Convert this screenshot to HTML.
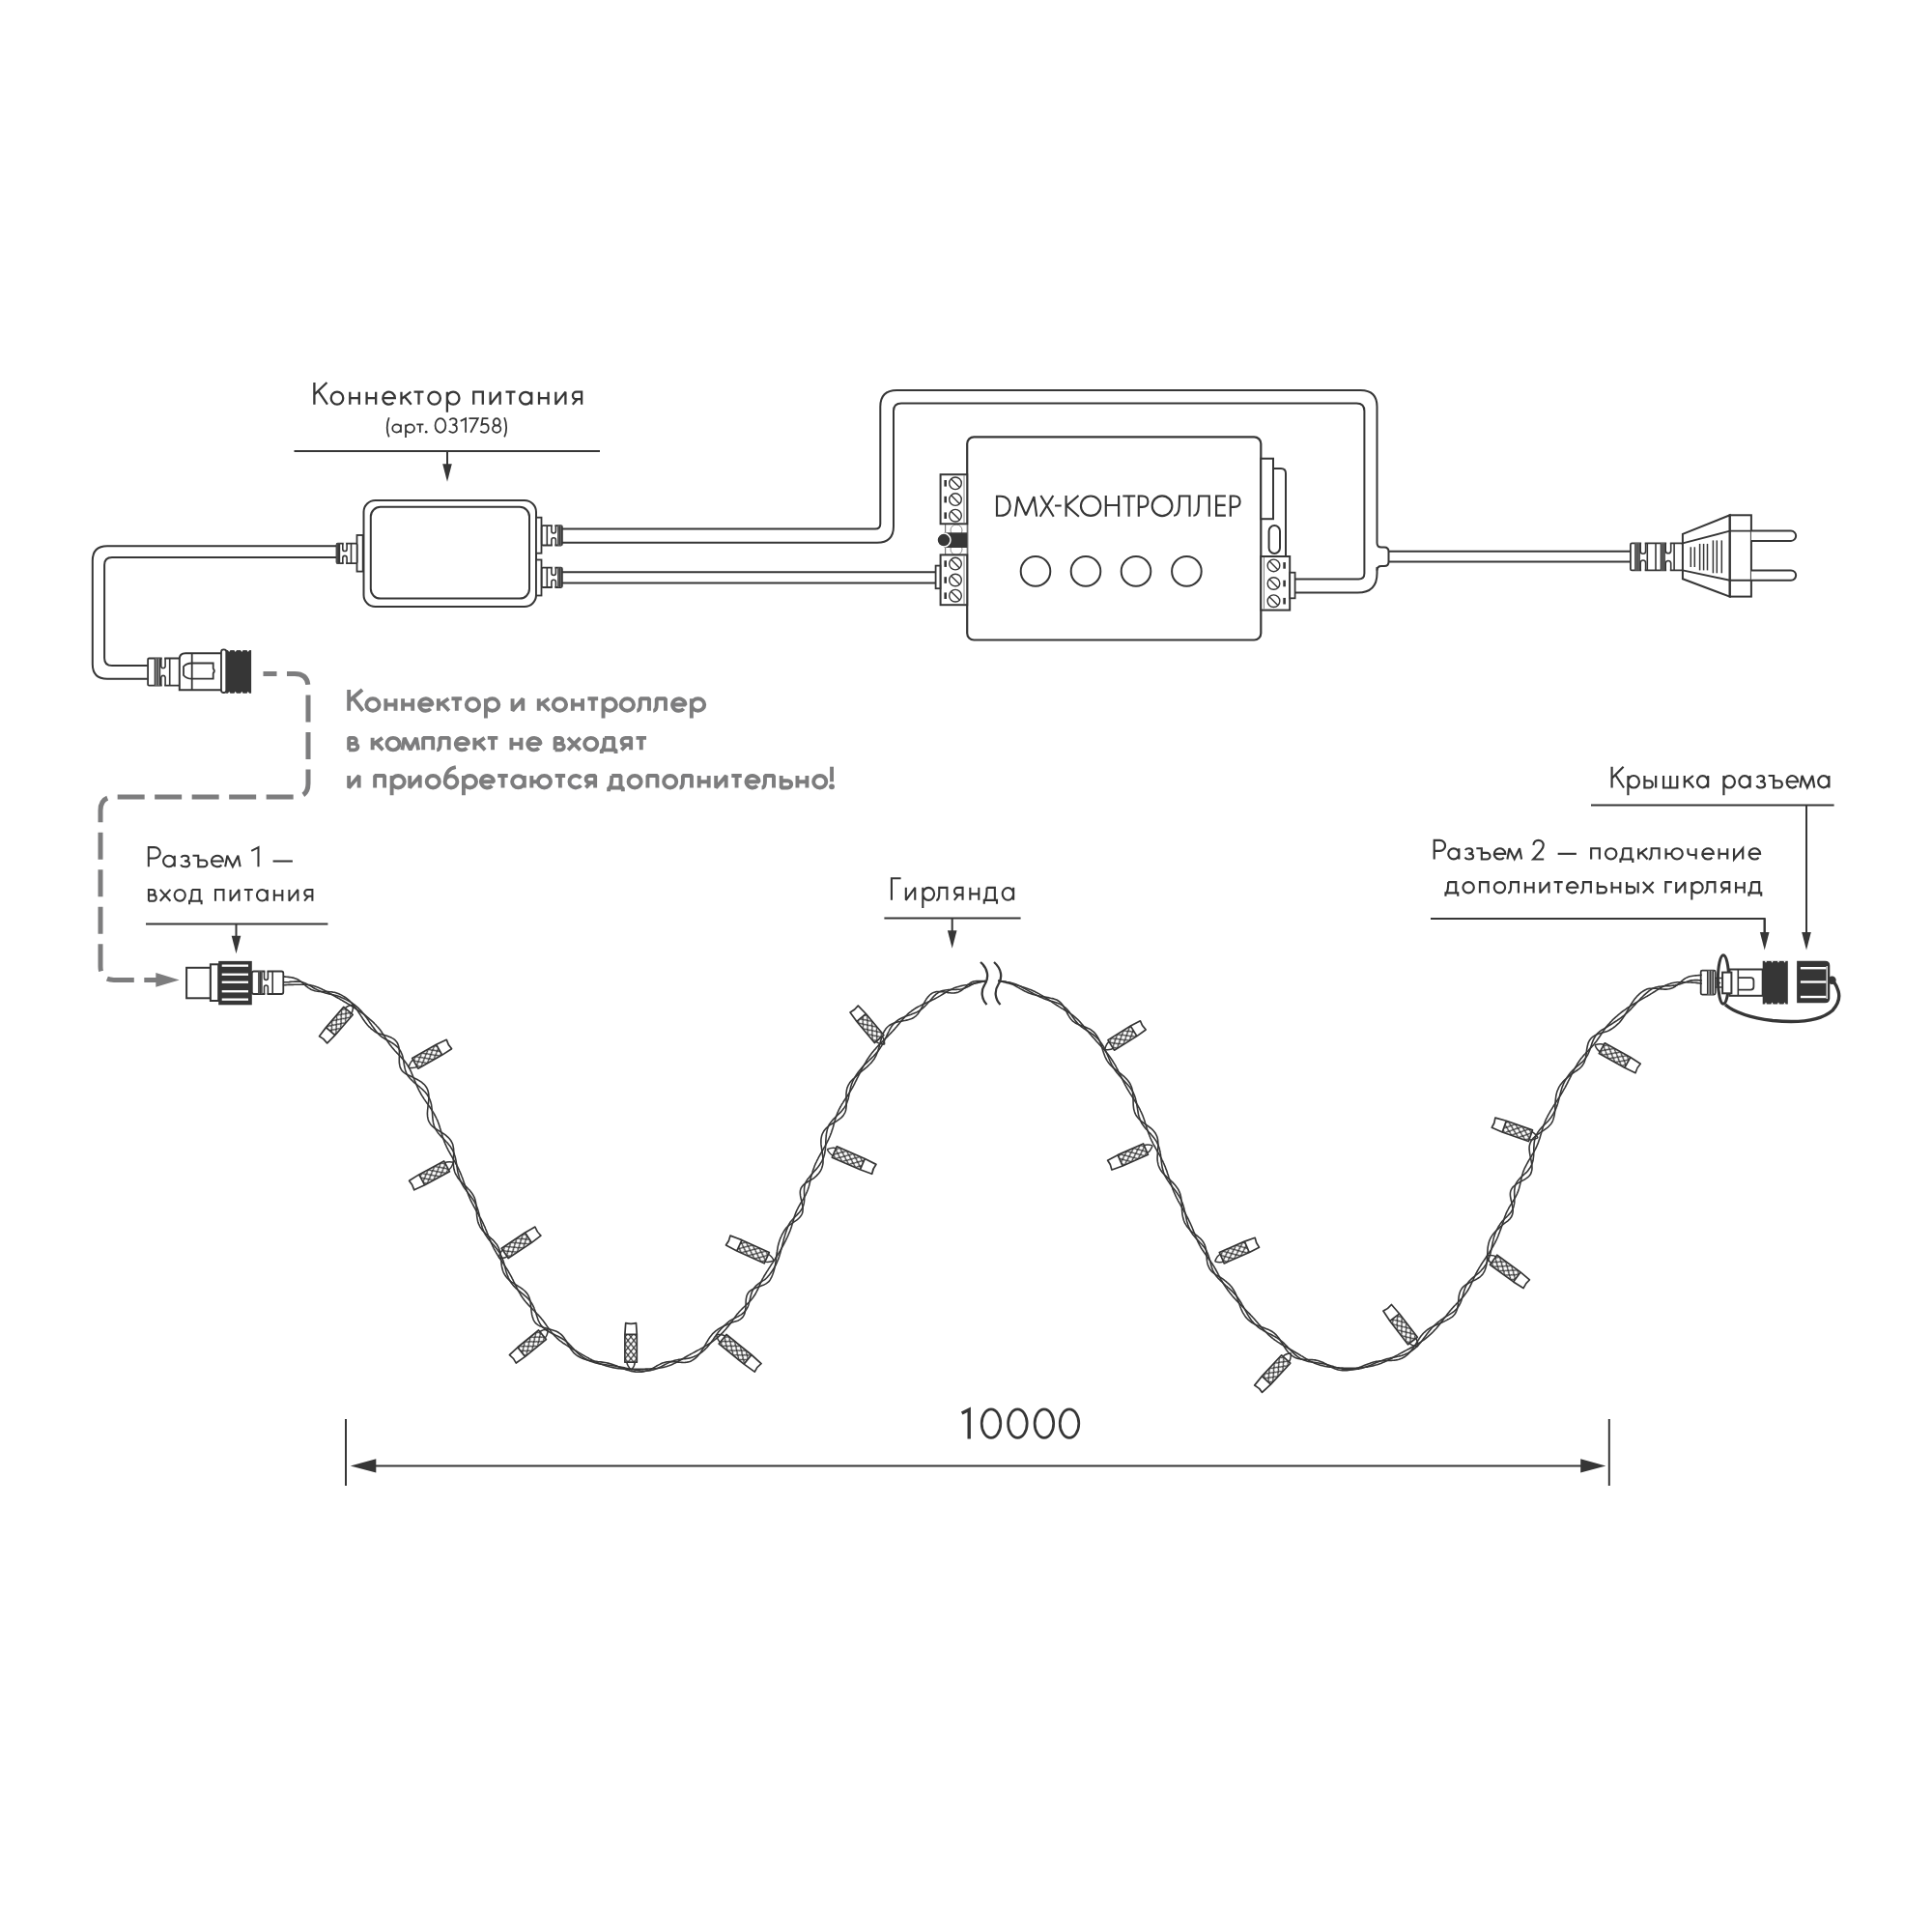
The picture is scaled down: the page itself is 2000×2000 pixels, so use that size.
<!DOCTYPE html>
<html><head><meta charset="utf-8"><style>
html,body{margin:0;padding:0;background:#fff;width:2000px;height:2000px;overflow:hidden}
svg{display:block}
text{font-family:"Liberation Sans",sans-serif}
</style></head><body>
<svg width="2000" height="2000" viewBox="0 0 2000 2000">
<rect width="2000" height="2000" fill="#fff"/>
<g fill="none" stroke="#363636" stroke-width="2.300" stroke-linecap="butt" stroke-linejoin="miter" stroke-miterlimit="3"><path vector-effect="non-scaling-stroke" transform="translate(325.40,418.65) scale(12.544,13.000)" d="M0,-1.74 V0 M1.04,-1.74 L0.02,-0.8 M0.34,-1.04 L1.08,0"/><path vector-effect="non-scaling-stroke" transform="translate(342.72,418.65) scale(12.544,13.000)" d="M1,-0.5 A0.5,0.5 0 1 1 0,-0.5 A0.5,0.5 0 1 1 1,-0.5 "/><path vector-effect="non-scaling-stroke" transform="translate(362.28,418.65) scale(12.544,13.000)" d="M0,-1 V0 M0.76,-1 V0 M0,-0.5 H0.76"/><path vector-effect="non-scaling-stroke" transform="translate(379.61,418.65) scale(12.544,13.000)" d="M0,-1 V0 M0.76,-1 V0 M0,-0.5 H0.76"/><path vector-effect="non-scaling-stroke" transform="translate(396.43,418.65) scale(12.544,13.000)" d="M0.02,-0.5 H0.99 A0.5,0.5 0 1 0 0.86,-0.16"/><path vector-effect="non-scaling-stroke" transform="translate(415.47,418.65) scale(12.544,13.000)" d="M0,-1 V0 M0.78,-1 L0.02,-0.44 M0.27,-0.62 L0.82,0"/><path vector-effect="non-scaling-stroke" transform="translate(428.50,418.65) scale(12.544,13.000)" d="M0,-1 H0.8 M0.4,-1 V0"/><path vector-effect="non-scaling-stroke" transform="translate(443.34,418.65) scale(12.544,13.000)" d="M1,-0.5 A0.5,0.5 0 1 1 0,-0.5 A0.5,0.5 0 1 1 1,-0.5 "/><path vector-effect="non-scaling-stroke" transform="translate(462.90,418.65) scale(12.544,13.000)" d="M0,-1 V0.62 M1,-0.5 A0.5,0.5 0 1 1 0,-0.5 A0.5,0.5 0 1 1 1,-0.5 "/><path vector-effect="non-scaling-stroke" transform="translate(490.27,418.65) scale(12.544,13.000)" d="M0,0 V-1 H0.76 V0"/><path vector-effect="non-scaling-stroke" transform="translate(507.60,418.65) scale(12.544,13.000)" d="M0,-1 V0 L0.8,-1 V0"/><path vector-effect="non-scaling-stroke" transform="translate(523.49,418.65) scale(12.544,13.000)" d="M0,-1 H0.8 M0.4,-1 V0"/><path vector-effect="non-scaling-stroke" transform="translate(538.07,418.65) scale(12.544,13.000)" d="M0.97,-0.5 A0.485,0.49 0 1 1 0,-0.5 A0.485,0.49 0 1 1 0.97,-0.5 M0.97,-1 V0"/><path vector-effect="non-scaling-stroke" transform="translate(558.04,418.65) scale(12.544,13.000)" d="M0,-1 V0 M0.76,-1 V0 M0,-0.5 H0.76"/><path vector-effect="non-scaling-stroke" transform="translate(575.37,418.65) scale(12.544,13.000)" d="M0,-1 V0 L0.8,-1 V0"/><path vector-effect="non-scaling-stroke" transform="translate(592.82,418.65) scale(12.544,13.000)" d="M0.74,0 V-1 H0.3 A0.29,0.29 0 0 0 0.3,-0.42 H0.74 M0.38,-0.42 L0.0,0"/></g>
<g fill="none" stroke="#363636" stroke-width="1.750" stroke-linecap="butt" stroke-linejoin="miter" stroke-miterlimit="3"><path vector-effect="non-scaling-stroke" transform="translate(400.77,447.75) scale(8.995,8.350)" d="M0.22,-1.86 C-0.08,-1.1 -0.08,-0.1 0.22,0.55"/><path vector-effect="non-scaling-stroke" transform="translate(406.26,447.75) scale(8.995,8.350)" d="M0.97,-0.5 A0.485,0.49 0 1 1 0,-0.5 A0.485,0.49 0 1 1 0.97,-0.5 M0.97,-1 V0"/><path vector-effect="non-scaling-stroke" transform="translate(420.00,447.75) scale(8.995,8.350)" d="M0,-1 V0.62 M1,-0.5 A0.5,0.5 0 1 1 0,-0.5 A0.5,0.5 0 1 1 1,-0.5 "/><path vector-effect="non-scaling-stroke" transform="translate(431.25,447.75) scale(8.995,8.350)" d="M0,-1 H0.8 M0.4,-1 V0"/><circle cx="441.20" cy="447.15" r="1.31" fill="#363636" stroke="none"/><path vector-effect="non-scaling-stroke" transform="translate(450.55,447.75) scale(8.995,8.350)" d="M1.2,-0.87 A0.6,0.87 0 1 1 0,-0.87 A0.6,0.87 0 1 1 1.2,-0.87 "/><path vector-effect="non-scaling-stroke" transform="translate(464.85,447.75) scale(8.995,8.350)" d="M0.06,-1.52 C0.16,-1.66 0.3,-1.74 0.46,-1.74 C0.7,-1.74 0.86,-1.57 0.86,-1.35 C0.86,-1.1 0.66,-0.97 0.38,-0.97 C0.7,-0.97 0.9,-0.8 0.9,-0.49 C0.9,-0.18 0.68,0 0.44,0 C0.24,0 0.08,-0.08 0,-0.2"/><path vector-effect="non-scaling-stroke" transform="translate(476.70,447.75) scale(8.995,8.350)" d="M0,-1.42 L0.6,-1.74 V0"/><path vector-effect="non-scaling-stroke" transform="translate(485.44,447.75) scale(8.995,8.350)" d="M0,-1.74 H1.04 L0.2,0"/><path vector-effect="non-scaling-stroke" transform="translate(497.30,447.75) scale(8.995,8.350)" d="M0.9,-1.74 H0.26 L0.14,-0.96 C0.26,-1.04 0.38,-1.07 0.5,-1.07 C0.76,-1.07 0.94,-0.84 0.94,-0.53 C0.94,-0.2 0.72,0 0.46,0 C0.28,0 0.1,-0.08 0,-0.2"/><path vector-effect="non-scaling-stroke" transform="translate(509.93,447.75) scale(8.995,8.350)" d="M0.85,-1.3 A0.38,0.44 0 1 1 0.09,-1.3 A0.38,0.44 0 1 1 0.85,-1.3 M0.94,-0.44 A0.47,0.44 0 1 1 0,-0.44 A0.47,0.44 0 1 1 0.94,-0.44 "/><path vector-effect="non-scaling-stroke" transform="translate(522.15,447.75) scale(8.995,8.350)" d="M0,-1.86 C0.3,-1.1 0.3,-0.1 0,0.55"/></g>
<line x1="304.5" y1="467" x2="621" y2="467" stroke="#363636" stroke-width="2"/>
<line x1="463" y1="467" x2="463" y2="482.2" stroke="#363636" stroke-width="2"/>
<polygon points="458.2,480.2 467.8,480.2 463,498.7" fill="#363636"/>
<g fill="none" stroke="#363636" stroke-width="2.050" stroke-linecap="butt" stroke-linejoin="miter" stroke-miterlimit="3"><path vector-effect="non-scaling-stroke" transform="translate(153.83,897.30) scale(12.088,11.600)" d="M0,0 V-1.74 H0.5 A0.49,0.49 0 0 1 0.5,-0.76 H0"/><path vector-effect="non-scaling-stroke" transform="translate(169.04,897.30) scale(12.088,11.600)" d="M0.97,-0.5 A0.485,0.49 0 1 1 0,-0.5 A0.485,0.49 0 1 1 0.97,-0.5 M0.97,-1 V0"/><path vector-effect="non-scaling-stroke" transform="translate(187.03,897.30) scale(12.088,11.600)" d="M0.03,-0.84 C0.11,-0.96 0.22,-1 0.36,-1 C0.56,-1 0.68,-0.9 0.68,-0.76 C0.68,-0.6 0.54,-0.52 0.32,-0.52 C0.6,-0.52 0.76,-0.42 0.76,-0.26 C0.76,-0.08 0.58,0 0.38,0 C0.21,0 0.07,-0.06 0,-0.18"/><path vector-effect="non-scaling-stroke" transform="translate(199.47,897.30) scale(12.088,11.600)" d="M0,-1 H0.48 V0 H0.95 A0.29,0.29 0 0 0 0.95,-0.58 H0.48"/><path vector-effect="non-scaling-stroke" transform="translate(218.99,897.30) scale(12.088,11.600)" d="M0.02,-0.5 H0.99 A0.5,0.5 0 1 0 0.86,-0.16"/><path vector-effect="non-scaling-stroke" transform="translate(233.16,897.30) scale(12.088,11.600)" d="M0,0 L0.18,-1 L0.64,-0.02 L1.1,-1 L1.28,0"/><path vector-effect="non-scaling-stroke" transform="translate(260.23,897.30) scale(12.088,11.600)" d="M0,-1.42 L0.6,-1.74 V0"/><path vector-effect="non-scaling-stroke" transform="translate(282.57,897.30) scale(12.088,11.600)" d="M0,-0.5 H1.68"/></g>
<g fill="none" stroke="#363636" stroke-width="2.050" stroke-linecap="butt" stroke-linejoin="miter" stroke-miterlimit="3"><path vector-effect="non-scaling-stroke" transform="translate(153.93,932.70) scale(11.186,11.800)" d="M0,0 V-1 H0.34 A0.24,0.24 0 0 1 0.34,-0.52 H0 M0.34,-0.52 H0.44 A0.26,0.26 0 0 1 0.44,0 H0"/><path vector-effect="non-scaling-stroke" transform="translate(165.76,932.70) scale(11.186,11.800)" d="M0,-1 L0.95,0 M0.95,-1 L0,0"/><path vector-effect="non-scaling-stroke" transform="translate(180.63,932.70) scale(11.186,11.800)" d="M1,-0.5 A0.5,0.5 0 1 1 0,-0.5 A0.5,0.5 0 1 1 1,-0.5 "/><path vector-effect="non-scaling-stroke" transform="translate(196.06,932.70) scale(11.186,11.800)" d="M0.24,-1 H0.94 V0 M0.24,-1 C0.24,-0.45 0.18,-0.12 0.08,0 M0,0.3 V0 H1.12 V0.3"/><path vector-effect="non-scaling-stroke" transform="translate(222.99,932.70) scale(11.186,11.800)" d="M0,0 V-1 H0.76 V0"/><path vector-effect="non-scaling-stroke" transform="translate(238.57,932.70) scale(11.186,11.800)" d="M0,-1 V0 L0.8,-1 V0"/><path vector-effect="non-scaling-stroke" transform="translate(252.83,932.70) scale(11.186,11.800)" d="M0,-1 H0.8 M0.4,-1 V0"/><path vector-effect="non-scaling-stroke" transform="translate(265.91,932.70) scale(11.186,11.800)" d="M0.97,-0.5 A0.485,0.49 0 1 1 0,-0.5 A0.485,0.49 0 1 1 0.97,-0.5 M0.97,-1 V0"/><path vector-effect="non-scaling-stroke" transform="translate(283.84,932.70) scale(11.186,11.800)" d="M0,-1 V0 M0.76,-1 V0 M0,-0.5 H0.76"/><path vector-effect="non-scaling-stroke" transform="translate(299.42,932.70) scale(11.186,11.800)" d="M0,-1 V0 L0.8,-1 V0"/><path vector-effect="non-scaling-stroke" transform="translate(315.10,932.70) scale(11.186,11.800)" d="M0.74,0 V-1 H0.3 A0.29,0.29 0 0 0 0.3,-0.42 H0.74 M0.38,-0.42 L0.0,0"/></g>
<line x1="151" y1="956.4" x2="339.4" y2="956.4" stroke="#363636" stroke-width="2"/>
<line x1="244.5" y1="956.4" x2="244.5" y2="970.7" stroke="#363636" stroke-width="2"/>
<polygon points="239.7,968.7 249.3,968.7 244.5,987.2" fill="#363636"/>
<g fill="none" stroke="#363636" stroke-width="2.100" stroke-linecap="butt" stroke-linejoin="miter" stroke-miterlimit="3"><path vector-effect="non-scaling-stroke" transform="translate(922.95,931.85) scale(11.797,13.000)" d="M0,0 V-1.74 H0.82"/><path vector-effect="non-scaling-stroke" transform="translate(937.82,931.85) scale(11.797,13.000)" d="M0,-1 V0 L0.8,-1 V0"/><path vector-effect="non-scaling-stroke" transform="translate(955.32,931.85) scale(11.797,13.000)" d="M0,-1 V0.62 M1,-0.5 A0.5,0.5 0 1 1 0,-0.5 A0.5,0.5 0 1 1 1,-0.5 "/><path vector-effect="non-scaling-stroke" transform="translate(969.20,931.85) scale(11.797,13.000)" d="M0.95,0 V-1 H0.26 V-0.52 C0.26,-0.15 0.16,0 0,0"/><path vector-effect="non-scaling-stroke" transform="translate(987.82,931.85) scale(11.797,13.000)" d="M0.74,0 V-1 H0.3 A0.29,0.29 0 0 0 0.3,-0.42 H0.74 M0.38,-0.42 L0.0,0"/><path vector-effect="non-scaling-stroke" transform="translate(1004.35,931.85) scale(11.797,13.000)" d="M0,-1 V0 M0.76,-1 V0 M0,-0.5 H0.76"/><path vector-effect="non-scaling-stroke" transform="translate(1018.77,931.85) scale(11.797,13.000)" d="M0.24,-1 H0.94 V0 M0.24,-1 C0.24,-0.45 0.18,-0.12 0.08,0 M0,0.3 V0 H1.12 V0.3"/><path vector-effect="non-scaling-stroke" transform="translate(1037.71,931.85) scale(11.797,13.000)" d="M0.97,-0.5 A0.485,0.49 0 1 1 0,-0.5 A0.485,0.49 0 1 1 0.97,-0.5 M0.97,-1 V0"/></g>
<line x1="915.4" y1="950.4" x2="1056.6" y2="950.4" stroke="#363636" stroke-width="2"/>
<line x1="985.7" y1="950.4" x2="985.7" y2="965.3" stroke="#363636" stroke-width="2"/>
<polygon points="980.9,963.3 990.5,963.3 985.7,981.8" fill="#363636"/>
<g fill="none" stroke="#363636" stroke-width="2.200" stroke-linecap="butt" stroke-linejoin="miter" stroke-miterlimit="3"><path vector-effect="non-scaling-stroke" transform="translate(1668.60,815.50) scale(11.510,12.500)" d="M0,-1.74 V0 M1.04,-1.74 L0.02,-0.8 M0.34,-1.04 L1.08,0"/><path vector-effect="non-scaling-stroke" transform="translate(1685.41,815.50) scale(11.510,12.500)" d="M0,-1 V0.62 M1,-0.5 A0.5,0.5 0 1 1 0,-0.5 A0.5,0.5 0 1 1 1,-0.5 "/><path vector-effect="non-scaling-stroke" transform="translate(1702.42,815.50) scale(11.510,12.500)" d="M0,-1 V0 H0.44 A0.29,0.29 0 0 0 0.44,-0.58 H0 M1.02,-1 V0"/><path vector-effect="non-scaling-stroke" transform="translate(1722.03,815.50) scale(11.510,12.500)" d="M0,-1 V0 H1.24 V-1 M0.62,-1 V0"/><path vector-effect="non-scaling-stroke" transform="translate(1743.81,815.50) scale(11.510,12.500)" d="M0,-1 V0 M0.78,-1 L0.02,-0.44 M0.27,-0.62 L0.82,0"/><path vector-effect="non-scaling-stroke" transform="translate(1757.01,815.50) scale(11.510,12.500)" d="M0.97,-0.5 A0.485,0.49 0 1 1 0,-0.5 A0.485,0.49 0 1 1 0.97,-0.5 M0.97,-1 V0"/><path vector-effect="non-scaling-stroke" transform="translate(1784.43,815.50) scale(11.510,12.500)" d="M0,-1 V0.62 M1,-0.5 A0.5,0.5 0 1 1 0,-0.5 A0.5,0.5 0 1 1 1,-0.5 "/><path vector-effect="non-scaling-stroke" transform="translate(1800.44,815.50) scale(11.510,12.500)" d="M0.97,-0.5 A0.485,0.49 0 1 1 0,-0.5 A0.485,0.49 0 1 1 0.97,-0.5 M0.97,-1 V0"/><path vector-effect="non-scaling-stroke" transform="translate(1818.35,815.50) scale(11.510,12.500)" d="M0.03,-0.84 C0.11,-0.96 0.22,-1 0.36,-1 C0.56,-1 0.68,-0.9 0.68,-0.76 C0.68,-0.6 0.54,-0.52 0.32,-0.52 C0.6,-0.52 0.76,-0.42 0.76,-0.26 C0.76,-0.08 0.58,0 0.38,0 C0.21,0 0.07,-0.06 0,-0.18"/><path vector-effect="non-scaling-stroke" transform="translate(1830.60,815.50) scale(11.510,12.500)" d="M0,-1 H0.48 V0 H0.95 A0.29,0.29 0 0 0 0.95,-0.58 H0.48"/><path vector-effect="non-scaling-stroke" transform="translate(1849.74,815.50) scale(11.510,12.500)" d="M0.02,-0.5 H0.99 A0.5,0.5 0 1 0 0.86,-0.16"/><path vector-effect="non-scaling-stroke" transform="translate(1863.50,815.50) scale(11.510,12.500)" d="M0,0 L0.18,-1 L0.64,-0.02 L1.1,-1 L1.28,0"/><path vector-effect="non-scaling-stroke" transform="translate(1882.23,815.50) scale(11.510,12.500)" d="M0.97,-0.5 A0.485,0.49 0 1 1 0,-0.5 A0.485,0.49 0 1 1 0.97,-0.5 M0.97,-1 V0"/></g>
<line x1="1647" y1="833.6" x2="1898.6" y2="833.6" stroke="#363636" stroke-width="2"/>
<line x1="1870" y1="833.6" x2="1870" y2="967.1" stroke="#363636" stroke-width="2"/>
<polygon points="1865.2,965.1 1874.8,965.1 1870,983.6" fill="#363636"/>
<g fill="none" stroke="#363636" stroke-width="2.150" stroke-linecap="butt" stroke-linejoin="miter" stroke-miterlimit="3"><path vector-effect="non-scaling-stroke" transform="translate(1484.73,889.50) scale(11.456,11.300)" d="M0,0 V-1.74 H0.5 A0.49,0.49 0 0 1 0.5,-0.76 H0"/><path vector-effect="non-scaling-stroke" transform="translate(1499.23,889.50) scale(11.456,11.300)" d="M0.97,-0.5 A0.485,0.49 0 1 1 0,-0.5 A0.485,0.49 0 1 1 0.97,-0.5 M0.97,-1 V0"/><path vector-effect="non-scaling-stroke" transform="translate(1516.45,889.50) scale(11.456,11.300)" d="M0.03,-0.84 C0.11,-0.96 0.22,-1 0.36,-1 C0.56,-1 0.68,-0.9 0.68,-0.76 C0.68,-0.6 0.54,-0.52 0.32,-0.52 C0.6,-0.52 0.76,-0.42 0.76,-0.26 C0.76,-0.08 0.58,0 0.38,0 C0.21,0 0.07,-0.06 0,-0.18"/><path vector-effect="non-scaling-stroke" transform="translate(1528.32,889.50) scale(11.456,11.300)" d="M0,-1 H0.48 V0 H0.95 A0.29,0.29 0 0 0 0.95,-0.58 H0.48"/><path vector-effect="non-scaling-stroke" transform="translate(1546.93,889.50) scale(11.456,11.300)" d="M0.02,-0.5 H0.99 A0.5,0.5 0 1 0 0.86,-0.16"/><path vector-effect="non-scaling-stroke" transform="translate(1560.42,889.50) scale(11.456,11.300)" d="M0,0 L0.18,-1 L0.64,-0.02 L1.1,-1 L1.28,0"/><path vector-effect="non-scaling-stroke" transform="translate(1586.95,889.50) scale(11.456,11.300)" d="M0.04,-1.3 C0.06,-1.58 0.26,-1.74 0.48,-1.74 C0.76,-1.74 0.94,-1.54 0.94,-1.28 C0.94,-1.0 0.74,-0.78 0.02,0 H0.98"/><path vector-effect="non-scaling-stroke" transform="translate(1612.64,889.50) scale(11.456,11.300)" d="M0,-0.5 H1.68"/><path vector-effect="non-scaling-stroke" transform="translate(1647.14,889.50) scale(11.456,11.300)" d="M0,0 V-1 H0.76 V0"/><path vector-effect="non-scaling-stroke" transform="translate(1661.95,889.50) scale(11.456,11.300)" d="M1,-0.5 A0.5,0.5 0 1 1 0,-0.5 A0.5,0.5 0 1 1 1,-0.5 "/><path vector-effect="non-scaling-stroke" transform="translate(1677.48,889.50) scale(11.456,11.300)" d="M0.24,-1 H0.94 V0 M0.24,-1 C0.24,-0.45 0.18,-0.12 0.08,0 M0,0.3 V0 H1.12 V0.3"/><path vector-effect="non-scaling-stroke" transform="translate(1696.18,889.50) scale(11.456,11.300)" d="M0,-1 V0 M0.78,-1 L0.02,-0.44 M0.27,-0.62 L0.82,0"/><path vector-effect="non-scaling-stroke" transform="translate(1706.70,889.50) scale(11.456,11.300)" d="M0.95,0 V-1 H0.26 V-0.52 C0.26,-0.15 0.16,0 0,0"/><path vector-effect="non-scaling-stroke" transform="translate(1724.59,889.50) scale(11.456,11.300)" d="M0,-1 V0 M0,-0.5 H0.48 M1.5,-0.5 A0.5,0.5 0 1 1 0.5,-0.5 A0.5,0.5 0 1 1 1.5,-0.5 "/><path vector-effect="non-scaling-stroke" transform="translate(1747.43,889.50) scale(11.456,11.300)" d="M0,-1 V-0.66 C0,-0.48 0.12,-0.4 0.32,-0.4 H0.72 M0.72,-1 V0"/><path vector-effect="non-scaling-stroke" transform="translate(1762.46,889.50) scale(11.456,11.300)" d="M0.02,-0.5 H0.99 A0.5,0.5 0 1 0 0.86,-0.16"/><path vector-effect="non-scaling-stroke" transform="translate(1779.56,889.50) scale(11.456,11.300)" d="M0,-1 V0 M0.76,-1 V0 M0,-0.5 H0.76"/><path vector-effect="non-scaling-stroke" transform="translate(1795.05,889.50) scale(11.456,11.300)" d="M0,-1 V0 L0.8,-1 V0"/><path vector-effect="non-scaling-stroke" transform="translate(1810.77,889.50) scale(11.456,11.300)" d="M0.02,-0.5 H0.99 A0.5,0.5 0 1 0 0.86,-0.16"/></g>
<g fill="none" stroke="#363636" stroke-width="2.150" stroke-linecap="butt" stroke-linejoin="miter" stroke-miterlimit="3"><path vector-effect="non-scaling-stroke" transform="translate(1496.48,924.40) scale(11.407,11.300)" d="M0.24,-1 H0.94 V0 M0.24,-1 C0.24,-0.45 0.18,-0.12 0.08,0 M0,0.3 V0 H1.12 V0.3"/><path vector-effect="non-scaling-stroke" transform="translate(1514.45,924.40) scale(11.407,11.300)" d="M1,-0.5 A0.5,0.5 0 1 1 0,-0.5 A0.5,0.5 0 1 1 1,-0.5 "/><path vector-effect="non-scaling-stroke" transform="translate(1531.96,924.40) scale(11.407,11.300)" d="M0,0 V-1 H0.76 V0"/><path vector-effect="non-scaling-stroke" transform="translate(1546.73,924.40) scale(11.407,11.300)" d="M1,-0.5 A0.5,0.5 0 1 1 0,-0.5 A0.5,0.5 0 1 1 1,-0.5 "/><path vector-effect="non-scaling-stroke" transform="translate(1561.07,924.40) scale(11.407,11.300)" d="M0.95,0 V-1 H0.26 V-0.52 C0.26,-0.15 0.16,0 0,0"/><path vector-effect="non-scaling-stroke" transform="translate(1578.92,924.40) scale(11.407,11.300)" d="M0,-1 V0 M0.76,-1 V0 M0,-0.5 H0.76"/><path vector-effect="non-scaling-stroke" transform="translate(1594.36,924.40) scale(11.407,11.300)" d="M0,-1 V0 L0.8,-1 V0"/><path vector-effect="non-scaling-stroke" transform="translate(1608.58,924.40) scale(11.407,11.300)" d="M0,-1 H0.8 M0.4,-1 V0"/><path vector-effect="non-scaling-stroke" transform="translate(1622.11,924.40) scale(11.407,11.300)" d="M0.02,-0.5 H0.99 A0.5,0.5 0 1 0 0.86,-0.16"/><path vector-effect="non-scaling-stroke" transform="translate(1636.00,924.40) scale(11.407,11.300)" d="M0.95,0 V-1 H0.26 V-0.52 C0.26,-0.15 0.16,0 0,0"/><path vector-effect="non-scaling-stroke" transform="translate(1653.84,924.40) scale(11.407,11.300)" d="M0,-1 V0 H0.51 A0.29,0.29 0 0 0 0.51,-0.58 H0"/><path vector-effect="non-scaling-stroke" transform="translate(1668.62,924.40) scale(11.407,11.300)" d="M0,-1 V0 M0.76,-1 V0 M0,-0.5 H0.76"/><path vector-effect="non-scaling-stroke" transform="translate(1684.07,924.40) scale(11.407,11.300)" d="M0,-1 V0 H0.44 A0.29,0.29 0 0 0 0.44,-0.58 H0 M1.02,-1 V0"/><path vector-effect="non-scaling-stroke" transform="translate(1700.79,924.40) scale(11.407,11.300)" d="M0,-1 L0.95,0 M0.95,-1 L0,0"/><path vector-effect="non-scaling-stroke" transform="translate(1724.28,924.40) scale(11.407,11.300)" d="M0,0 V-1 H0.58"/><path vector-effect="non-scaling-stroke" transform="translate(1735.19,924.40) scale(11.407,11.300)" d="M0,-1 V0 L0.8,-1 V0"/><path vector-effect="non-scaling-stroke" transform="translate(1751.32,924.40) scale(11.407,11.300)" d="M0,-1 V0.62 M1,-0.5 A0.5,0.5 0 1 1 0,-0.5 A0.5,0.5 0 1 1 1,-0.5 "/><path vector-effect="non-scaling-stroke" transform="translate(1764.54,924.40) scale(11.407,11.300)" d="M0.95,0 V-1 H0.26 V-0.52 C0.26,-0.15 0.16,0 0,0"/><path vector-effect="non-scaling-stroke" transform="translate(1781.81,924.40) scale(11.407,11.300)" d="M0.74,0 V-1 H0.3 A0.29,0.29 0 0 0 0.3,-0.42 H0.74 M0.38,-0.42 L0.0,0"/><path vector-effect="non-scaling-stroke" transform="translate(1797.03,924.40) scale(11.407,11.300)" d="M0,-1 V0 M0.76,-1 V0 M0,-0.5 H0.76"/><path vector-effect="non-scaling-stroke" transform="translate(1810.45,924.40) scale(11.407,11.300)" d="M0.24,-1 H0.94 V0 M0.24,-1 C0.24,-0.45 0.18,-0.12 0.08,0 M0,0.3 V0 H1.12 V0.3"/></g>
<path d="M1481,951 H1826.7 V965" fill="none" stroke="#363636" stroke-width="2"/>
<line x1="1826.7" y1="951" x2="1826.7" y2="967.1" stroke="#363636" stroke-width="2"/>
<polygon points="1821.9,965.1 1831.5,965.1 1826.7,983.6" fill="#363636"/>
<g fill="none" stroke="#7d7d7e" stroke-width="3.900" stroke-linecap="butt" stroke-linejoin="miter" stroke-miterlimit="1.3"><path vector-effect="non-scaling-stroke" transform="translate(361.15,735.75) scale(13.389,12.500)" d="M0,-1.74 V0 M1.04,-1.74 L0.02,-0.8 M0.34,-1.04 L1.08,0"/><path vector-effect="non-scaling-stroke" transform="translate(379.23,735.75) scale(13.389,12.500)" d="M1,-0.5 A0.5,0.5 0 1 1 0,-0.5 A0.5,0.5 0 1 1 1,-0.5 "/><path vector-effect="non-scaling-stroke" transform="translate(399.37,735.75) scale(13.389,12.500)" d="M0,-1 V0 M0.76,-1 V0 M0,-0.5 H0.76"/><path vector-effect="non-scaling-stroke" transform="translate(417.05,735.75) scale(13.389,12.500)" d="M0,-1 V0 M0.76,-1 V0 M0,-0.5 H0.76"/><path vector-effect="non-scaling-stroke" transform="translate(434.22,735.75) scale(13.389,12.500)" d="M0.02,-0.5 H0.99 A0.5,0.5 0 1 0 0.86,-0.16"/><path vector-effect="non-scaling-stroke" transform="translate(453.86,735.75) scale(13.389,12.500)" d="M0,-1 V0 M0.78,-1 L0.02,-0.44 M0.27,-0.62 L0.82,0"/><path vector-effect="non-scaling-stroke" transform="translate(467.45,735.75) scale(13.389,12.500)" d="M0,-1 H0.8 M0.4,-1 V0"/><path vector-effect="non-scaling-stroke" transform="translate(482.78,735.75) scale(13.389,12.500)" d="M1,-0.5 A0.5,0.5 0 1 1 0,-0.5 A0.5,0.5 0 1 1 1,-0.5 "/><path vector-effect="non-scaling-stroke" transform="translate(502.92,735.75) scale(13.389,12.500)" d="M0,-1 V0.62 M1,-0.5 A0.5,0.5 0 1 1 0,-0.5 A0.5,0.5 0 1 1 1,-0.5 "/><path vector-effect="non-scaling-stroke" transform="translate(530.56,735.75) scale(13.389,12.500)" d="M0,-1 V0 L0.8,-1 V0"/><path vector-effect="non-scaling-stroke" transform="translate(557.77,735.75) scale(13.389,12.500)" d="M0,-1 V0 M0.78,-1 L0.02,-0.44 M0.27,-0.62 L0.82,0"/><path vector-effect="non-scaling-stroke" transform="translate(572.73,735.75) scale(13.389,12.500)" d="M1,-0.5 A0.5,0.5 0 1 1 0,-0.5 A0.5,0.5 0 1 1 1,-0.5 "/><path vector-effect="non-scaling-stroke" transform="translate(592.87,735.75) scale(13.389,12.500)" d="M0,-1 V0 M0.76,-1 V0 M0,-0.5 H0.76"/><path vector-effect="non-scaling-stroke" transform="translate(608.42,735.75) scale(13.389,12.500)" d="M0,-1 H0.8 M0.4,-1 V0"/><path vector-effect="non-scaling-stroke" transform="translate(624.51,735.75) scale(13.389,12.500)" d="M0,-1 V0.62 M1,-0.5 A0.5,0.5 0 1 1 0,-0.5 A0.5,0.5 0 1 1 1,-0.5 "/><path vector-effect="non-scaling-stroke" transform="translate(642.65,735.75) scale(13.389,12.500)" d="M1,-0.5 A0.5,0.5 0 1 1 0,-0.5 A0.5,0.5 0 1 1 1,-0.5 "/><path vector-effect="non-scaling-stroke" transform="translate(659.28,735.75) scale(13.389,12.500)" d="M0.95,0 V-1 H0.26 V-0.52 C0.26,-0.15 0.16,0 0,0"/><path vector-effect="non-scaling-stroke" transform="translate(676.25,735.75) scale(13.389,12.500)" d="M0.95,0 V-1 H0.26 V-0.52 C0.26,-0.15 0.16,0 0,0"/><path vector-effect="non-scaling-stroke" transform="translate(696.22,735.75) scale(13.389,12.500)" d="M0.02,-0.5 H0.99 A0.5,0.5 0 1 0 0.86,-0.16"/><path vector-effect="non-scaling-stroke" transform="translate(715.86,735.75) scale(13.389,12.500)" d="M0,-1 V0.62 M1,-0.5 A0.5,0.5 0 1 1 0,-0.5 A0.5,0.5 0 1 1 1,-0.5 "/></g>
<g fill="none" stroke="#7d7d7e" stroke-width="3.900" stroke-linecap="butt" stroke-linejoin="miter" stroke-miterlimit="1.3"><path vector-effect="non-scaling-stroke" transform="translate(361.15,776.35) scale(13.168,12.500)" d="M0,0 V-1 H0.34 A0.24,0.24 0 0 1 0.34,-0.52 H0 M0.34,-0.52 H0.44 A0.26,0.26 0 0 1 0.44,0 H0"/><path vector-effect="non-scaling-stroke" transform="translate(385.63,776.35) scale(13.168,12.500)" d="M0,-1 V0 M0.78,-1 L0.02,-0.44 M0.27,-0.62 L0.82,0"/><path vector-effect="non-scaling-stroke" transform="translate(400.41,776.35) scale(13.168,12.500)" d="M1,-0.5 A0.5,0.5 0 1 1 0,-0.5 A0.5,0.5 0 1 1 1,-0.5 "/><path vector-effect="non-scaling-stroke" transform="translate(416.33,776.35) scale(13.168,12.500)" d="M0,0 L0.18,-1 L0.64,-0.02 L1.1,-1 L1.28,0"/><path vector-effect="non-scaling-stroke" transform="translate(438.19,776.35) scale(13.168,12.500)" d="M0,0 V-1 H0.76 V0"/><path vector-effect="non-scaling-stroke" transform="translate(452.19,776.35) scale(13.168,12.500)" d="M0.95,0 V-1 H0.26 V-0.52 C0.26,-0.15 0.16,0 0,0"/><path vector-effect="non-scaling-stroke" transform="translate(471.95,776.35) scale(13.168,12.500)" d="M0.02,-0.5 H0.99 A0.5,0.5 0 1 0 0.86,-0.16"/><path vector-effect="non-scaling-stroke" transform="translate(491.37,776.35) scale(13.168,12.500)" d="M0,-1 V0 M0.78,-1 L0.02,-0.44 M0.27,-0.62 L0.82,0"/><path vector-effect="non-scaling-stroke" transform="translate(504.78,776.35) scale(13.168,12.500)" d="M0,-1 H0.8 M0.4,-1 V0"/><path vector-effect="non-scaling-stroke" transform="translate(529.44,776.35) scale(13.168,12.500)" d="M0,-1 V0 M0.76,-1 V0 M0,-0.5 H0.76"/><path vector-effect="non-scaling-stroke" transform="translate(546.45,776.35) scale(13.168,12.500)" d="M0.02,-0.5 H0.99 A0.5,0.5 0 1 0 0.86,-0.16"/><path vector-effect="non-scaling-stroke" transform="translate(574.62,776.35) scale(13.168,12.500)" d="M0,0 V-1 H0.34 A0.24,0.24 0 0 1 0.34,-0.52 H0 M0.34,-0.52 H0.44 A0.26,0.26 0 0 1 0.44,0 H0"/><path vector-effect="non-scaling-stroke" transform="translate(588.10,776.35) scale(13.168,12.500)" d="M0,-1 L0.95,0 M0.95,-1 L0,0"/><path vector-effect="non-scaling-stroke" transform="translate(605.11,776.35) scale(13.168,12.500)" d="M1,-0.5 A0.5,0.5 0 1 1 0,-0.5 A0.5,0.5 0 1 1 1,-0.5 "/><path vector-effect="non-scaling-stroke" transform="translate(622.77,776.35) scale(13.168,12.500)" d="M0.24,-1 H0.94 V0 M0.24,-1 C0.24,-0.45 0.18,-0.12 0.08,0 M0,0.3 V0 H1.12 V0.3"/><path vector-effect="non-scaling-stroke" transform="translate(643.40,776.35) scale(13.168,12.500)" d="M0.74,0 V-1 H0.3 A0.29,0.29 0 0 0 0.3,-0.42 H0.74 M0.38,-0.42 L0.0,0"/><path vector-effect="non-scaling-stroke" transform="translate(658.52,776.35) scale(13.168,12.500)" d="M0,-1 H0.8 M0.4,-1 V0"/></g>
<g fill="none" stroke="#7d7d7e" stroke-width="3.900" stroke-linecap="butt" stroke-linejoin="miter" stroke-miterlimit="1.3"><path vector-effect="non-scaling-stroke" transform="translate(361.15,815.45) scale(13.112,12.500)" d="M0,-1 V0 L0.8,-1 V0"/><path vector-effect="non-scaling-stroke" transform="translate(388.14,815.45) scale(13.112,12.500)" d="M0,0 V-1 H0.76 V0"/><path vector-effect="non-scaling-stroke" transform="translate(405.60,815.45) scale(13.112,12.500)" d="M0,-1 V0.62 M1,-0.5 A0.5,0.5 0 1 1 0,-0.5 A0.5,0.5 0 1 1 1,-0.5 "/><path vector-effect="non-scaling-stroke" transform="translate(424.22,815.45) scale(13.112,12.500)" d="M0,-1 V0 L0.8,-1 V0"/><path vector-effect="non-scaling-stroke" transform="translate(441.71,815.45) scale(13.112,12.500)" d="M1,-0.5 A0.5,0.5 0 1 1 0,-0.5 A0.5,0.5 0 1 1 1,-0.5 "/><path vector-effect="non-scaling-stroke" transform="translate(460.57,815.45) scale(13.112,12.500)" d="M0.98,-0.49 A0.49,0.49 0 1 1 0,-0.49 A0.49,0.49 0 1 1 0.98,-0.49 M0.02,-0.5 C0.04,-1.25 0.3,-1.6 0.86,-1.7"/><path vector-effect="non-scaling-stroke" transform="translate(479.92,815.45) scale(13.112,12.500)" d="M0,-1 V0.62 M1,-0.5 A0.5,0.5 0 1 1 0,-0.5 A0.5,0.5 0 1 1 1,-0.5 "/><path vector-effect="non-scaling-stroke" transform="translate(498.03,815.45) scale(13.112,12.500)" d="M0.02,-0.5 H0.99 A0.5,0.5 0 1 0 0.86,-0.16"/><path vector-effect="non-scaling-stroke" transform="translate(515.27,815.45) scale(13.112,12.500)" d="M0,-1 H0.8 M0.4,-1 V0"/><path vector-effect="non-scaling-stroke" transform="translate(530.13,815.45) scale(13.112,12.500)" d="M0.97,-0.5 A0.485,0.49 0 1 1 0,-0.5 A0.485,0.49 0 1 1 0.97,-0.5 M0.97,-1 V0"/><path vector-effect="non-scaling-stroke" transform="translate(550.35,815.45) scale(13.112,12.500)" d="M0,-1 V0 M0,-0.5 H0.48 M1.5,-0.5 A0.5,0.5 0 1 1 0.5,-0.5 A0.5,0.5 0 1 1 1.5,-0.5 "/><path vector-effect="non-scaling-stroke" transform="translate(574.64,815.45) scale(13.112,12.500)" d="M0,-1 H0.8 M0.4,-1 V0"/><path vector-effect="non-scaling-stroke" transform="translate(589.76,815.45) scale(13.112,12.500)" d="M0.88,-0.8 A0.5,0.5 0 1 0 0.88,-0.2"/><path vector-effect="non-scaling-stroke" transform="translate(606.44,815.45) scale(13.112,12.500)" d="M0.74,0 V-1 H0.3 A0.29,0.29 0 0 0 0.3,-0.42 H0.74 M0.38,-0.42 L0.0,0"/><path vector-effect="non-scaling-stroke" transform="translate(630.14,815.45) scale(13.112,12.500)" d="M0.24,-1 H0.94 V0 M0.24,-1 C0.24,-0.45 0.18,-0.12 0.08,0 M0,0.3 V0 H1.12 V0.3"/><path vector-effect="non-scaling-stroke" transform="translate(650.57,815.45) scale(13.112,12.500)" d="M1,-0.5 A0.5,0.5 0 1 1 0,-0.5 A0.5,0.5 0 1 1 1,-0.5 "/><path vector-effect="non-scaling-stroke" transform="translate(670.44,815.45) scale(13.112,12.500)" d="M0,0 V-1 H0.76 V0"/><path vector-effect="non-scaling-stroke" transform="translate(687.15,815.45) scale(13.112,12.500)" d="M1,-0.5 A0.5,0.5 0 1 1 0,-0.5 A0.5,0.5 0 1 1 1,-0.5 "/><path vector-effect="non-scaling-stroke" transform="translate(703.51,815.45) scale(13.112,12.500)" d="M0.95,0 V-1 H0.26 V-0.52 C0.26,-0.15 0.16,0 0,0"/><path vector-effect="non-scaling-stroke" transform="translate(723.72,815.45) scale(13.112,12.500)" d="M0,-1 V0 M0.76,-1 V0 M0,-0.5 H0.76"/><path vector-effect="non-scaling-stroke" transform="translate(741.18,815.45) scale(13.112,12.500)" d="M0,-1 V0 L0.8,-1 V0"/><path vector-effect="non-scaling-stroke" transform="translate(757.30,815.45) scale(13.112,12.500)" d="M0,-1 H0.8 M0.4,-1 V0"/><path vector-effect="non-scaling-stroke" transform="translate(772.66,815.45) scale(13.112,12.500)" d="M0.02,-0.5 H0.99 A0.5,0.5 0 1 0 0.86,-0.16"/><path vector-effect="non-scaling-stroke" transform="translate(788.53,815.45) scale(13.112,12.500)" d="M0.95,0 V-1 H0.26 V-0.52 C0.26,-0.15 0.16,0 0,0"/><path vector-effect="non-scaling-stroke" transform="translate(808.73,815.45) scale(13.112,12.500)" d="M0,-1 V0 H0.51 A0.29,0.29 0 0 0 0.51,-0.58 H0"/><path vector-effect="non-scaling-stroke" transform="translate(825.47,815.45) scale(13.112,12.500)" d="M0,-1 V0 M0.76,-1 V0 M0,-0.5 H0.76"/><path vector-effect="non-scaling-stroke" transform="translate(842.19,815.45) scale(13.112,12.500)" d="M1,-0.5 A0.5,0.5 0 1 1 0,-0.5 A0.5,0.5 0 1 1 1,-0.5 "/><path vector-effect="non-scaling-stroke" transform="translate(861.05,815.45) scale(13.112,12.500)" d="M0,-1.74 V-0.5"/><circle cx="861.05" cy="814.30" r="2.92" fill="#7d7d7e" stroke="none"/></g>
<line x1="358" y1="1469" x2="358" y2="1538" stroke="#363636" stroke-width="2"/>
<line x1="1665.8" y1="1469" x2="1665.8" y2="1538" stroke="#363636" stroke-width="2"/>
<line x1="385" y1="1517.4" x2="1640" y2="1517.4" stroke="#363636" stroke-width="2"/>
<polygon points="362.8,1517.4 389.3,1510.2 389.3,1524.6" fill="#363636"/>
<polygon points="1662.3,1517.4 1636.2,1510.2 1636.2,1524.6" fill="#363636"/>
<path d="M995.7,1463 L1003.2,1459.2 V1489.5" fill="none" stroke="#363636" stroke-width="3.4" stroke-linejoin="miter"/>
<ellipse cx="1026" cy="1473.6" rx="9.8" ry="14.8" fill="none" stroke="#363636" stroke-width="2.7"/>
<ellipse cx="1053.4" cy="1473.6" rx="9.8" ry="14.8" fill="none" stroke="#363636" stroke-width="2.7"/>
<ellipse cx="1080.9" cy="1473.6" rx="9.8" ry="14.8" fill="none" stroke="#363636" stroke-width="2.7"/>
<ellipse cx="1107" cy="1473.6" rx="9.8" ry="14.8" fill="none" stroke="#363636" stroke-width="2.7"/>
<path d="M272.5,697.5 H305 Q319,697.5 319,711.5 V811 Q319,825 305,825 H118 Q104,825 104,839 V1000.4 Q104,1014.4 118,1014.4 H163" fill="none" stroke="#7d7d7e" stroke-width="5" stroke-dasharray="28,10.5" stroke-dashoffset="14"/>
<polygon points="161.3,1007 185.7,1014.4 161.3,1021.8" fill="#7d7d7e"/>
<path d="M348.5,565.2 H111 Q95.8,565.2 95.8,580.4 V687.5 Q95.8,702.7 111,702.7 H152.8" fill="none" stroke="#363636" stroke-width="2"/>
<path d="M348.5,576.9 H116 Q108.1,576.9 108.1,584.8 V681.2 Q108.1,689.1 116,689.1 H152.8" fill="none" stroke="#363636" stroke-width="2"/>
<path d="M581.5,592.3 H968.6 M581.5,603.4 H968.6" fill="none" stroke="#363636" stroke-width="2"/>
<path d="M581.5,547.6 H906 Q911.3,547.6 911.3,542.3 V421 Q911.3,404 928.3,404 H1408.5 Q1425.5,404 1425.5,421 V562 M1425.5,587 V593.4 Q1425.5,613.4 1405.5,613.4 H1340.6" fill="none" stroke="#363636" stroke-width="2"/>
<path d="M581.5,561.8 H908 Q925,561.8 925,544.8 V425.5 Q925,417.5 933,417.5 H1404.4 Q1412.4,417.5 1412.4,425.5 V593.6 Q1412.4,599.6 1406.4,599.6 H1340.6" fill="none" stroke="#363636" stroke-width="2"/>
<path d="M1425.5,562 Q1425.5,566.5 1430,566.5 H1433 Q1437.5,566.5 1437.5,571 V581.5 Q1437.5,586 1433,586 H1430 Q1425.5,586 1425.5,590.5" fill="none" stroke="#363636" stroke-width="2"/>
<rect x="376.5" y="518" width="178.5" height="110" rx="12" fill="#fff" stroke="#363636" stroke-width="2"/>
<rect x="383.8" y="524.8" width="164.2" height="94.8" rx="10" fill="none" stroke="#363636" stroke-width="2"/>
<rect x="369.5" y="554" width="6.2" height="37.6" rx="0" fill="#fff" stroke="#363636" stroke-width="1.8"/>
<rect x="348.5" y="562.7" width="21.1" height="20.5" rx="1.2" fill="#fff" stroke="#363636" stroke-width="1.8"/>
<rect x="348.5" y="562.7" width="3.6" height="20.5" fill="#9a9a9a"/>
<line x1="349.1" y1="562.7" x2="349.1" y2="583.2" stroke="#363636" stroke-width="1.3"/>
<line x1="350.3" y1="562.7" x2="350.3" y2="583.2" stroke="#363636" stroke-width="1.3"/>
<line x1="351.5" y1="562.7" x2="351.5" y2="583.2" stroke="#363636" stroke-width="1.3"/>
<line x1="363.5" y1="562.7" x2="363.5" y2="583.2" stroke="#363636" stroke-width="1.6"/>
<rect x="355.7" y="561.2" width="2.4" height="9.3" fill="#fff"/>
<rect x="355.7" y="575.4" width="2.4" height="9.3" fill="#fff"/>
<path d="M354.8,562.7 V568.4 A2.1,2.1 0 0 0 359.1,568.4 V562.7" fill="none" stroke="#363636" stroke-width="1.6"/>
<path d="M354.8,583.2 V577.5 A2.1,2.1 0 0 1 359.1,577.5 V583.2" fill="none" stroke="#363636" stroke-width="1.6"/>
<rect x="555" y="535.7" width="5.5" height="37" rx="0" fill="#fff" stroke="#363636" stroke-width="1.8"/>
<rect x="560.8" y="544.2" width="21.1" height="20.3" rx="1.2" fill="#fff" stroke="#363636" stroke-width="1.8"/>
<rect x="577.3" y="544.2" width="4.6" height="20.3" fill="#9a9a9a"/>
<line x1="577.9" y1="544.2" x2="577.9" y2="564.5" stroke="#363636" stroke-width="1.3"/>
<line x1="579.6" y1="544.2" x2="579.6" y2="564.5" stroke="#363636" stroke-width="1.3"/>
<line x1="581.3" y1="544.2" x2="581.3" y2="564.5" stroke="#363636" stroke-width="1.3"/>
<line x1="566.3" y1="544.2" x2="566.3" y2="564.5" stroke="#363636" stroke-width="1.6"/>
<rect x="571.8" y="542.7" width="2.6" height="9.2" fill="#fff"/>
<rect x="571.8" y="556.8" width="2.6" height="9.2" fill="#fff"/>
<path d="M570.9,544.2 V549.7 A2.2,2.2 0 0 0 575.4,549.7 V544.2" fill="none" stroke="#363636" stroke-width="1.6"/>
<path d="M570.9,564.5 V559 A2.2,2.2 0 0 1 575.4,559 V564.5" fill="none" stroke="#363636" stroke-width="1.6"/>
<rect x="555" y="579.5" width="5.5" height="37" rx="0" fill="#fff" stroke="#363636" stroke-width="1.8"/>
<rect x="560.8" y="587.7" width="21.1" height="20.3" rx="1.2" fill="#fff" stroke="#363636" stroke-width="1.8"/>
<rect x="577.3" y="587.7" width="4.6" height="20.3" fill="#9a9a9a"/>
<line x1="577.9" y1="587.7" x2="577.9" y2="608" stroke="#363636" stroke-width="1.3"/>
<line x1="579.6" y1="587.7" x2="579.6" y2="608" stroke="#363636" stroke-width="1.3"/>
<line x1="581.3" y1="587.7" x2="581.3" y2="608" stroke="#363636" stroke-width="1.3"/>
<line x1="566.3" y1="587.7" x2="566.3" y2="608" stroke="#363636" stroke-width="1.6"/>
<rect x="571.8" y="586.2" width="2.6" height="9.2" fill="#fff"/>
<rect x="571.8" y="600.3" width="2.6" height="9.2" fill="#fff"/>
<path d="M570.9,587.7 V593.2 A2.2,2.2 0 0 0 575.4,593.2 V587.7" fill="none" stroke="#363636" stroke-width="1.6"/>
<path d="M570.9,608 V602.5 A2.2,2.2 0 0 1 575.4,602.5 V608" fill="none" stroke="#363636" stroke-width="1.6"/>
<rect x="1001.2" y="452.3" width="304.1" height="210.2" rx="7" fill="#fff" stroke="#363636" stroke-width="2.2"/>
<path d="M1032,513.7 V533.7 H1036 C1042.5,533.7 1045.7,529 1045.7,523.7 C1045.7,518.4 1042.5,513.7 1036,513.7 Z M1050.9,534.7 L1053.7,514.2 L1062,533.2 L1070.4,514.2 L1073.2,534.7 M1077.4,513 L1090.7,534.7 M1090.3,513 L1076.7,534.7 M1092,523.5 H1098.7 M1103.6,513 V534.7 M1116.5,513 L1104.2,523.6 L1116.9,534.7 M1139.3,523.7 A10.2,10.2 0 1 1 1118.9,523.7 A10.2,10.2 0 1 1 1139.3,523.7 M1144.8,513 V534.7 M1158.1,513 V534.7 M1144.8,523 H1158.1 M1162.3,513.5 H1175.3 M1168.6,513.5 V534.7 M1178.8,534.7 V513.5 H1182.5 C1186.5,513.5 1188.4,516 1188.4,519.2 C1188.4,522.4 1186.5,524.9 1182.5,524.9 H1178.8 M1213.4,523.7 A10.35,10.35 0 1 1 1192.7,523.7 A10.35,10.35 0 1 1 1213.4,523.7 M1215.1,533.8 C1218.5,533.6 1220.5,530 1220.8,524 L1221,513.5 H1231.5 V534.7 M1235.4,533.8 C1238.8,533.6 1240.6,530 1240.8,524 L1241,513.5 H1251.8 V534.7 M1268.9,513.5 H1259.1 V533.6 H1268.9 M1259.1,522.8 H1268.5 M1273.8,534.7 V513.5 H1277.7 C1281.7,513.5 1283.6,516 1283.6,519.2 C1283.6,522.4 1281.7,524.9 1277.7,524.9 H1273.8" fill="none" stroke="#363636" stroke-width="2.15" stroke-linejoin="miter" stroke-miterlimit="2.2"/>
<circle cx="1072" cy="591.4" r="15.3" fill="none" stroke="#363636" stroke-width="2"/>
<circle cx="1124" cy="591.4" r="15.3" fill="none" stroke="#363636" stroke-width="2"/>
<circle cx="1176" cy="591.4" r="15.3" fill="none" stroke="#363636" stroke-width="2"/>
<circle cx="1228.4" cy="591.4" r="15.3" fill="none" stroke="#363636" stroke-width="2"/>
<rect x="978.6" y="542.3" width="22.6" height="32.1" rx="0" fill="#fff" stroke="#777" stroke-width="1.2"/>
<circle cx="990" cy="549" r="6" fill="none" stroke="#888" stroke-width="1"/>
<circle cx="990" cy="568.5" r="6" fill="none" stroke="#888" stroke-width="1"/>
<rect x="973.6" y="491.2" width="27.6" height="51.1" rx="0" fill="#fff" stroke="#363636" stroke-width="2"/>
<line x1="998" y1="492.2" x2="998" y2="541.3" stroke="#888" stroke-width="1"/>
<circle cx="989" cy="500.3" r="6.3" fill="#fff" stroke="#363636" stroke-width="1.4"/>
<line x1="984.7" y1="496" x2="993.3" y2="504.6" stroke="#363636" stroke-width="1.4"/>
<rect x="977.4" y="497" width="2.6" height="6.6" fill="#363636"/>
<circle cx="989" cy="517.1" r="6.3" fill="#fff" stroke="#363636" stroke-width="1.4"/>
<line x1="984.7" y1="512.8" x2="993.3" y2="521.4" stroke="#363636" stroke-width="1.4"/>
<rect x="977.4" y="513.8" width="2.6" height="6.6" fill="#363636"/>
<circle cx="989" cy="533.7" r="6.3" fill="#fff" stroke="#363636" stroke-width="1.4"/>
<line x1="984.7" y1="529.4" x2="993.3" y2="538" stroke="#363636" stroke-width="1.4"/>
<rect x="977.4" y="530.4" width="2.6" height="6.6" fill="#363636"/>
<rect x="973.6" y="574.4" width="27.6" height="51.8" rx="0" fill="#fff" stroke="#363636" stroke-width="2"/>
<line x1="998" y1="575.4" x2="998" y2="625.2" stroke="#888" stroke-width="1"/>
<circle cx="989" cy="583.6" r="6.3" fill="#fff" stroke="#363636" stroke-width="1.4"/>
<line x1="984.7" y1="579.3" x2="993.3" y2="587.9" stroke="#363636" stroke-width="1.4"/>
<rect x="977.4" y="580.3" width="2.6" height="6.6" fill="#363636"/>
<circle cx="989" cy="600.5" r="6.3" fill="#fff" stroke="#363636" stroke-width="1.4"/>
<line x1="984.7" y1="596.2" x2="993.3" y2="604.8" stroke="#363636" stroke-width="1.4"/>
<rect x="977.4" y="597.2" width="2.6" height="6.6" fill="#363636"/>
<circle cx="989" cy="616.7" r="6.3" fill="#fff" stroke="#363636" stroke-width="1.4"/>
<line x1="984.7" y1="612.4" x2="993.3" y2="621" stroke="#363636" stroke-width="1.4"/>
<rect x="977.4" y="613.4" width="2.6" height="6.6" fill="#363636"/>
<rect x="977" y="551.3" width="24.2" height="15.7" fill="#363636"/>
<circle cx="977" cy="559.1" r="7" fill="#363636" stroke="#fff" stroke-width="1.5"/>
<rect x="968.6" y="585.6" width="4.8" height="23.6" rx="0" fill="#fff" stroke="#363636" stroke-width="1.8"/>
<rect x="1305.3" y="474.7" width="12.7" height="62.5" rx="0" fill="#fff" stroke="#363636" stroke-width="2"/>
<path d="M1318,485 H1326 Q1331,485 1331,490 V576" fill="none" stroke="#363636" stroke-width="2"/>
<rect x="1313.6" y="544" width="11.4" height="29" rx="5.7" fill="#fff" stroke="#363636" stroke-width="2"/>
<rect x="1305.3" y="576" width="29.9" height="55.6" rx="0" fill="#fff" stroke="#363636" stroke-width="2"/>
<line x1="1308.5" y1="577" x2="1308.5" y2="630.6" stroke="#888" stroke-width="1"/>
<circle cx="1318.5" cy="585.4" r="6.3" fill="#fff" stroke="#363636" stroke-width="1.4"/>
<line x1="1314.2" y1="581.1" x2="1322.8" y2="589.7" stroke="#363636" stroke-width="1.4"/>
<rect x="1328.3" y="582.1" width="2.6" height="6.6" fill="#363636"/>
<circle cx="1318.5" cy="604" r="6.3" fill="#fff" stroke="#363636" stroke-width="1.4"/>
<line x1="1314.2" y1="599.7" x2="1322.8" y2="608.3" stroke="#363636" stroke-width="1.4"/>
<rect x="1328.3" y="600.7" width="2.6" height="6.6" fill="#363636"/>
<circle cx="1318.5" cy="622.2" r="6.3" fill="#fff" stroke="#363636" stroke-width="1.4"/>
<line x1="1314.2" y1="617.9" x2="1322.8" y2="626.5" stroke="#363636" stroke-width="1.4"/>
<rect x="1328.3" y="618.9" width="2.6" height="6.6" fill="#363636"/>
<rect x="1335.2" y="592.7" width="5.4" height="26.6" rx="0" fill="#fff" stroke="#363636" stroke-width="1.8"/>
<path d="M1437.5,570.7 H1688 M1437.5,581.4 H1688" fill="none" stroke="#363636" stroke-width="2"/>
<rect x="1687.9" y="562.4" width="54" height="28" rx="1.5" fill="#fff" stroke="#363636" stroke-width="1.8"/>
<rect x="1692.3" y="562.4" width="5.4" height="28" fill="#9a9a9a"/>
<line x1="1692.9" y1="562.4" x2="1692.9" y2="590.4" stroke="#363636" stroke-width="1.3"/>
<line x1="1695" y1="562.4" x2="1695" y2="590.4" stroke="#363636" stroke-width="1.3"/>
<line x1="1697.1" y1="562.4" x2="1697.1" y2="590.4" stroke="#363636" stroke-width="1.3"/>
<line x1="1705.3" y1="562.4" x2="1705.3" y2="590.4" stroke="#363636" stroke-width="1.6"/>
<rect x="1699.1" y="560.5" width="3.6" height="12" fill="#fff"/>
<rect x="1699.1" y="580.3" width="3.6" height="12" fill="#fff"/>
<path d="M1698.2,562.4 V570.5 A2.7,2.7 0 0 0 1703.6,570.5 V562.4" fill="none" stroke="#363636" stroke-width="1.6"/>
<path d="M1698.2,590.4 V582.7 A2.7,2.7 0 0 1 1703.6,582.7 V590.4" fill="none" stroke="#363636" stroke-width="1.6"/>
<rect x="1718.8" y="562.4" width="5" height="28" fill="#9a9a9a"/>
<line x1="1719.4" y1="562.4" x2="1719.4" y2="590.4" stroke="#363636" stroke-width="1.3"/>
<line x1="1721.3" y1="562.4" x2="1721.3" y2="590.4" stroke="#363636" stroke-width="1.3"/>
<line x1="1723.2" y1="562.4" x2="1723.2" y2="590.4" stroke="#363636" stroke-width="1.3"/>
<line x1="1733.1" y1="562.4" x2="1733.1" y2="590.4" stroke="#363636" stroke-width="1.6"/>
<rect x="1725.1" y="560.5" width="3.7" height="12" fill="#fff"/>
<rect x="1725.1" y="580.3" width="3.7" height="12" fill="#fff"/>
<path d="M1724.2,562.4 V570.5 A2.8,2.8 0 0 0 1729.7,570.5 V562.4" fill="none" stroke="#363636" stroke-width="1.6"/>
<path d="M1724.2,590.4 V582.8 A2.8,2.8 0 0 1 1729.7,582.8 V590.4" fill="none" stroke="#363636" stroke-width="1.6"/>
<line x1="1714" y1="562.4" x2="1714" y2="590.4" stroke="#363636" stroke-width="1.6"/>
<path d="M1741.9,552.9 L1790.7,533.3 V617.6 L1741.9,599.3 Z" fill="#fff" stroke="#363636" stroke-width="2"/>
<path d="M1741.9,562.4 L1790.7,549.6 H1812.9 M1741.9,590.4 L1790.7,600.7 H1812.9" fill="none" stroke="#363636" stroke-width="1.9"/>
<line x1="1750.3" y1="566.3" x2="1750.3" y2="587" stroke="#363636" stroke-width="1.5"/>
<line x1="1754.3" y1="566.3" x2="1754.3" y2="587" stroke="#363636" stroke-width="1.5"/>
<line x1="1759.6" y1="562.9" x2="1759.6" y2="590.4" stroke="#363636" stroke-width="1.5"/>
<line x1="1763.6" y1="562.9" x2="1763.6" y2="590.4" stroke="#363636" stroke-width="1.5"/>
<line x1="1767.5" y1="562.9" x2="1767.5" y2="590.4" stroke="#363636" stroke-width="1.5"/>
<line x1="1773.4" y1="559.4" x2="1773.4" y2="593.3" stroke="#363636" stroke-width="1.5"/>
<line x1="1777.3" y1="559.4" x2="1777.3" y2="593.3" stroke="#363636" stroke-width="1.5"/>
<line x1="1782.3" y1="559.4" x2="1782.3" y2="593.3" stroke="#363636" stroke-width="1.5"/>
<rect x="1790.7" y="533.3" width="22.2" height="84.3" rx="0" fill="none" stroke="#363636" stroke-width="2"/>
<path d="M1812.9,549.6 H1854 A5.15,5.15 0 0 1 1854,559.9 H1812.9" fill="#fff" stroke="#363636" stroke-width="2"/>
<path d="M1812.9,590.4 H1854 A5.15,5.15 0 0 1 1854,600.7 H1812.9" fill="#fff" stroke="#363636" stroke-width="2"/>
<rect x="153.1" y="681.5" width="33.3" height="28.1" rx="1.2" fill="#fff" stroke="#363636" stroke-width="1.8"/>
<rect x="159.8" y="681.5" width="6.3" height="28.1" fill="#9a9a9a"/>
<line x1="160.4" y1="681.5" x2="160.4" y2="709.6" stroke="#363636" stroke-width="1.3"/>
<line x1="162.9" y1="681.5" x2="162.9" y2="709.6" stroke="#363636" stroke-width="1.3"/>
<line x1="165.5" y1="681.5" x2="165.5" y2="709.6" stroke="#363636" stroke-width="1.3"/>
<line x1="175.7" y1="681.5" x2="175.7" y2="709.6" stroke="#363636" stroke-width="1.6"/>
<rect x="167.7" y="680" width="2.5" height="12.2" fill="#fff"/>
<rect x="167.7" y="698.9" width="2.5" height="12.2" fill="#fff"/>
<path d="M166.8,681.5 V690 A2.2,2.2 0 0 0 171.1,690 V681.5" fill="none" stroke="#363636" stroke-width="1.6"/>
<path d="M166.8,709.6 V701.1 A2.2,2.2 0 0 1 171.1,701.1 V709.6" fill="none" stroke="#363636" stroke-width="1.6"/>
<path d="M185.8,714.3 V682 Q185.8,676.2 192,676.2 H229.8 V714.3 Z" fill="#fff" stroke="#363636" stroke-width="2"/>
<line x1="198.7" y1="676.2" x2="198.7" y2="714.3" stroke="#363636" stroke-width="1.8"/>
<path d="M198.7,686.5 H220.7 V692 Q223,694.5 220.7,697 V702.7 H198.7 M198.7,686.5 Q193,686.5 190,690 V699 Q193,702.7 198.7,702.7" fill="none" stroke="#363636" stroke-width="1.8"/>
<rect x="229" y="672.3" width="5.3" height="44.7" rx="2.5" fill="#fff" stroke="#363636" stroke-width="1.8"/>
<rect x="233.9" y="673.1" width="26.2" height="44.6" fill="#363636"/>
<path d="M235.9,672.9 l1.3,2.2 l1.3,-2.2 Z M235.9,717.9 l1.3,-2.2 l1.3,2.2 Z" fill="#fff"/>
<path d="M242.4,672.9 l1.3,2.2 l1.3,-2.2 Z M242.4,717.9 l1.3,-2.2 l1.3,2.2 Z" fill="#fff"/>
<path d="M249,672.9 l1.3,2.2 l1.3,-2.2 Z M249,717.9 l1.3,-2.2 l1.3,2.2 Z" fill="#fff"/>
<path d="M255.5,672.9 l1.3,2.2 l1.3,-2.2 Z M255.5,717.9 l1.3,-2.2 l1.3,2.2 Z" fill="#fff"/>
<rect x="193.1" y="1001.8" width="24.8" height="31.5" rx="0" fill="#fff" stroke="#363636" stroke-width="2"/>
<rect x="217.9" y="998.3" width="8.3" height="37.7" rx="0" fill="#fff" stroke="#363636" stroke-width="2"/>
<rect x="226.2" y="994.9" width="34.6" height="45.4" fill="#363636"/>
<rect x="229.7" y="998.5" width="27.3" height="2.3" fill="#fff"/>
<rect x="229.7" y="1007.6" width="27.3" height="2.3" fill="#fff"/>
<rect x="229.7" y="1015.6" width="27.3" height="2.3" fill="#fff"/>
<rect x="229.7" y="1025.1" width="27.3" height="2.3" fill="#fff"/>
<rect x="229.7" y="1033.5" width="27.3" height="2.3" fill="#fff"/>
<rect x="260.8" y="1005.5" width="32.5" height="23.5" rx="2" fill="#fff" stroke="#363636" stroke-width="1.8"/>
<rect x="267.3" y="1005.5" width="4.2" height="23.5" fill="#9a9a9a"/>
<line x1="267.9" y1="1005.5" x2="267.9" y2="1029" stroke="#363636" stroke-width="1.3"/>
<line x1="269.4" y1="1005.5" x2="269.4" y2="1029" stroke="#363636" stroke-width="1.3"/>
<line x1="270.9" y1="1005.5" x2="270.9" y2="1029" stroke="#363636" stroke-width="1.3"/>
<line x1="282.2" y1="1005.5" x2="282.2" y2="1029" stroke="#363636" stroke-width="1.6"/>
<rect x="274.4" y="1004" width="2.1" height="10.4" fill="#fff"/>
<rect x="274.4" y="1020.1" width="2.1" height="10.4" fill="#fff"/>
<path d="M273.5,1005.5 V1012.5 A1.9,1.9 0 0 0 277.4,1012.5 V1005.5" fill="none" stroke="#363636" stroke-width="1.6"/>
<path d="M273.5,1029 V1022 A1.9,1.9 0 0 1 277.4,1022 V1029" fill="none" stroke="#363636" stroke-width="1.6"/>
<ellipse cx="1784" cy="1014" rx="5.6" ry="25.2" fill="none" stroke="#363636" stroke-width="3"/>
<rect x="1760.7" y="1004.7" width="15" height="24.9" rx="1.5" fill="#fff" stroke="#363636" stroke-width="1.8"/>
<rect x="1767" y="1004.7" width="6.9" height="24.9" fill="#9a9a9a"/>
<line x1="1767.6" y1="1004.7" x2="1767.6" y2="1029.6" stroke="#363636" stroke-width="1.3"/>
<line x1="1770.5" y1="1004.7" x2="1770.5" y2="1029.6" stroke="#363636" stroke-width="1.3"/>
<line x1="1773.3" y1="1004.7" x2="1773.3" y2="1029.6" stroke="#363636" stroke-width="1.3"/>
<path d="M1775.7,1012.5 H1783 M1775.7,1022 H1783" fill="none" stroke="#363636" stroke-width="1.6"/>
<path d="M1776.5,1013.5 L1781.5,1017.5 L1776.5,1021.5 Z" fill="#363636"/>
<rect x="1790.5" y="1003.5" width="34.2" height="27.3" rx="0" fill="#fff" stroke="#363636" stroke-width="2"/>
<line x1="1799.3" y1="1003.5" x2="1799.3" y2="1030.8" stroke="#363636" stroke-width="1.6"/>
<path d="M1799.3,1012.2 H1812.4 Q1815.4,1012.2 1815.4,1015.2 V1021.6 Q1815.4,1024.6 1812.4,1024.6 H1799.3" fill="none" stroke="#363636" stroke-width="1.8"/>
<rect x="1783.1" y="1006.6" width="9.3" height="21.7" rx="0" fill="#fff" stroke="#363636" stroke-width="2"/>
<rect x="1824.7" y="994.8" width="26.1" height="44.7" fill="#363636"/>
<path d="M1826.7,994.6 l1.3,2.2 l1.3,-2.2 Z M1826.7,1039.7 l1.3,-2.2 l1.3,2.2 Z" fill="#fff"/>
<path d="M1833.2,994.6 l1.3,2.2 l1.3,-2.2 Z M1833.2,1039.7 l1.3,-2.2 l1.3,2.2 Z" fill="#fff"/>
<path d="M1839.7,994.6 l1.3,2.2 l1.3,-2.2 Z M1839.7,1039.7 l1.3,-2.2 l1.3,2.2 Z" fill="#fff"/>
<path d="M1846.2,994.6 l1.3,2.2 l1.3,-2.2 Z M1846.2,1039.7 l1.3,-2.2 l1.3,2.2 Z" fill="#fff"/>
<path d="M1786,1040 Q1800,1052 1835,1056.5 Q1880,1061 1897,1046 Q1906,1036 1903,1026 Q1901,1019 1897,1015" fill="none" stroke="#363636" stroke-width="3.4"/>
<circle cx="1896.5" cy="1014.8" r="4.2" fill="#363636"/>
<path d="M1860.1,994.8 H1889.3 Q1894.3,994.8 1894.3,999.8 V1033.3 Q1894.3,1038.3 1889.3,1038.3 H1860.1 Z" fill="#363636" stroke="#363636" stroke-width="0"/>
<rect x="1863.9" y="1001" width="26.5" height="2.4" fill="#fff"/>
<rect x="1863.9" y="1015.3" width="26.5" height="2.4" fill="#fff"/>
<rect x="1863.9" y="1030.8" width="26.5" height="2.4" fill="#fff"/>
<rect x="1890.6" y="1000" width="1.2" height="34" fill="#fff"/>
<path d="M292.9,1019.8 L294.3,1019.7 L295.8,1019.6 L297.3,1019.5 L298.8,1019.4 L300.3,1019.4 L301.8,1019.4 L303.3,1019.4 L304.8,1019.3 L306.3,1019.3 L307.8,1019.3 L309.3,1019.3 L310.8,1019.2 L312.3,1019.2 L313.9,1019.2 L315.4,1019.3 L316.9,1019.3 L318.5,1019.5 L320.0,1019.6 L321.5,1019.9 L322.9,1020.2 L324.4,1020.6 L325.9,1021.0 L327.3,1021.5 L328.7,1022.0 L330.1,1022.6 L331.5,1023.2 L332.9,1023.8 L334.2,1024.5 L335.6,1025.1 L336.9,1025.8 L338.3,1026.5 L339.6,1027.3 L340.9,1028.0 L342.2,1028.8 L343.5,1029.5 L344.8,1030.2 L346.1,1031.0 L347.4,1031.7 L348.7,1032.5 L350.0,1033.2 L351.3,1033.9 L352.6,1034.7 L353.9,1035.4 L355.2,1036.2 L356.5,1037.0 L357.8,1037.7 L359.0,1038.5 L360.3,1039.3 L361.6,1040.0 L362.9,1040.8 L364.2,1041.6 L365.4,1042.4 L366.7,1043.2 L368.0,1044.0 L369.2,1044.9 L370.5,1045.7 L371.7,1046.5 L373.0,1047.4 L374.2,1048.3 L375.4,1049.1 L376.7,1050.0 L377.9,1050.9 L379.1,1051.9 L380.2,1052.8 L381.4,1053.8 L382.5,1054.8 L383.7,1055.8 L384.8,1056.8 L385.9,1057.8 L387.0,1058.9 L388.0,1060.0 L389.1,1061.0 L390.1,1062.2 L391.1,1063.3 L392.1,1064.4 L393.1,1065.6 L394.0,1066.8 L394.9,1068.0 L395.7,1069.3 L396.5,1070.6 L397.4,1071.8 L398.2,1073.1 L399.0,1074.4 L399.8,1075.7 L400.6,1077.0 L401.4,1078.2 L402.3,1079.5 L403.1,1080.7 L404.0,1081.9 L404.9,1083.1 L405.8,1084.3 L406.8,1085.4 L407.8,1086.5 L408.8,1087.7 L409.8,1088.8 L410.8,1089.9 L411.9,1091.0 L413.0,1092.1 L414.0,1093.1 L415.1,1094.3 L416.1,1095.4 L417.1,1096.5 L418.1,1097.6 L419.1,1098.8 L420.0,1100.0 L420.9,1101.2 L421.7,1102.5 L422.5,1103.8 L423.3,1105.1 L424.0,1106.4 L424.7,1107.7 L425.4,1109.1 L426.0,1110.5 L426.5,1111.9 L427.1,1113.3 L427.7,1114.7 L428.3,1116.1 L428.8,1117.5 L429.4,1118.9 L430.0,1120.3 L430.6,1121.7 L431.2,1123.1 L431.8,1124.5 L432.4,1125.9 L433.0,1127.2 L433.7,1128.6 L434.4,1129.9 L435.1,1131.2 L435.8,1132.5 L436.6,1133.8 L437.4,1135.1 L438.2,1136.3 L439.0,1137.6 L439.9,1138.9 L440.7,1140.1 L441.6,1141.4 L442.5,1142.6 L443.4,1143.8 L444.2,1145.1 L445.1,1146.3 L445.9,1147.6 L446.8,1148.8 L447.6,1150.1 L448.4,1151.4 L449.2,1152.7 L449.9,1154.0 L450.6,1155.3 L451.3,1156.7 L451.9,1158.0 L452.6,1159.4 L453.2,1160.8 L453.7,1162.2 L454.2,1163.6 L454.7,1165.1 L455.2,1166.5 L455.6,1168.0 L456.1,1169.4 L456.5,1170.9 L456.9,1172.3 L457.3,1173.8 L457.8,1175.2 L458.2,1176.7 L458.7,1178.1 L459.2,1179.5 L459.7,1181.0 L460.2,1182.4 L460.8,1183.8 L461.4,1185.1 L462.0,1186.5 L462.6,1187.9 L463.3,1189.2 L464.0,1190.6 L464.7,1191.9 L465.4,1193.2 L466.2,1194.5 L466.9,1195.8 L467.7,1197.1 L468.4,1198.4 L469.2,1199.8 L469.9,1201.1 L470.7,1202.4 L471.4,1203.7 L472.1,1205.0 L472.9,1206.3 L473.5,1207.7 L474.2,1209.0 L474.9,1210.4 L475.5,1211.8 L476.1,1213.1 L476.7,1214.5 L477.3,1215.9 L477.8,1217.3 L478.4,1218.7 L478.9,1220.1 L479.4,1221.5 L479.9,1222.9 L480.4,1224.4 L480.9,1225.8 L481.4,1227.2 L481.9,1228.7 L482.3,1230.1 L482.8,1231.5 L483.3,1232.9 L483.9,1234.3 L484.4,1235.7 L484.9,1237.1 L485.5,1238.5 L486.1,1239.9 L486.7,1241.3 L487.3,1242.7 L488.0,1244.0 L488.7,1245.4 L489.4,1246.7 L490.1,1248.0 L490.8,1249.3 L491.5,1250.7 L492.3,1252.0 L493.0,1253.3 L493.8,1254.6 L494.5,1255.9 L495.3,1257.2 L496.0,1258.5 L496.7,1259.8 L497.5,1261.2 L498.2,1262.5 L498.9,1263.8 L499.5,1265.2 L500.2,1266.5 L500.8,1267.9 L501.4,1269.2 L502.1,1270.6 L502.6,1272.0 L503.2,1273.4 L503.8,1274.8 L504.3,1276.2 L504.9,1277.6 L505.4,1279.0 L506.0,1280.4 L506.5,1281.8 L507.1,1283.2 L507.7,1284.6 L508.2,1286.0 L508.8,1287.4 L509.5,1288.7 L510.1,1290.1 L510.8,1291.5 L511.4,1292.8 L512.2,1294.1 L512.9,1295.4 L513.6,1296.7 L514.4,1298.0 L515.2,1299.3 L516.0,1300.6 L516.9,1301.9 L517.7,1303.1 L518.5,1304.4 L519.4,1305.6 L520.2,1306.8 L521.1,1308.1 L521.9,1309.3 L522.8,1310.6 L523.6,1311.9 L524.4,1313.1 L525.2,1314.4 L526.0,1315.7 L526.7,1317.0 L527.5,1318.3 L528.2,1319.6 L528.9,1320.9 L529.6,1322.2 L530.3,1323.6 L531.0,1324.9 L531.6,1326.3 L532.3,1327.6 L533.0,1329.0 L533.6,1330.3 L534.3,1331.7 L535.0,1333.1 L535.6,1334.4 L536.3,1335.8 L537.1,1337.1 L537.8,1338.4 L538.6,1339.7 L539.3,1341.0 L540.2,1342.3 L541.0,1343.5 L541.9,1344.7 L542.8,1345.9 L543.7,1347.1 L544.7,1348.3 L545.7,1349.4 L546.7,1350.5 L547.7,1351.7 L548.8,1352.7 L549.8,1353.8 L550.9,1354.9 L552.0,1356.0 L553.1,1357.0 L554.1,1358.1 L555.2,1359.2 L556.2,1360.3 L557.3,1361.4 L558.3,1362.5 L559.3,1363.6 L560.2,1364.7 L561.2,1365.9 L562.1,1367.1 L563.0,1368.3 L563.9,1369.5 L564.8,1370.7 L565.6,1371.9 L566.5,1373.2 L567.4,1374.4 L568.3,1375.6 L569.2,1376.8 L570.1,1378.0 L571.0,1379.2 L572.0,1380.4 L573.0,1381.5 L574.0,1382.6 L575.1,1383.7 L576.2,1384.8 L577.3,1385.8 L578.4,1386.8 L579.6,1387.8 L580.8,1388.7 L582.0,1389.6 L583.2,1390.5 L584.5,1391.3 L585.8,1392.1 L587.0,1392.9 L588.3,1393.7 L589.6,1394.5 L590.9,1395.3 L592.2,1396.1 L593.5,1396.8 L594.8,1397.6 L596.1,1398.3 L597.4,1399.1 L598.7,1399.9 L599.9,1400.6 L601.2,1401.4 L602.5,1402.2 L603.8,1402.9 L605.1,1403.6 L606.4,1404.4 L607.7,1405.1 L609.0,1405.8 L610.3,1406.6 L611.7,1407.3 L613.0,1408.0 L614.3,1408.6 L615.7,1409.3 L617.1,1409.9 L618.4,1410.6 L619.8,1411.2 L621.2,1411.7 L622.6,1412.3 L624.0,1412.8 L625.5,1413.3 L626.9,1413.8 L628.3,1414.2 L629.8,1414.6 L631.3,1415.0 L632.7,1415.3 L634.2,1415.6 L635.7,1415.9 L637.2,1416.1 L638.7,1416.4 L640.2,1416.6 L641.7,1416.7 L643.2,1416.9 L644.7,1417.0 L646.2,1417.1 L647.7,1417.2 L649.2,1417.2 L650.7,1417.3 L652.2,1417.3 L653.7,1417.4 L655.2,1417.4 L656.7,1417.4 L658.2,1417.4 L659.7,1417.4 L661.2,1417.3 L662.7,1417.3 L664.1,1417.3 L665.6,1417.2 L667.1,1417.2 L668.6,1417.1 L670.1,1417.1 L671.6,1417.0 L673.1,1417.0 L674.6,1416.9 L676.2,1416.8 L677.7,1416.7 L679.2,1416.5 L680.7,1416.4 L682.2,1416.2 L683.7,1416.0 L685.2,1415.7 L686.6,1415.4 L688.1,1415.1 L689.6,1414.7 L691.0,1414.2 L692.5,1413.8 L693.9,1413.2 L695.3,1412.7 L696.7,1412.1 L698.0,1411.4 L699.4,1410.7 L700.7,1410.0 L702.1,1409.3 L703.4,1408.5 L704.7,1407.8 L706.0,1407.0 L707.3,1406.3 L708.5,1405.5 L709.8,1404.7 L711.1,1404.0 L712.4,1403.3 L713.7,1402.6 L715.0,1401.8 L716.4,1401.1 L717.7,1400.4 L719.0,1399.7 L720.3,1399.0 L721.6,1398.3 L722.9,1397.6 L724.3,1396.9 L725.6,1396.1 L726.9,1395.4 L728.2,1394.7 L729.5,1393.9 L730.8,1393.1 L732.1,1392.3 L733.4,1391.5 L734.6,1390.7 L735.9,1389.8 L737.1,1389.0 L738.4,1388.1 L739.6,1387.2 L740.8,1386.2 L741.9,1385.3 L743.1,1384.3 L744.2,1383.3 L745.3,1382.3 L746.4,1381.2 L747.5,1380.2 L748.5,1379.1 L749.5,1378.0 L750.6,1376.8 L751.6,1375.7 L752.5,1374.5 L753.5,1373.4 L754.4,1372.2 L755.4,1371.0 L756.3,1369.8 L757.2,1368.6 L758.1,1367.4 L758.9,1366.1 L759.8,1364.9 L760.7,1363.7 L761.6,1362.5 L762.5,1361.3 L763.4,1360.1 L764.4,1359.0 L765.4,1357.8 L766.4,1356.7 L767.4,1355.7 L768.5,1354.6 L769.6,1353.5 L770.7,1352.5 L771.8,1351.5 L772.9,1350.4 L774.0,1349.4 L775.1,1348.3 L776.1,1347.2 L777.2,1346.1 L778.1,1344.9 L779.1,1343.7 L780.0,1342.5 L780.8,1341.3 L781.7,1340.0 L782.4,1338.7 L783.1,1337.4 L783.8,1336.0 L784.5,1334.7 L785.1,1333.3 L785.7,1331.9 L786.3,1330.5 L786.9,1329.1 L787.6,1327.7 L788.2,1326.3 L788.8,1325.0 L789.5,1323.6 L790.3,1322.3 L791.0,1321.0 L791.8,1319.8 L792.6,1318.5 L793.4,1317.2 L794.2,1315.9 L795.0,1314.7 L795.8,1313.4 L796.6,1312.1 L797.4,1310.9 L798.2,1309.6 L799.0,1308.4 L799.9,1307.1 L800.7,1305.8 L801.5,1304.6 L802.3,1303.3 L803.1,1302.0 L803.9,1300.8 L804.7,1299.5 L805.5,1298.2 L806.3,1296.9 L807.1,1295.6 L807.9,1294.3 L808.6,1293.0 L809.4,1291.7 L810.1,1290.4 L810.8,1289.1 L811.5,1287.8 L812.2,1286.4 L812.9,1285.1 L813.6,1283.7 L814.2,1282.4 L814.9,1281.0 L815.5,1279.6 L816.1,1278.3 L816.7,1276.9 L817.3,1275.5 L817.9,1274.1 L818.4,1272.7 L818.9,1271.3 L819.4,1269.8 L819.8,1268.4 L820.2,1266.9 L820.7,1265.5 L821.1,1264.0 L821.5,1262.5 L821.9,1261.1 L822.3,1259.6 L822.8,1258.2 L823.3,1256.8 L823.8,1255.4 L824.4,1254.0 L825.0,1252.6 L825.7,1251.3 L826.4,1249.9 L827.1,1248.6 L827.8,1247.3 L828.6,1246.0 L829.4,1244.7 L830.2,1243.4 L831.0,1242.1 L831.8,1240.8 L832.5,1239.5 L833.3,1238.2 L834.0,1236.8 L834.6,1235.5 L835.3,1234.1 L835.8,1232.7 L836.4,1231.3 L836.8,1229.9 L837.3,1228.4 L837.7,1227.0 L838.0,1225.5 L838.4,1224.0 L838.7,1222.5 L839.0,1221.0 L839.3,1219.5 L839.7,1218.1 L840.1,1216.6 L840.5,1215.2 L841.0,1213.7 L841.4,1212.3 L841.9,1210.8 L842.4,1209.4 L842.9,1208.0 L843.4,1206.6 L844.0,1205.2 L844.6,1203.9 L845.3,1202.5 L845.9,1201.1 L846.6,1199.8 L847.3,1198.4 L848.0,1197.1 L848.7,1195.8 L849.5,1194.5 L850.2,1193.1 L851.0,1191.8 L851.7,1190.5 L852.5,1189.2 L853.2,1187.9 L854.0,1186.6 L854.7,1185.3 L855.4,1183.9 L856.1,1182.6 L856.8,1181.2 L857.5,1179.9 L858.1,1178.5 L858.7,1177.2 L859.3,1175.8 L859.8,1174.4 L860.4,1173.0 L860.9,1171.6 L861.4,1170.1 L861.8,1168.7 L862.3,1167.3 L862.7,1165.8 L863.1,1164.3 L863.5,1162.9 L863.9,1161.4 L864.3,1159.9 L864.7,1158.5 L865.2,1157.0 L865.7,1155.6 L866.2,1154.2 L866.7,1152.8 L867.3,1151.4 L867.9,1150.0 L868.5,1148.6 L869.2,1147.3 L869.9,1146.0 L870.7,1144.6 L871.4,1143.3 L872.2,1142.1 L873.0,1140.8 L873.8,1139.5 L874.7,1138.2 L875.5,1137.0 L876.4,1135.7 L877.2,1134.5 L878.0,1133.2 L878.8,1131.9 L879.6,1130.7 L880.4,1129.4 L881.2,1128.1 L881.9,1126.8 L882.7,1125.5 L883.4,1124.2 L884.1,1122.8 L884.8,1121.5 L885.4,1120.2 L886.1,1118.8 L886.8,1117.5 L887.4,1116.1 L888.1,1114.8 L888.8,1113.4 L889.5,1112.1 L890.1,1110.7 L890.8,1109.4 L891.5,1108.1 L892.2,1106.7 L892.9,1105.4 L893.6,1104.1 L894.4,1102.7 L895.1,1101.4 L895.9,1100.1 L896.6,1098.8 L897.4,1097.5 L898.2,1096.3 L899.1,1095.0 L899.9,1093.8 L900.8,1092.5 L901.7,1091.3 L902.6,1090.1 L903.5,1088.9 L904.5,1087.8 L905.5,1086.6 L906.5,1085.5 L907.5,1084.3 L908.5,1083.2 L909.5,1082.1 L910.6,1081.0 L911.6,1080.0 L912.7,1078.9 L913.8,1077.8 L914.8,1076.8 L915.9,1075.7 L917.0,1074.7 L918.1,1073.6 L919.1,1072.6 L920.2,1071.5 L921.2,1070.5 L922.3,1069.4 L923.3,1068.3 L924.3,1067.2 L925.3,1066.1 L926.3,1065.0 L927.3,1063.8 L928.3,1062.7 L929.2,1061.5 L930.2,1060.4 L931.1,1059.2 L932.1,1058.0 L933.1,1056.9 L934.1,1055.7 L935.1,1054.6 L936.1,1053.5 L937.1,1052.4 L938.2,1051.3 L939.3,1050.2 L940.4,1049.2 L941.6,1048.2 L942.7,1047.3 L943.9,1046.3 L945.2,1045.5 L946.4,1044.6 L947.7,1043.8 L949.0,1043.0 L950.3,1042.3 L951.7,1041.6 L953.0,1040.9 L954.4,1040.2 L955.7,1039.5 L957.1,1038.9 L958.5,1038.3 L959.9,1037.7 L961.2,1037.0 L962.6,1036.4 L964.0,1035.8 L965.3,1035.1 L966.6,1034.5 L968.0,1033.8 L969.3,1033.1 L970.6,1032.4 L971.9,1031.6 L973.2,1030.9 L974.5,1030.1 L975.8,1029.3 L977.0,1028.5 L978.3,1027.7 L979.6,1026.9 L980.9,1026.2 L982.3,1025.4 L983.6,1024.7 L985.0,1024.1 L986.4,1023.4 L987.7,1022.8 L989.2,1022.3 L990.6,1021.8 L992.0,1021.4 L993.5,1021.0 L995.0,1020.6 L996.5,1020.3 L997.9,1020.0 L999.4,1019.8 L1000.9,1019.6 L1002.4,1019.3 L1003.9,1019.1 L1005.4,1018.9 L1006.9,1018.6 L1008.3,1018.3 L1009.8,1018.0 L1011.3,1017.6 L1012.7,1017.3 L1014.2,1016.9 L1015.7,1016.6 L1017.1,1016.2 L1018.6,1015.9 L1020.1,1015.6" fill="none" stroke="#363636" stroke-width="1.6" stroke-linejoin="round"/>
<path d="M293.6,1010.9 L295.2,1011.1 L296.7,1011.3 L298.2,1011.4 L299.8,1011.6 L301.3,1011.8 L302.8,1012.1 L304.4,1012.4 L305.8,1012.9 L307.3,1013.5 L308.7,1014.2 L310.1,1015.1 L311.5,1016.1 L312.8,1017.2 L314.1,1018.4 L315.4,1019.5 L316.6,1020.6 L317.9,1021.6 L319.2,1022.6 L320.5,1023.4 L321.8,1024.2 L323.1,1024.8 L324.5,1025.3 L325.9,1025.7 L327.3,1026.0 L328.8,1026.2 L330.3,1026.4 L331.8,1026.5 L333.4,1026.6 L335.0,1026.6 L336.6,1026.6 L338.2,1026.6 L339.9,1026.6 L341.5,1026.7 L343.1,1026.8 L344.7,1027.1 L346.3,1027.3 L347.8,1027.7 L349.2,1028.2 L350.7,1028.8 L352.1,1029.4 L353.5,1030.1 L354.8,1030.9 L356.1,1031.6 L357.4,1032.5 L358.7,1033.4 L359.9,1034.3 L361.1,1035.3 L362.2,1036.4 L363.3,1037.5 L364.4,1038.6 L365.4,1039.8 L366.4,1041.0 L367.4,1042.3 L368.3,1043.5 L369.2,1044.8 L370.1,1046.1 L371.0,1047.5 L371.8,1048.8 L372.7,1050.1 L373.5,1051.4 L374.4,1052.7 L375.2,1054.0 L376.0,1055.3 L376.9,1056.5 L377.8,1057.8 L378.7,1058.9 L379.6,1060.1 L380.5,1061.2 L381.5,1062.3 L382.6,1063.3 L383.6,1064.3 L384.7,1065.3 L385.9,1066.2 L387.1,1067.1 L388.3,1068.0 L389.5,1068.8 L391.0,1069.5 L392.6,1070.1 L394.3,1070.6 L396.0,1071.1 L397.7,1071.5 L399.5,1072.0 L401.2,1072.6 L402.8,1073.2 L404.4,1073.8 L405.9,1074.6 L407.3,1075.4 L408.6,1076.4 L409.7,1077.5 L410.7,1078.7 L411.5,1080.0 L412.1,1081.4 L412.6,1083.0 L413.0,1084.6 L413.2,1086.3 L413.4,1088.1 L413.4,1089.9 L413.4,1091.7 L413.4,1093.6 L413.3,1095.4 L413.3,1097.3 L413.3,1099.0 L413.4,1100.7 L413.7,1102.4 L414.0,1103.9 L414.5,1105.4 L415.1,1106.7 L415.9,1108.0 L416.9,1109.1 L418.0,1110.1 L419.3,1111.1 L420.7,1112.0 L422.2,1112.8 L423.9,1113.5 L425.5,1114.3 L427.1,1115.1 L428.7,1115.9 L430.3,1116.7 L431.9,1117.5 L433.4,1118.4 L434.9,1119.3 L436.3,1120.2 L437.6,1121.3 L438.8,1122.3 L439.9,1123.5 L440.8,1124.7 L441.7,1126.0 L442.3,1127.3 L442.9,1128.8 L443.3,1130.2 L443.6,1131.8 L443.8,1133.4 L443.9,1135.1 L443.9,1136.8 L443.8,1138.5 L443.6,1140.3 L443.4,1142.1 L443.2,1143.9 L443.0,1145.7 L442.8,1147.5 L442.6,1149.2 L442.5,1151.0 L442.4,1152.6 L442.5,1154.3 L442.6,1155.9 L442.9,1157.4 L443.2,1158.9 L443.7,1160.3 L444.4,1161.7 L445.1,1162.9 L446.0,1164.2 L447.0,1165.3 L448.2,1166.4 L449.6,1167.5 L451.0,1168.5 L452.4,1169.4 L454.0,1170.4 L455.5,1171.3 L457.0,1172.3 L458.5,1173.2 L460.0,1174.2 L461.4,1175.2 L462.7,1176.3 L463.9,1177.4 L465.0,1178.5 L466.0,1179.7 L466.9,1181.0 L467.6,1182.3 L468.3,1183.7 L468.8,1185.1 L469.1,1186.6 L469.4,1188.1 L469.6,1189.7 L469.7,1191.3 L469.7,1193.0 L469.7,1194.6 L469.6,1196.3 L469.5,1198.0 L469.4,1199.6 L469.4,1201.3 L469.3,1203.0 L469.4,1204.6 L469.4,1206.2 L469.6,1207.8 L469.8,1209.3 L470.1,1210.8 L470.5,1212.3 L471.0,1213.7 L471.6,1215.1 L472.3,1216.4 L473.1,1217.7 L473.8,1219.0 L474.7,1220.3 L475.7,1221.5 L476.7,1222.7 L477.8,1223.9 L478.9,1225.0 L480.1,1226.2 L481.2,1227.3 L482.4,1228.4 L483.6,1229.5 L484.7,1230.7 L485.8,1231.8 L486.8,1233.0 L487.8,1234.2 L488.7,1235.5 L489.5,1236.7 L490.3,1238.1 L490.9,1239.4 L491.5,1240.8 L491.9,1242.2 L492.3,1243.7 L492.6,1245.2 L492.8,1246.8 L493.0,1248.3 L493.1,1249.9 L493.2,1251.5 L493.3,1253.1 L493.4,1254.8 L493.5,1256.4 L493.6,1258.0 L493.8,1259.6 L494.0,1261.1 L494.3,1262.7 L494.6,1264.2 L495.0,1265.6 L495.6,1267.1 L496.2,1268.4 L496.8,1269.8 L497.6,1271.1 L498.5,1272.3 L499.4,1273.6 L500.5,1274.7 L501.6,1275.9 L502.7,1277.0 L503.9,1278.1 L505.1,1279.2 L506.3,1280.2 L507.6,1281.3 L508.8,1282.4 L510.0,1283.4 L511.1,1284.5 L512.1,1285.7 L513.1,1286.9 L514.1,1288.1 L514.9,1289.3 L515.6,1290.6 L516.3,1292.0 L516.8,1293.4 L517.3,1294.8 L517.6,1296.3 L518.0,1297.9 L518.2,1299.4 L518.4,1301.0 L518.6,1302.6 L518.7,1304.3 L518.9,1305.9 L519.0,1307.5 L519.2,1309.1 L519.4,1310.7 L519.7,1312.3 L520.1,1313.8 L520.5,1315.3 L521.1,1316.8 L521.7,1318.1 L522.5,1319.5 L523.3,1320.7 L524.2,1322.0 L525.2,1323.1 L526.3,1324.3 L527.4,1325.3 L528.6,1326.3 L529.9,1327.3 L531.3,1328.2 L532.7,1329.1 L534.1,1330.0 L535.6,1330.9 L537.0,1331.8 L538.4,1332.7 L539.7,1333.6 L541.0,1334.5 L542.2,1335.5 L543.4,1336.5 L544.4,1337.6 L545.4,1338.7 L546.2,1339.9 L547.0,1341.2 L547.6,1342.6 L548.1,1344.0 L548.6,1345.5 L548.9,1347.1 L549.2,1348.7 L549.4,1350.4 L549.6,1352.1 L549.8,1353.9 L549.9,1355.6 L550.1,1357.4 L550.4,1359.1 L550.6,1360.9 L551.0,1362.5 L551.5,1364.1 L552.0,1365.6 L552.7,1367.1 L553.5,1368.4 L554.4,1369.6 L555.6,1370.7 L556.9,1371.6 L558.3,1372.4 L559.8,1373.1 L561.4,1373.7 L563.0,1374.3 L564.7,1374.8 L566.4,1375.3 L568.1,1375.7 L569.8,1376.2 L571.5,1376.7 L573.1,1377.2 L574.6,1377.7 L576.1,1378.3 L577.4,1379.0 L578.7,1379.8 L579.9,1380.6 L581.1,1381.6 L582.1,1382.6 L583.1,1383.7 L584.0,1384.9 L584.8,1386.2 L585.7,1387.5 L586.5,1388.8 L587.2,1390.2 L588.0,1391.7 L588.8,1393.1 L589.6,1394.5 L590.5,1395.9 L591.4,1397.2 L592.4,1398.5 L593.4,1399.7 L594.4,1400.9 L595.6,1401.9 L596.8,1402.9 L598.1,1403.8 L599.4,1404.5 L600.8,1405.2 L602.1,1405.9 L603.6,1406.5 L605.0,1407.1 L606.5,1407.5 L608.0,1408.0 L609.5,1408.3 L611.1,1408.6 L612.6,1408.8 L614.2,1409.1 L615.7,1409.2 L617.3,1409.4 L618.8,1409.6 L620.3,1409.7 L621.9,1409.9 L623.4,1410.1 L624.8,1410.3 L626.3,1410.5 L627.8,1410.8 L629.2,1411.1 L630.6,1411.4 L632.0,1411.8 L633.5,1412.2 L634.9,1412.7 L636.3,1413.2 L637.7,1413.7 L639.1,1414.3 L640.5,1414.9 L641.9,1415.4 L643.3,1416.0 L644.7,1416.6 L646.2,1417.1 L647.6,1417.7 L649.1,1418.2 L650.6,1418.6 L652.1,1419.0 L653.6,1419.4 L655.1,1419.7 L656.6,1419.9 L658.1,1420.1 L659.7,1420.2 L661.2,1420.2 L662.7,1420.2 L664.3,1420.1 L665.8,1419.9 L667.3,1419.6 L668.8,1419.2 L670.3,1418.8 L671.8,1418.2 L673.2,1417.6 L674.6,1416.9 L676.1,1416.1 L677.4,1415.4 L678.8,1414.6 L680.2,1413.8 L681.5,1413.1 L682.9,1412.4 L684.2,1411.7 L685.6,1411.1 L687.0,1410.7 L688.4,1410.3 L689.8,1409.9 L691.2,1409.7 L692.7,1409.6 L694.2,1409.6 L695.8,1409.6 L697.4,1409.7 L699.1,1409.8 L700.7,1410.0 L702.4,1410.2 L704.1,1410.3 L705.9,1410.4 L707.6,1410.5 L709.2,1410.4 L710.9,1410.2 L712.5,1409.9 L714.0,1409.5 L715.5,1408.9 L716.8,1408.1 L718.1,1407.3 L719.4,1406.4 L720.6,1405.3 L721.8,1404.2 L722.8,1403.1 L723.9,1401.8 L724.9,1400.5 L725.8,1399.2 L726.7,1397.8 L727.6,1396.4 L728.5,1395.0 L729.3,1393.6 L730.1,1392.2 L730.9,1390.7 L731.7,1389.3 L732.5,1388.0 L733.3,1386.6 L734.2,1385.3 L735.0,1384.1 L735.9,1382.9 L736.9,1381.7 L737.8,1380.6 L738.9,1379.6 L740.0,1378.6 L741.1,1377.7 L742.3,1376.8 L743.5,1375.9 L744.8,1375.1 L746.1,1374.4 L747.4,1373.7 L748.8,1373.0 L750.3,1372.3 L751.7,1371.7 L753.2,1371.0 L754.7,1370.4 L756.2,1369.7 L757.7,1369.1 L759.4,1368.6 L761.1,1368.1 L762.8,1367.6 L764.3,1366.9 L765.8,1366.1 L767.1,1365.2 L768.2,1364.2 L769.2,1363.0 L770.0,1361.7 L770.7,1360.2 L771.1,1358.7 L771.5,1357.0 L771.7,1355.3 L771.9,1353.4 L772.0,1351.6 L772.1,1349.8 L772.1,1347.9 L772.2,1346.2 L772.4,1344.4 L772.7,1342.8 L773.1,1341.3 L773.7,1339.9 L774.4,1338.6 L775.3,1337.4 L776.4,1336.4 L777.7,1335.5 L779.1,1334.6 L780.6,1333.9 L782.3,1333.2 L784.0,1332.6 L785.8,1331.9 L787.6,1331.3 L789.4,1330.6 L791.0,1329.9 L792.6,1329.1 L794.0,1328.2 L795.3,1327.2 L796.4,1326.1 L797.2,1324.8 L798.0,1323.4 L798.7,1322.1 L799.3,1320.7 L799.9,1319.3 L800.4,1317.8 L800.9,1316.3 L801.3,1314.8 L801.7,1313.3 L802.1,1311.8 L802.4,1310.2 L802.7,1308.6 L802.9,1307.0 L803.1,1305.4 L803.3,1303.9 L803.5,1302.3 L803.7,1300.7 L803.9,1299.1 L804.1,1297.5 L804.4,1295.9 L804.6,1294.4 L804.9,1292.8 L805.1,1291.3 L805.4,1289.8 L805.8,1288.3 L806.2,1286.8 L806.6,1285.4 L807.1,1283.9 L807.6,1282.5 L808.2,1281.1 L808.8,1279.8 L809.4,1278.4 L810.1,1277.1 L810.8,1275.8 L811.6,1274.5 L812.4,1273.3 L813.3,1272.0 L814.2,1270.8 L815.3,1269.7 L816.6,1268.6 L818.0,1267.6 L819.5,1266.6 L820.9,1265.6 L822.4,1264.6 L823.9,1263.6 L825.3,1262.6 L826.6,1261.5 L827.8,1260.3 L828.8,1259.1 L829.6,1257.9 L830.3,1256.5 L830.8,1255.1 L831.0,1253.5 L831.1,1251.9 L831.1,1250.3 L830.9,1248.6 L830.5,1246.8 L830.1,1245.0 L829.7,1243.2 L829.3,1241.4 L828.9,1239.6 L828.6,1237.9 L828.4,1236.2 L828.3,1234.5 L828.4,1232.9 L828.7,1231.4 L829.2,1230.0 L830.0,1228.7 L830.9,1227.5 L832.0,1226.3 L833.3,1225.2 L834.8,1224.2 L836.4,1223.2 L838.0,1222.2 L839.7,1221.3 L841.4,1220.4 L842.8,1219.3 L844.1,1218.2 L845.3,1217.1 L846.4,1215.9 L847.5,1214.7 L848.4,1213.5 L849.3,1212.2 L850.0,1210.9 L850.6,1209.5 L851.1,1208.1 L851.5,1206.6 L851.8,1205.1 L852.0,1203.6 L852.0,1202.0 L852.0,1200.4 L851.9,1198.7 L851.7,1197.0 L851.5,1195.3 L851.3,1193.6 L851.0,1191.8 L850.7,1190.1 L850.5,1188.4 L850.2,1186.6 L850.0,1184.9 L849.9,1183.3 L849.9,1181.6 L849.9,1180.0 L850.1,1178.4 L850.4,1176.9 L850.7,1175.4 L851.2,1174.0 L851.9,1172.6 L852.6,1171.3 L853.5,1170.0 L854.5,1168.8 L855.6,1167.6 L856.8,1166.5 L858.1,1165.4 L859.5,1164.4 L861.1,1163.5 L862.7,1162.5 L864.3,1161.6 L865.9,1160.7 L867.4,1159.7 L868.8,1158.7 L870.1,1157.7 L871.3,1156.6 L872.4,1155.4 L873.3,1154.2 L874.1,1152.9 L874.8,1151.6 L875.3,1150.2 L875.7,1148.7 L875.9,1147.2 L876.1,1145.6 L876.2,1144.0 L876.2,1142.3 L876.1,1140.6 L876.1,1138.9 L876.0,1137.2 L876.0,1135.5 L876.0,1133.8 L876.0,1132.2 L876.2,1130.5 L876.4,1128.9 L876.7,1127.4 L877.1,1125.9 L877.7,1124.5 L878.3,1123.1 L879.1,1121.8 L879.9,1120.5 L880.9,1119.3 L881.9,1118.2 L883.0,1117.0 L884.2,1116.0 L885.4,1114.9 L886.6,1113.9 L887.7,1112.8 L888.8,1111.7 L890.0,1110.7 L891.2,1109.6 L892.4,1108.6 L893.7,1107.6 L894.9,1106.6 L896.1,1105.6 L897.3,1104.6 L898.4,1103.6 L899.5,1102.5 L900.6,1101.5 L901.7,1100.4 L902.6,1099.3 L903.6,1098.1 L904.4,1096.9 L905.3,1095.7 L906.0,1094.4 L906.7,1093.1 L907.3,1091.7 L907.9,1090.3 L908.5,1088.9 L909.0,1087.4 L909.4,1085.9 L909.9,1084.3 L910.3,1082.7 L910.7,1081.2 L911.1,1079.6 L911.5,1078.0 L912.0,1076.4 L912.5,1074.8 L913.0,1073.2 L913.5,1071.7 L914.1,1070.2 L914.8,1068.7 L915.5,1067.3 L916.4,1066.0 L917.2,1064.7 L918.3,1063.5 L919.4,1062.5 L920.6,1061.5 L922.0,1060.7 L923.4,1059.9 L924.9,1059.3 L926.5,1058.7 L928.2,1058.3 L929.9,1057.8 L931.6,1057.5 L933.3,1057.1 L935.0,1056.8 L936.7,1056.5 L938.4,1056.1 L940.0,1055.7 L941.5,1055.3 L943.0,1054.8 L944.4,1054.2 L945.7,1053.5 L946.9,1052.7 L948.1,1051.8 L949.1,1050.8 L950.1,1049.7 L951.0,1048.4 L951.9,1047.1 L952.7,1045.8 L953.5,1044.3 L954.3,1042.8 L955.1,1041.3 L955.9,1039.7 L956.7,1038.2 L957.5,1036.6 L958.4,1035.2 L959.3,1033.7 L960.3,1032.4 L961.4,1031.2 L962.5,1030.0 L963.7,1029.0 L965.0,1028.1 L966.4,1027.4 L967.9,1027.0 L969.5,1026.6 L971.1,1026.5 L972.8,1026.5 L974.5,1026.6 L976.3,1026.8 L978.0,1027.0 L979.8,1027.3 L981.5,1027.6 L983.2,1027.8 L984.9,1028.0 L986.5,1028.0 L988.0,1027.9 L989.5,1027.7 L990.9,1027.4 L992.3,1026.9 L993.6,1026.2 L994.9,1025.5 L996.2,1024.6 L997.4,1023.6 L998.6,1022.5 L999.9,1021.4 L1001.1,1020.2 L1002.4,1019.1 L1003.7,1018.1 L1005.0,1017.2 L1006.4,1016.5 L1007.8,1016.0 L1009.3,1015.7 L1010.8,1015.5 L1012.4,1015.5 L1013.9,1015.5 L1015.5,1015.5 L1017.0,1015.6 L1018.5,1015.6 L1020.1,1015.6" fill="none" stroke="#363636" stroke-width="1.6" stroke-linejoin="round"/>
<path d="M293.1,1016.7 L294.6,1016.7 L296.1,1016.7 L297.6,1016.7 L299.2,1016.6 L300.7,1016.4 L302.2,1016.3 L303.8,1016.2 L305.3,1016.1 L306.8,1016.0 L308.4,1016.1 L309.9,1016.1 L311.4,1016.3 L312.9,1016.8 L314.3,1017.3 L315.7,1017.8 L317.2,1018.5 L318.5,1019.2 L319.9,1019.9 L321.2,1020.6 L322.6,1021.4 L323.9,1022.2 L325.2,1023.0 L326.5,1023.7 L327.9,1024.4 L329.2,1025.1 L330.6,1025.7 L331.9,1026.3 L333.3,1026.8 L334.7,1027.3 L336.1,1027.8 L337.6,1028.2 L339.0,1028.5 L340.5,1028.9 L342.0,1029.2 L343.5,1029.5 L345.0,1029.9 L346.5,1030.2 L348.0,1030.6 L349.5,1031.1 L350.9,1031.6 L352.3,1032.1 L353.7,1032.7 L355.2,1033.3 L356.6,1033.9 L357.9,1034.6 L359.3,1035.3 L360.6,1036.0 L362.0,1036.8 L363.3,1037.6 L364.6,1038.4 L365.8,1039.3 L367.0,1040.2 L368.2,1041.2 L369.4,1042.1 L370.5,1043.2 L371.6,1044.2 L372.7,1045.3 L373.8,1046.4 L374.8,1047.6 L375.8,1048.7 L376.7,1049.9 L377.7,1051.2 L378.6,1052.4 L379.5,1053.6 L380.4,1054.9 L381.3,1056.1 L382.1,1057.4 L383.0,1058.7 L383.9,1059.9 L384.7,1061.2 L385.6,1062.4 L386.4,1063.6 L387.3,1064.8 L388.2,1066.0 L389.1,1067.2 L390.0,1068.4 L391.0,1069.5 L392.0,1070.6 L393.1,1071.6 L394.2,1072.6 L395.4,1073.5 L396.7,1074.4 L398.1,1075.2 L399.4,1076.0 L400.8,1076.8 L402.3,1077.5 L403.7,1078.3 L405.1,1079.1 L406.5,1080.0 L407.8,1080.9 L409.1,1081.8 L410.3,1082.8 L411.4,1083.8 L412.5,1085.0 L413.4,1086.2 L414.2,1087.4 L415.0,1088.8 L415.6,1090.2 L416.2,1091.6 L416.7,1093.2 L417.1,1094.7 L417.4,1096.3 L417.7,1097.9 L418.0,1099.5 L418.2,1101.2 L418.5,1102.8 L418.8,1104.4 L419.1,1105.9 L419.5,1107.4 L420.0,1108.9 L420.5,1110.3 L421.2,1111.7 L421.9,1113.0 L422.7,1114.2 L423.7,1115.4 L424.6,1116.5 L425.7,1117.6 L426.8,1118.7 L427.9,1119.8 L429.1,1120.8 L430.3,1121.9 L431.6,1122.9 L432.8,1123.9 L434.1,1124.9 L435.3,1126.0 L436.5,1127.0 L437.7,1128.1 L438.8,1129.2 L439.9,1130.3 L440.9,1131.5 L441.9,1132.7 L442.7,1134.0 L443.5,1135.3 L444.2,1136.6 L444.9,1138.0 L445.4,1139.4 L445.9,1140.9 L446.3,1142.4 L446.6,1143.9 L446.8,1145.5 L447.0,1147.0 L447.2,1148.6 L447.3,1150.2 L447.5,1151.9 L447.6,1153.5 L447.7,1155.1 L447.8,1156.7 L448.0,1158.3 L448.2,1159.8 L448.4,1161.4 L448.7,1162.9 L449.1,1164.4 L449.5,1165.8 L450.1,1167.2 L450.8,1168.6 L451.5,1169.9 L452.3,1171.1 L453.2,1172.4 L454.1,1173.6 L455.1,1174.8 L456.2,1175.9 L457.3,1177.1 L458.4,1178.2 L459.5,1179.4 L460.7,1180.5 L461.8,1181.7 L462.9,1182.8 L463.9,1184.0 L464.9,1185.2 L465.9,1186.4 L466.7,1187.7 L467.6,1189.0 L468.3,1190.3 L469.0,1191.6 L469.6,1193.0 L470.2,1194.4 L470.6,1195.8 L471.1,1197.3 L471.4,1198.8 L471.8,1200.3 L472.1,1201.8 L472.3,1203.3 L472.6,1204.8 L472.8,1206.4 L473.0,1207.9 L473.3,1209.4 L473.5,1211.0 L473.8,1212.5 L474.1,1214.0 L474.5,1215.5 L474.9,1216.9 L475.3,1218.4 L475.7,1219.8 L476.3,1221.3 L476.8,1222.7 L477.4,1224.0 L478.1,1225.4 L478.8,1226.7 L479.6,1228.0 L480.4,1229.3 L481.3,1230.5 L482.2,1231.8 L483.1,1233.0 L484.1,1234.2 L485.0,1235.5 L486.0,1236.7 L486.9,1237.9 L487.8,1239.1 L488.7,1240.4 L489.6,1241.6 L490.4,1242.9 L491.2,1244.2 L491.9,1245.5 L492.6,1246.9 L493.2,1248.2 L493.8,1249.6 L494.3,1251.0 L494.8,1252.5 L495.2,1253.9 L495.6,1255.4 L496.0,1256.9 L496.3,1258.4 L496.6,1259.9 L497.0,1261.4 L497.3,1262.9 L497.6,1264.4 L497.9,1265.9 L498.3,1267.4 L498.7,1268.9 L499.1,1270.3 L499.6,1271.8 L500.2,1273.2 L500.7,1274.6 L501.4,1276.0 L502.1,1277.3 L502.8,1278.6 L503.7,1279.9 L504.5,1281.1 L505.4,1282.4 L506.4,1283.6 L507.4,1284.7 L508.4,1285.9 L509.4,1287.1 L510.4,1288.3 L511.5,1289.4 L512.5,1290.6 L513.4,1291.8 L514.4,1293.0 L515.3,1294.2 L516.2,1295.4 L517.0,1296.7 L517.8,1298.0 L518.5,1299.3 L519.1,1300.6 L519.7,1302.0 L520.3,1303.4 L520.8,1304.8 L521.3,1306.3 L521.7,1307.7 L522.1,1309.2 L522.5,1310.7 L522.9,1312.2 L523.3,1313.7 L523.7,1315.2 L524.1,1316.7 L524.6,1318.2 L525.1,1319.7 L525.7,1321.1 L526.2,1322.5 L526.9,1323.9 L527.6,1325.2 L528.3,1326.5 L529.1,1327.8 L530.0,1329.0 L531.0,1330.2 L532.0,1331.4 L533.0,1332.5 L534.1,1333.6 L535.3,1334.6 L536.5,1335.7 L537.7,1336.7 L538.9,1337.7 L540.1,1338.6 L541.4,1339.6 L542.6,1340.6 L543.7,1341.6 L544.9,1342.6 L546.0,1343.7 L547.0,1344.8 L548.0,1345.9 L549.0,1347.1 L549.8,1348.3 L550.6,1349.5 L551.4,1350.8 L552.0,1352.2 L552.7,1353.6 L553.2,1355.0 L553.8,1356.5 L554.3,1358.0 L554.8,1359.5 L555.3,1361.0 L555.8,1362.6 L556.3,1364.1 L556.8,1365.6 L557.4,1367.1 L558.1,1368.5 L558.8,1369.9 L559.6,1371.2 L560.6,1372.4 L561.6,1373.6 L562.6,1374.7 L563.8,1375.7 L565.0,1376.6 L566.3,1377.5 L567.6,1378.3 L569.0,1379.1 L570.4,1379.9 L571.8,1380.6 L573.3,1381.2 L574.7,1381.9 L576.1,1382.6 L577.5,1383.3 L578.9,1384.0 L580.2,1384.7 L581.6,1385.5 L582.8,1386.3 L584.1,1387.1 L585.2,1388.0 L586.4,1388.9 L587.5,1389.9 L588.6,1390.9 L589.7,1392.0 L590.7,1393.0 L591.7,1394.1 L592.8,1395.2 L593.8,1396.4 L594.9,1397.5 L595.9,1398.6 L597.0,1399.7 L598.1,1400.8 L599.3,1401.8 L600.4,1402.8 L601.6,1403.7 L602.9,1404.6 L604.1,1405.5 L605.4,1406.3 L606.7,1407.0 L608.1,1407.8 L609.5,1408.4 L610.9,1409.0 L612.3,1409.6 L613.7,1410.1 L615.2,1410.5 L616.7,1410.9 L618.1,1411.3 L619.6,1411.6 L621.1,1411.9 L622.6,1412.2 L624.2,1412.4 L625.7,1412.6 L627.2,1412.8 L628.7,1413.0 L630.2,1413.2 L631.7,1413.4 L633.1,1413.6 L634.6,1413.8 L636.1,1414.0 L637.6,1414.2 L639.0,1414.5 L640.5,1414.7 L641.9,1415.0 L643.4,1415.3 L644.8,1415.6 L646.3,1415.9 L647.8,1416.2 L649.2,1416.5 L650.7,1416.9 L652.2,1417.2 L653.7,1417.5 L655.2,1417.8 L656.7,1418.0 L658.2,1418.3 L659.7,1418.5 L661.2,1418.7 L662.7,1418.9 L664.2,1419.0 L665.7,1419.1 L667.3,1419.2 L668.8,1419.1 L670.3,1419.0 L671.8,1418.9 L673.3,1418.6 L674.8,1418.3 L676.3,1417.9 L677.8,1417.5 L679.2,1417.0 L680.7,1416.4 L682.1,1415.8 L683.5,1415.1 L684.9,1414.4 L686.2,1413.7 L687.6,1413.0 L688.9,1412.3 L690.3,1411.6 L691.6,1410.9 L692.9,1410.3 L694.3,1409.7 L695.7,1409.2 L697.1,1408.8 L698.5,1408.3 L699.9,1408.0 L701.4,1407.7 L702.9,1407.4 L704.4,1407.2 L706.0,1407.0 L707.5,1406.8 L709.1,1406.6 L710.7,1406.4 L712.3,1406.2 L713.8,1405.9 L715.3,1405.4 L716.8,1404.9 L718.2,1404.4 L719.7,1403.8 L721.1,1403.1 L722.4,1402.4 L723.7,1401.6 L725.0,1400.8 L726.3,1399.9 L727.5,1399.0 L728.7,1398.0 L729.8,1396.9 L730.9,1395.8 L732.0,1394.7 L733.0,1393.5 L734.0,1392.3 L735.0,1391.1 L735.9,1389.9 L736.8,1388.6 L737.7,1387.4 L738.6,1386.1 L739.5,1384.8 L740.4,1383.6 L741.3,1382.3 L742.2,1381.1 L743.1,1379.8 L744.0,1378.6 L744.9,1377.5 L745.9,1376.3 L746.9,1375.2 L747.9,1374.1 L748.9,1373.1 L750.0,1372.0 L751.1,1371.0 L752.2,1370.0 L753.3,1369.1 L754.5,1368.1 L755.7,1367.2 L757.0,1366.4 L758.4,1365.6 L759.8,1364.9 L761.2,1364.2 L762.7,1363.4 L764.1,1362.7 L765.5,1361.9 L766.9,1361.1 L768.2,1360.2 L769.4,1359.2 L770.5,1358.1 L771.5,1357.0 L772.4,1355.8 L773.2,1354.5 L774.0,1353.1 L774.6,1351.7 L775.1,1350.2 L775.5,1348.6 L775.9,1347.0 L776.3,1345.4 L776.6,1343.8 L777.0,1342.3 L777.4,1340.7 L777.8,1339.2 L778.3,1337.7 L778.9,1336.3 L779.6,1335.0 L780.4,1333.7 L781.3,1332.5 L782.3,1331.4 L783.4,1330.4 L784.6,1329.4 L785.9,1328.4 L787.2,1327.5 L788.6,1326.6 L790.0,1325.7 L791.4,1324.8 L792.7,1323.8 L793.8,1322.7 L794.8,1321.6 L795.8,1320.4 L796.8,1319.2 L797.7,1318.0 L798.6,1316.8 L799.5,1315.5 L800.3,1314.3 L801.1,1313.0 L801.9,1311.7 L802.6,1310.3 L803.3,1309.0 L803.9,1307.6 L804.5,1306.2 L805.1,1304.8 L805.7,1303.4 L806.2,1301.9 L806.7,1300.5 L807.1,1299.0 L807.6,1297.6 L808.0,1296.1 L808.4,1294.6 L808.8,1293.1 L809.2,1291.6 L809.6,1290.1 L809.9,1288.6 L810.3,1287.2 L810.7,1285.7 L811.1,1284.2 L811.4,1282.7 L811.8,1281.2 L812.3,1279.8 L812.7,1278.3 L813.1,1276.9 L813.6,1275.5 L814.1,1274.0 L814.6,1272.6 L815.2,1271.2 L815.7,1269.8 L816.3,1268.4 L816.9,1267.1 L817.7,1265.8 L818.6,1264.6 L819.6,1263.4 L820.6,1262.2 L821.7,1261.0 L822.8,1259.9 L824.0,1258.7 L825.1,1257.6 L826.2,1256.4 L827.3,1255.2 L828.3,1254.0 L829.2,1252.8 L830.1,1251.5 L830.8,1250.2 L831.4,1248.8 L831.8,1247.3 L832.2,1245.9 L832.4,1244.3 L832.6,1242.8 L832.7,1241.2 L832.7,1239.5 L832.6,1237.9 L832.6,1236.2 L832.5,1234.6 L832.5,1233.0 L832.5,1231.4 L832.6,1229.8 L832.8,1228.2 L833.1,1226.8 L833.6,1225.3 L834.1,1223.9 L834.8,1222.6 L835.6,1221.3 L836.6,1220.1 L837.6,1218.9 L838.6,1217.6 L839.6,1216.4 L840.7,1215.2 L841.7,1214.0 L842.8,1212.8 L843.8,1211.6 L844.9,1210.4 L845.9,1209.2 L846.9,1208.0 L847.8,1206.8 L848.7,1205.5 L849.5,1204.2 L850.3,1202.9 L851.0,1201.6 L851.7,1200.2 L852.3,1198.9 L852.8,1197.4 L853.2,1196.0 L853.6,1194.5 L853.9,1193.0 L854.1,1191.5 L854.3,1190.0 L854.5,1188.4 L854.6,1186.8 L854.7,1185.2 L854.8,1183.7 L854.8,1182.0 L854.9,1180.4 L855.0,1178.9 L855.1,1177.3 L855.3,1175.7 L855.4,1174.1 L855.7,1172.6 L856.0,1171.1 L856.3,1169.6 L856.8,1168.1 L857.3,1166.7 L857.8,1165.3 L858.5,1164.0 L859.4,1162.7 L860.3,1161.4 L861.3,1160.2 L862.3,1159.0 L863.4,1157.9 L864.6,1156.8 L865.7,1155.6 L866.9,1154.5 L868.1,1153.4 L869.2,1152.3 L870.4,1151.2 L871.4,1150.0 L872.4,1148.8 L873.4,1147.6 L874.2,1146.4 L875.0,1145.1 L875.7,1143.8 L876.4,1142.4 L876.9,1141.0 L877.4,1139.6 L877.9,1138.2 L878.3,1136.7 L878.6,1135.2 L878.9,1133.7 L879.2,1132.1 L879.5,1130.6 L879.8,1129.1 L880.2,1127.5 L880.5,1126.0 L880.9,1124.5 L881.4,1123.0 L881.9,1121.6 L882.4,1120.2 L883.0,1118.8 L883.7,1117.4 L884.4,1116.1 L885.2,1114.8 L886.0,1113.5 L886.8,1112.3 L887.7,1111.0 L888.5,1109.8 L889.5,1108.6 L890.4,1107.4 L891.4,1106.2 L892.4,1105.0 L893.4,1103.9 L894.5,1102.8 L895.6,1101.7 L896.7,1100.7 L897.8,1099.6 L898.9,1098.5 L900.0,1097.5 L901.1,1096.4 L902.2,1095.4 L903.3,1094.3 L904.4,1093.2 L905.4,1092.1 L906.4,1091.0 L907.4,1089.9 L908.4,1088.8 L909.3,1087.6 L910.2,1086.4 L911.0,1085.2 L911.8,1083.9 L912.6,1082.7 L913.4,1081.4 L914.1,1080.0 L914.8,1078.7 L915.5,1077.3 L916.1,1075.9 L916.8,1074.5 L917.5,1073.1 L918.1,1071.7 L918.8,1070.3 L919.5,1068.9 L920.2,1067.5 L920.9,1066.0 L921.7,1064.7 L922.5,1063.3 L923.3,1062.0 L924.3,1060.8 L925.3,1059.7 L926.4,1058.6 L927.5,1057.6 L928.7,1056.6 L930.0,1055.8 L931.3,1055.0 L932.7,1054.2 L934.2,1053.5 L935.6,1052.9 L937.1,1052.3 L938.6,1051.8 L940.1,1051.2 L941.6,1050.7 L943.1,1050.2 L944.6,1049.6 L946.0,1049.1 L947.4,1048.5 L948.8,1047.9 L950.1,1047.2 L951.4,1046.4 L952.6,1045.6 L953.8,1044.8 L955.0,1043.9 L956.1,1042.9 L957.2,1041.9 L958.3,1040.8 L959.3,1039.7 L960.4,1038.5 L961.4,1037.3 L962.5,1036.2 L963.5,1035.0 L964.6,1033.8 L965.6,1032.6 L966.7,1031.4 L967.8,1030.3 L969.0,1029.2 L970.3,1028.3 L971.5,1027.4 L972.9,1026.7 L974.3,1026.1 L975.8,1025.6 L977.3,1025.3 L978.8,1025.0 L980.4,1024.8 L982.0,1024.6 L983.6,1024.6 L985.2,1024.5 L986.8,1024.5 L988.3,1024.5 L989.9,1024.4 L991.4,1024.3 L993.0,1024.2 L994.4,1024.0 L995.9,1023.7 L997.3,1023.3 L998.8,1022.9 L1000.1,1022.3 L1001.5,1021.7 L1002.9,1021.1 L1004.2,1020.3 L1005.5,1019.5 L1006.9,1018.7 L1008.3,1018.0 L1009.7,1017.4 L1011.1,1016.9 L1012.6,1016.5 L1014.1,1016.2 L1015.5,1016.0 L1017.0,1015.8 L1018.5,1015.7 L1020.1,1015.6" fill="none" stroke="#363636" stroke-width="1.6" stroke-linejoin="round"/>
<path d="M1033.3,1015.3 L1034.7,1015.6 L1036.2,1016.0 L1037.7,1016.3 L1039.1,1016.7 L1040.6,1017.0 L1042.1,1017.4 L1043.5,1017.7 L1045.0,1018.1 L1046.4,1018.4 L1047.9,1018.8 L1049.4,1019.1 L1050.8,1019.5 L1052.3,1019.8 L1053.8,1020.2 L1055.2,1020.6 L1056.7,1021.0 L1058.1,1021.5 L1059.5,1021.9 L1061.0,1022.4 L1062.4,1022.9 L1063.8,1023.4 L1065.2,1024.0 L1066.6,1024.5 L1068.0,1025.1 L1069.4,1025.7 L1070.8,1026.3 L1072.1,1027.0 L1073.5,1027.7 L1074.8,1028.4 L1076.1,1029.1 L1077.5,1029.9 L1078.8,1030.6 L1080.1,1031.4 L1081.3,1032.2 L1082.6,1033.0 L1083.9,1033.8 L1085.1,1034.6 L1086.4,1035.5 L1087.6,1036.3 L1088.8,1037.2 L1090.1,1038.1 L1091.3,1038.9 L1092.6,1039.7 L1093.8,1040.5 L1095.1,1041.3 L1096.4,1042.1 L1097.6,1042.9 L1098.9,1043.7 L1100.2,1044.4 L1101.5,1045.2 L1102.8,1046.0 L1104.1,1046.7 L1105.4,1047.5 L1106.7,1048.4 L1107.9,1049.2 L1109.2,1050.1 L1110.4,1051.0 L1111.6,1051.9 L1112.8,1052.8 L1113.9,1053.8 L1115.0,1054.8 L1116.1,1055.9 L1117.2,1057.0 L1118.2,1058.1 L1119.2,1059.2 L1120.2,1060.4 L1121.2,1061.5 L1122.1,1062.7 L1123.1,1063.9 L1124.0,1065.0 L1125.0,1066.2 L1125.9,1067.4 L1126.9,1068.5 L1127.8,1069.7 L1128.8,1070.8 L1129.8,1072.0 L1130.8,1073.1 L1131.8,1074.2 L1132.8,1075.3 L1133.8,1076.4 L1134.8,1077.6 L1135.8,1078.7 L1136.8,1079.8 L1137.8,1080.9 L1138.8,1082.0 L1139.9,1083.1 L1140.9,1084.2 L1141.9,1085.4 L1142.9,1086.5 L1143.8,1087.6 L1144.8,1088.8 L1145.8,1090.0 L1146.7,1091.1 L1147.6,1092.3 L1148.5,1093.5 L1149.4,1094.8 L1150.3,1096.0 L1151.1,1097.3 L1151.9,1098.5 L1152.7,1099.8 L1153.5,1101.1 L1154.3,1102.4 L1155.0,1103.7 L1155.7,1105.1 L1156.4,1106.4 L1157.1,1107.7 L1157.8,1109.1 L1158.5,1110.4 L1159.1,1111.8 L1159.8,1113.1 L1160.4,1114.5 L1161.1,1115.8 L1161.8,1117.2 L1162.4,1118.5 L1163.1,1119.9 L1163.8,1121.2 L1164.5,1122.6 L1165.2,1123.9 L1165.9,1125.2 L1166.6,1126.5 L1167.4,1127.8 L1168.2,1129.1 L1168.9,1130.4 L1169.7,1131.7 L1170.5,1132.9 L1171.4,1134.2 L1172.2,1135.5 L1173.0,1136.7 L1173.8,1138.0 L1174.6,1139.3 L1175.4,1140.6 L1176.2,1141.9 L1177.0,1143.1 L1177.8,1144.4 L1178.6,1145.8 L1179.3,1147.1 L1180.0,1148.4 L1180.6,1149.8 L1181.3,1151.1 L1181.9,1152.5 L1182.5,1153.9 L1183.1,1155.3 L1183.6,1156.7 L1184.1,1158.1 L1184.6,1159.5 L1185.1,1161.0 L1185.5,1162.4 L1186.0,1163.9 L1186.4,1165.3 L1186.9,1166.8 L1187.3,1168.2 L1187.8,1169.7 L1188.2,1171.1 L1188.7,1172.5 L1189.3,1173.9 L1189.8,1175.3 L1190.4,1176.7 L1190.9,1178.1 L1191.6,1179.5 L1192.2,1180.8 L1192.9,1182.2 L1193.5,1183.5 L1194.2,1184.9 L1195.0,1186.2 L1195.7,1187.5 L1196.4,1188.8 L1197.2,1190.2 L1197.9,1191.5 L1198.7,1192.8 L1199.4,1194.1 L1200.2,1195.4 L1200.9,1196.7 L1201.6,1198.1 L1202.3,1199.4 L1203.0,1200.8 L1203.7,1202.1 L1204.3,1203.5 L1204.9,1204.8 L1205.5,1206.2 L1206.1,1207.6 L1206.6,1209.0 L1207.1,1210.4 L1207.7,1211.8 L1208.2,1213.3 L1208.6,1214.7 L1209.1,1216.1 L1209.6,1217.6 L1210.0,1219.0 L1210.5,1220.5 L1210.9,1221.9 L1211.4,1223.3 L1211.9,1224.8 L1212.4,1226.2 L1212.8,1227.6 L1213.4,1229.0 L1213.9,1230.5 L1214.4,1231.9 L1215.0,1233.3 L1215.6,1234.6 L1216.2,1236.0 L1216.8,1237.4 L1217.4,1238.7 L1218.1,1240.1 L1218.8,1241.4 L1219.5,1242.8 L1220.2,1244.1 L1220.9,1245.4 L1221.7,1246.7 L1222.4,1248.1 L1223.2,1249.4 L1223.9,1250.7 L1224.7,1252.0 L1225.4,1253.3 L1226.1,1254.6 L1226.9,1255.9 L1227.6,1257.2 L1228.3,1258.6 L1229.0,1259.9 L1229.7,1261.2 L1230.4,1262.6 L1231.0,1263.9 L1231.7,1265.3 L1232.3,1266.7 L1232.9,1268.0 L1233.5,1269.4 L1234.1,1270.8 L1234.7,1272.2 L1235.3,1273.6 L1235.8,1275.0 L1236.4,1276.4 L1236.9,1277.8 L1237.5,1279.2 L1238.0,1280.6 L1238.6,1282.0 L1239.2,1283.4 L1239.8,1284.8 L1240.4,1286.1 L1241.1,1287.5 L1241.8,1288.8 L1242.5,1290.2 L1243.2,1291.5 L1244.0,1292.8 L1244.8,1294.0 L1245.7,1295.3 L1246.5,1296.5 L1247.4,1297.8 L1248.3,1299.0 L1249.2,1300.2 L1250.1,1301.4 L1250.9,1302.7 L1251.8,1303.9 L1252.7,1305.1 L1253.6,1306.3 L1254.4,1307.6 L1255.3,1308.8 L1256.1,1310.1 L1256.9,1311.4 L1257.6,1312.7 L1258.4,1314.0 L1259.1,1315.3 L1259.8,1316.6 L1260.5,1317.9 L1261.2,1319.3 L1261.9,1320.6 L1262.6,1322.0 L1263.3,1323.3 L1264.0,1324.6 L1264.8,1325.9 L1265.5,1327.2 L1266.3,1328.5 L1267.1,1329.8 L1267.9,1331.1 L1268.8,1332.4 L1269.6,1333.6 L1270.5,1334.8 L1271.3,1336.1 L1272.3,1337.3 L1273.2,1338.5 L1274.1,1339.6 L1275.1,1340.8 L1276.1,1342.0 L1277.1,1343.1 L1278.1,1344.2 L1279.1,1345.3 L1280.1,1346.4 L1281.2,1347.5 L1282.2,1348.6 L1283.3,1349.7 L1284.3,1350.7 L1285.4,1351.8 L1286.5,1352.9 L1287.5,1353.9 L1288.6,1355.0 L1289.6,1356.1 L1290.7,1357.2 L1291.7,1358.2 L1292.8,1359.3 L1293.8,1360.4 L1294.8,1361.5 L1295.9,1362.6 L1296.9,1363.7 L1297.9,1364.8 L1298.9,1365.9 L1299.9,1367.1 L1300.9,1368.2 L1301.8,1369.3 L1302.8,1370.5 L1303.8,1371.6 L1304.8,1372.8 L1305.8,1373.9 L1306.8,1375.0 L1307.8,1376.2 L1308.8,1377.3 L1309.8,1378.4 L1310.9,1379.5 L1311.9,1380.5 L1313.0,1381.6 L1314.1,1382.6 L1315.3,1383.6 L1316.4,1384.6 L1317.6,1385.5 L1318.8,1386.5 L1320.0,1387.4 L1321.2,1388.2 L1322.5,1389.1 L1323.8,1389.9 L1325.0,1390.7 L1326.3,1391.5 L1327.6,1392.3 L1328.9,1393.1 L1330.2,1393.8 L1331.5,1394.5 L1332.9,1395.3 L1334.2,1396.0 L1335.5,1396.8 L1336.8,1397.5 L1338.1,1398.2 L1339.4,1399.0 L1340.7,1399.7 L1342.0,1400.5 L1343.3,1401.2 L1344.5,1402.0 L1345.8,1402.8 L1347.1,1403.6 L1348.4,1404.3 L1349.7,1405.1 L1351.0,1405.9 L1352.2,1406.7 L1353.6,1407.4 L1354.9,1408.2 L1356.2,1408.9 L1357.6,1409.6 L1358.9,1410.2 L1360.3,1410.9 L1361.7,1411.4 L1363.1,1412.0 L1364.5,1412.5 L1366.0,1412.9 L1367.4,1413.4 L1368.9,1413.7 L1370.4,1414.1 L1371.9,1414.4 L1373.3,1414.6 L1374.8,1414.9 L1376.3,1415.1 L1377.8,1415.3 L1379.3,1415.4 L1380.8,1415.6 L1382.3,1415.7 L1383.8,1415.8 L1385.3,1415.9 L1386.8,1416.0 L1388.3,1416.1 L1389.8,1416.1 L1391.3,1416.2 L1392.8,1416.3 L1394.3,1416.3 L1395.8,1416.3 L1397.3,1416.3 L1398.8,1416.3 L1400.3,1416.3 L1401.8,1416.3 L1403.3,1416.2 L1404.8,1416.1 L1406.3,1416.0 L1407.8,1415.9 L1409.3,1415.8 L1410.8,1415.7 L1412.3,1415.5 L1413.8,1415.3 L1415.3,1415.1 L1416.8,1414.8 L1418.3,1414.5 L1419.8,1414.2 L1421.2,1413.9 L1422.7,1413.5 L1424.1,1413.1 L1425.6,1412.7 L1427.0,1412.2 L1428.5,1411.7 L1429.9,1411.2 L1431.3,1410.6 L1432.7,1410.0 L1434.0,1409.4 L1435.4,1408.7 L1436.8,1408.1 L1438.1,1407.4 L1439.4,1406.7 L1440.8,1406.0 L1442.1,1405.3 L1443.4,1404.5 L1444.7,1403.8 L1446.0,1403.1 L1447.3,1402.4 L1448.6,1401.6 L1449.9,1400.9 L1451.2,1400.2 L1452.6,1399.5 L1453.9,1398.8 L1455.2,1398.1 L1456.5,1397.4 L1457.8,1396.7 L1459.2,1396.0 L1460.5,1395.2 L1461.8,1394.5 L1463.1,1393.8 L1464.4,1393.0 L1465.7,1392.3 L1467.0,1391.5 L1468.3,1390.7 L1469.6,1389.9 L1470.9,1389.1 L1472.1,1388.2 L1473.4,1387.4 L1474.6,1386.5 L1475.8,1385.6 L1477.0,1384.6 L1478.2,1383.7 L1479.3,1382.7 L1480.4,1381.7 L1481.5,1380.6 L1482.6,1379.6 L1483.7,1378.5 L1484.7,1377.4 L1485.8,1376.3 L1486.8,1375.2 L1487.8,1374.0 L1488.7,1372.9 L1489.7,1371.7 L1490.6,1370.5 L1491.6,1369.3 L1492.5,1368.1 L1493.4,1367.0 L1494.3,1365.8 L1495.2,1364.6 L1496.1,1363.4 L1497.0,1362.2 L1497.9,1360.9 L1498.8,1359.7 L1499.8,1358.6 L1500.7,1357.4 L1501.7,1356.3 L1502.7,1355.1 L1503.7,1354.0 L1504.7,1352.9 L1505.7,1351.8 L1506.8,1350.7 L1507.8,1349.6 L1508.9,1348.6 L1509.9,1347.5 L1511.0,1346.4 L1512.0,1345.3 L1513.1,1344.2 L1514.1,1343.0 L1515.1,1341.9 L1516.0,1340.7 L1516.9,1339.5 L1517.8,1338.3 L1518.7,1337.0 L1519.5,1335.8 L1520.2,1334.5 L1521.0,1333.2 L1521.7,1331.8 L1522.4,1330.5 L1523.0,1329.1 L1523.7,1327.7 L1524.3,1326.3 L1524.9,1325.0 L1525.5,1323.6 L1526.2,1322.2 L1526.8,1320.8 L1527.4,1319.5 L1528.1,1318.1 L1528.8,1316.8 L1529.5,1315.5 L1530.3,1314.2 L1531.0,1312.9 L1531.8,1311.6 L1532.6,1310.3 L1533.4,1309.0 L1534.2,1307.8 L1535.0,1306.5 L1535.9,1305.3 L1536.7,1304.0 L1537.6,1302.8 L1538.4,1301.5 L1539.2,1300.2 L1540.1,1299.0 L1540.9,1297.7 L1541.8,1296.5 L1542.6,1295.2 L1543.4,1293.9 L1544.2,1292.6 L1544.9,1291.3 L1545.7,1290.0 L1546.4,1288.7 L1547.2,1287.4 L1547.8,1286.1 L1548.5,1284.7 L1549.2,1283.3 L1549.8,1282.0 L1550.4,1280.6 L1551.0,1279.2 L1551.5,1277.8 L1552.1,1276.4 L1552.6,1275.0 L1553.1,1273.6 L1553.7,1272.1 L1554.2,1270.7 L1554.6,1269.3 L1555.1,1267.9 L1555.6,1266.4 L1556.1,1265.0 L1556.5,1263.5 L1557.0,1262.1 L1557.4,1260.7 L1557.9,1259.2 L1558.5,1257.8 L1559.0,1256.4 L1559.6,1255.1 L1560.3,1253.7 L1561.0,1252.4 L1561.7,1251.0 L1562.4,1249.7 L1563.2,1248.4 L1564.0,1247.1 L1564.8,1245.8 L1565.6,1244.5 L1566.4,1243.2 L1567.2,1241.9 L1568.0,1240.6 L1568.7,1239.3 L1569.4,1238.0 L1570.1,1236.6 L1570.7,1235.3 L1571.3,1233.9 L1571.8,1232.4 L1572.3,1231.0 L1572.7,1229.6 L1573.1,1228.1 L1573.5,1226.6 L1573.8,1225.1 L1574.1,1223.7 L1574.5,1222.2 L1574.8,1220.7 L1575.1,1219.2 L1575.5,1217.7 L1575.8,1216.2 L1576.3,1214.8 L1576.7,1213.3 L1577.3,1211.9 L1577.8,1210.5 L1578.4,1209.2 L1579.1,1207.8 L1579.8,1206.5 L1580.5,1205.1 L1581.2,1203.8 L1581.9,1202.5 L1582.7,1201.2 L1583.5,1199.9 L1584.3,1198.6 L1585.1,1197.3 L1585.8,1195.9 L1586.6,1194.6 L1587.4,1193.3 L1588.1,1192.0 L1588.8,1190.7 L1589.5,1189.3 L1590.2,1188.0 L1590.8,1186.6 L1591.4,1185.2 L1592.0,1183.9 L1592.5,1182.5 L1593.0,1181.0 L1593.5,1179.6 L1594.0,1178.2 L1594.4,1176.7 L1594.8,1175.3 L1595.3,1173.8 L1595.7,1172.4 L1596.1,1170.9 L1596.5,1169.5 L1597.0,1168.0 L1597.4,1166.6 L1597.9,1165.1 L1598.4,1163.7 L1599.0,1162.3 L1599.5,1160.9 L1600.1,1159.5 L1600.7,1158.1 L1601.4,1156.8 L1602.1,1155.4 L1602.8,1154.1 L1603.5,1152.8 L1604.3,1151.5 L1605.0,1150.2 L1605.8,1148.9 L1606.6,1147.6 L1607.4,1146.3 L1608.2,1145.0 L1609.0,1143.7 L1609.9,1142.5 L1610.7,1141.2 L1611.5,1139.9 L1612.3,1138.7 L1613.1,1137.4 L1614.0,1136.1 L1614.8,1134.9 L1615.6,1133.6 L1616.3,1132.3 L1617.1,1131.0 L1617.9,1129.7 L1618.6,1128.4 L1619.3,1127.1 L1620.1,1125.8 L1620.8,1124.5 L1621.5,1123.2 L1622.2,1121.8 L1622.9,1120.5 L1623.5,1119.1 L1624.2,1117.8 L1624.9,1116.5 L1625.6,1115.1 L1626.3,1113.8 L1626.9,1112.4 L1627.6,1111.1 L1628.3,1109.7 L1629.0,1108.4 L1629.7,1107.0 L1630.4,1105.7 L1631.1,1104.4 L1631.9,1103.1 L1632.6,1101.8 L1633.4,1100.5 L1634.3,1099.2 L1635.1,1098.0 L1636.0,1096.8 L1636.9,1095.6 L1637.9,1094.4 L1638.8,1093.2 L1639.8,1092.1 L1640.9,1091.0 L1641.9,1089.9 L1642.9,1088.8 L1644.0,1087.7 L1645.0,1086.6 L1646.0,1085.5 L1647.1,1084.4 L1648.1,1083.2 L1649.1,1082.1 L1650.1,1081.0 L1651.0,1079.8 L1651.9,1078.7 L1652.9,1077.5 L1653.7,1076.3 L1654.6,1075.0 L1655.5,1073.8 L1656.3,1072.5 L1657.1,1071.3 L1658.0,1070.0 L1658.8,1068.7 L1659.7,1067.5 L1660.5,1066.2 L1661.4,1065.0 L1662.3,1063.7 L1663.2,1062.6 L1664.2,1061.4 L1665.2,1060.3 L1666.2,1059.2 L1667.2,1058.1 L1668.3,1057.0 L1669.3,1055.9 L1670.4,1054.8 L1671.5,1053.8 L1672.6,1052.8 L1673.8,1051.8 L1674.9,1050.8 L1676.1,1049.8 L1677.3,1048.9 L1678.5,1047.9 L1679.7,1047.0 L1680.9,1046.1 L1682.1,1045.3 L1683.4,1044.4 L1684.6,1043.5 L1685.9,1042.7 L1687.2,1041.9 L1688.4,1041.1 L1689.7,1040.3 L1691.0,1039.5 L1692.3,1038.7 L1693.6,1037.9 L1694.9,1037.2 L1696.1,1036.4 L1697.4,1035.6 L1698.7,1034.9 L1700.0,1034.1 L1701.3,1033.4 L1702.6,1032.6 L1703.9,1031.9 L1705.2,1031.2 L1706.5,1030.4 L1707.8,1029.7 L1709.0,1028.9 L1710.3,1028.1 L1711.6,1027.3 L1712.9,1026.5 L1714.1,1025.7 L1715.4,1024.9 L1716.7,1024.1 L1718.0,1023.3 L1719.3,1022.5 L1720.6,1021.8 L1722.0,1021.1 L1723.3,1020.4 L1724.7,1019.8 L1726.1,1019.3 L1727.6,1018.7 L1729.0,1018.3 L1730.4,1017.8 L1731.9,1017.5 L1733.4,1017.2 L1734.9,1017.0 L1736.4,1016.8 L1738.0,1016.7 L1739.5,1016.7 L1741.0,1016.7 L1742.6,1016.7 L1744.1,1016.8 L1745.6,1016.8 L1747.1,1016.9 L1748.6,1017.0 L1750.1,1017.0 L1751.6,1017.1 L1753.1,1017.2 L1754.5,1017.3 L1756.0,1017.4 L1757.5,1017.6 L1758.9,1017.8 L1760.4,1018.0 L1761.9,1018.3" fill="none" stroke="#363636" stroke-width="1.6" stroke-linejoin="round"/>
<path d="M1033.3,1015.3 L1034.8,1015.4 L1036.3,1015.6 L1037.8,1015.8 L1039.3,1016.0 L1040.8,1016.3 L1042.2,1016.7 L1043.7,1017.1 L1045.1,1017.6 L1046.5,1018.2 L1047.9,1018.8 L1049.3,1019.5 L1050.6,1020.3 L1051.9,1021.1 L1053.2,1021.9 L1054.6,1022.6 L1055.9,1023.4 L1057.2,1024.1 L1058.5,1024.8 L1059.8,1025.5 L1061.2,1026.2 L1062.5,1026.8 L1063.9,1027.4 L1065.2,1028.0 L1066.6,1028.5 L1068.0,1029.0 L1069.4,1029.4 L1070.9,1029.8 L1072.3,1030.2 L1073.8,1030.6 L1075.3,1030.9 L1076.8,1031.2 L1078.3,1031.5 L1079.9,1031.8 L1081.4,1032.0 L1083.0,1032.3 L1084.5,1032.6 L1086.1,1032.9 L1087.6,1033.3 L1089.3,1033.6 L1090.8,1033.9 L1092.3,1034.4 L1093.8,1035.0 L1095.1,1035.8 L1096.4,1036.6 L1097.6,1037.6 L1098.7,1038.7 L1099.7,1040.0 L1100.6,1041.3 L1101.5,1042.7 L1102.3,1044.1 L1103.1,1045.6 L1103.9,1047.1 L1104.6,1048.5 L1105.4,1050.0 L1106.2,1051.4 L1107.0,1052.7 L1107.9,1054.0 L1108.8,1055.2 L1109.8,1056.3 L1110.9,1057.3 L1112.1,1058.2 L1113.3,1059.0 L1114.6,1059.7 L1116.0,1060.4 L1117.5,1061.0 L1119.0,1061.6 L1120.6,1062.1 L1122.1,1062.7 L1123.7,1063.3 L1125.2,1063.9 L1126.7,1064.6 L1128.1,1065.3 L1129.5,1066.1 L1130.7,1067.1 L1131.9,1068.0 L1133.0,1069.1 L1134.0,1070.3 L1134.9,1071.5 L1135.8,1072.8 L1136.6,1074.1 L1137.3,1075.4 L1138.0,1076.8 L1138.6,1078.3 L1139.2,1079.8 L1139.8,1081.3 L1140.3,1082.8 L1140.7,1084.3 L1141.2,1085.8 L1141.7,1087.4 L1142.2,1088.9 L1142.7,1090.4 L1143.2,1091.8 L1143.7,1093.2 L1144.3,1094.6 L1145.0,1096.0 L1145.7,1097.3 L1146.5,1098.6 L1147.3,1099.8 L1148.2,1101.0 L1149.2,1102.1 L1150.2,1103.2 L1151.3,1104.3 L1152.5,1105.3 L1153.6,1106.4 L1154.9,1107.4 L1156.1,1108.3 L1157.4,1109.3 L1158.6,1110.3 L1159.9,1111.3 L1161.2,1112.3 L1162.4,1113.4 L1163.6,1114.4 L1164.7,1115.5 L1165.8,1116.6 L1166.9,1117.8 L1167.9,1119.0 L1168.8,1120.2 L1169.6,1121.5 L1170.3,1122.8 L1170.9,1124.2 L1171.5,1125.6 L1171.9,1127.1 L1172.3,1128.6 L1172.5,1130.2 L1172.7,1131.8 L1172.9,1133.4 L1173.0,1135.1 L1173.0,1136.7 L1173.0,1138.4 L1173.1,1140.1 L1173.1,1141.7 L1173.2,1143.4 L1173.3,1145.0 L1173.5,1146.6 L1173.7,1148.1 L1174.1,1149.6 L1174.5,1151.0 L1175.0,1152.4 L1175.7,1153.8 L1176.4,1155.1 L1177.3,1156.3 L1178.3,1157.5 L1179.4,1158.7 L1180.5,1159.8 L1181.8,1160.8 L1183.1,1161.9 L1184.5,1162.9 L1185.9,1163.9 L1187.3,1164.9 L1188.7,1165.9 L1190.1,1167.0 L1191.5,1168.0 L1192.7,1169.1 L1193.8,1170.3 L1194.8,1171.5 L1195.8,1172.7 L1196.5,1174.0 L1197.2,1175.4 L1197.8,1176.8 L1198.2,1178.2 L1198.5,1179.7 L1198.7,1181.3 L1198.8,1182.9 L1198.9,1184.5 L1198.9,1186.2 L1198.8,1187.8 L1198.7,1189.5 L1198.5,1191.2 L1198.4,1192.9 L1198.3,1194.6 L1198.2,1196.3 L1198.1,1197.9 L1198.1,1199.6 L1198.2,1201.1 L1198.4,1202.7 L1198.7,1204.2 L1199.0,1205.7 L1199.5,1207.1 L1200.1,1208.5 L1200.7,1209.9 L1201.5,1211.2 L1202.4,1212.5 L1203.3,1213.7 L1204.4,1214.9 L1205.5,1216.1 L1206.6,1217.2 L1207.8,1218.3 L1209.0,1219.5 L1210.2,1220.6 L1211.4,1221.7 L1212.6,1222.8 L1213.8,1223.9 L1214.9,1225.1 L1216.0,1226.3 L1217.0,1227.5 L1217.9,1228.7 L1218.8,1229.9 L1219.6,1231.2 L1220.3,1232.5 L1220.9,1233.9 L1221.5,1235.3 L1221.9,1236.7 L1222.3,1238.2 L1222.6,1239.7 L1222.8,1241.3 L1223.0,1242.8 L1223.2,1244.4 L1223.3,1246.0 L1223.3,1247.6 L1223.4,1249.3 L1223.5,1250.9 L1223.5,1252.5 L1223.7,1254.1 L1223.8,1255.7 L1224.0,1257.3 L1224.3,1258.8 L1224.6,1260.3 L1225.0,1261.8 L1225.4,1263.3 L1226.0,1264.7 L1226.6,1266.1 L1227.4,1267.4 L1228.2,1268.7 L1229.1,1269.9 L1230.0,1271.1 L1231.0,1272.3 L1232.1,1273.5 L1233.2,1274.6 L1234.5,1275.7 L1235.8,1276.7 L1237.1,1277.7 L1238.4,1278.7 L1239.7,1279.7 L1241.0,1280.8 L1242.2,1281.8 L1243.3,1282.9 L1244.3,1284.1 L1245.2,1285.3 L1246.0,1286.5 L1246.7,1287.9 L1247.3,1289.2 L1247.8,1290.7 L1248.2,1292.2 L1248.5,1293.7 L1248.7,1295.3 L1248.8,1296.9 L1249.0,1298.6 L1249.1,1300.3 L1249.2,1301.9 L1249.3,1303.6 L1249.5,1305.2 L1249.8,1306.9 L1250.1,1308.4 L1250.6,1309.9 L1251.2,1311.3 L1251.8,1312.7 L1252.6,1314.0 L1253.6,1315.2 L1254.6,1316.4 L1255.7,1317.4 L1257.0,1318.4 L1258.3,1319.4 L1259.7,1320.3 L1261.1,1321.1 L1262.6,1322.0 L1264.1,1322.8 L1265.4,1323.7 L1266.7,1324.6 L1267.9,1325.6 L1269.2,1326.6 L1270.3,1327.6 L1271.5,1328.6 L1272.6,1329.6 L1273.6,1330.7 L1274.6,1331.8 L1275.5,1333.0 L1276.3,1334.2 L1277.1,1335.5 L1277.9,1336.8 L1278.6,1338.1 L1279.2,1339.5 L1279.8,1340.9 L1280.4,1342.4 L1280.9,1343.9 L1281.4,1345.4 L1281.9,1346.9 L1282.5,1348.4 L1283.0,1349.9 L1283.5,1351.5 L1284.0,1353.0 L1284.6,1354.5 L1285.2,1355.9 L1285.9,1357.4 L1286.6,1358.8 L1287.4,1360.1 L1288.2,1361.4 L1289.1,1362.7 L1290.0,1363.9 L1291.0,1365.0 L1292.1,1366.1 L1293.3,1367.1 L1294.5,1368.1 L1295.7,1369.0 L1297.0,1369.8 L1298.4,1370.6 L1299.9,1371.3 L1301.4,1371.9 L1302.9,1372.6 L1304.4,1373.1 L1306.0,1373.7 L1307.5,1374.2 L1309.0,1374.8 L1310.5,1375.4 L1312.0,1376.0 L1313.4,1376.6 L1314.8,1377.3 L1316.1,1378.0 L1317.4,1378.8 L1318.6,1379.7 L1319.7,1380.6 L1320.8,1381.6 L1321.8,1382.7 L1322.8,1383.9 L1323.7,1385.1 L1324.6,1386.3 L1325.5,1387.6 L1326.3,1389.0 L1327.2,1390.4 L1328.0,1391.8 L1328.9,1393.1 L1329.7,1394.5 L1330.6,1395.9 L1331.5,1397.2 L1332.5,1398.5 L1333.5,1399.7 L1334.6,1400.9 L1335.8,1402.0 L1337.0,1403.0 L1338.2,1403.9 L1339.5,1404.7 L1340.9,1405.4 L1342.3,1406.0 L1343.8,1406.5 L1345.4,1406.8 L1347.0,1407.1 L1348.6,1407.2 L1350.3,1407.4 L1351.9,1407.4 L1353.5,1407.5 L1355.2,1407.5 L1356.8,1407.5 L1358.4,1407.6 L1359.9,1407.7 L1361.4,1407.9 L1362.9,1408.2 L1364.3,1408.5 L1365.7,1408.9 L1367.1,1409.4 L1368.5,1409.9 L1369.8,1410.5 L1371.1,1411.2 L1372.5,1411.9 L1373.8,1412.7 L1375.1,1413.5 L1376.5,1414.2 L1377.9,1415.0 L1379.3,1415.7 L1380.7,1416.4 L1382.2,1417.0 L1383.6,1417.5 L1385.1,1417.9 L1386.6,1418.3 L1388.2,1418.5 L1389.7,1418.7 L1391.2,1418.7 L1392.8,1418.7 L1394.3,1418.6 L1395.8,1418.4 L1397.3,1418.2 L1398.9,1417.9 L1400.4,1417.6 L1401.9,1417.3 L1403.3,1416.8 L1404.8,1416.4 L1406.3,1415.9 L1407.7,1415.3 L1409.2,1414.8 L1410.6,1414.2 L1412.0,1413.6 L1413.4,1413.0 L1414.8,1412.4 L1416.2,1411.9 L1417.6,1411.4 L1418.9,1410.9 L1420.4,1410.4 L1421.8,1410.0 L1423.2,1409.7 L1424.6,1409.4 L1426.1,1409.2 L1427.6,1409.0 L1429.1,1408.8 L1430.6,1408.7 L1432.2,1408.6 L1433.7,1408.6 L1435.3,1408.5 L1436.9,1408.5 L1438.5,1408.4 L1440.1,1408.4 L1441.8,1408.2 L1443.4,1408.1 L1445.0,1407.9 L1446.5,1407.6 L1448.1,1407.2 L1449.6,1406.7 L1451.0,1406.2 L1452.4,1405.5 L1453.8,1404.8 L1455.1,1403.9 L1456.3,1402.9 L1457.5,1401.9 L1458.6,1400.8 L1459.7,1399.6 L1460.7,1398.4 L1461.7,1397.1 L1462.7,1395.8 L1463.6,1394.5 L1464.5,1393.1 L1465.4,1391.7 L1466.2,1390.4 L1467.1,1389.0 L1467.9,1387.7 L1468.8,1386.3 L1469.6,1385.1 L1470.5,1383.8 L1471.4,1382.6 L1472.4,1381.4 L1473.4,1380.3 L1474.4,1379.3 L1475.5,1378.3 L1476.6,1377.4 L1477.7,1376.5 L1479.0,1375.6 L1480.2,1374.8 L1481.5,1374.1 L1482.9,1373.4 L1484.3,1372.7 L1485.7,1372.0 L1487.2,1371.4 L1488.7,1370.7 L1490.2,1370.1 L1491.7,1369.4 L1493.2,1368.8 L1494.7,1368.1 L1496.1,1367.4 L1497.6,1366.6 L1499.0,1365.8 L1500.4,1365.1 L1501.8,1364.2 L1503.1,1363.3 L1504.3,1362.3 L1505.3,1361.2 L1506.3,1360.0 L1507.1,1358.7 L1507.7,1357.3 L1508.3,1355.7 L1508.7,1354.1 L1509.0,1352.5 L1509.3,1350.8 L1509.5,1349.0 L1509.7,1347.3 L1509.8,1345.5 L1510.0,1343.8 L1510.2,1342.1 L1510.5,1340.5 L1510.9,1338.9 L1511.4,1337.5 L1511.9,1336.1 L1512.7,1334.8 L1513.5,1333.5 L1514.5,1332.4 L1515.6,1331.4 L1516.8,1330.4 L1518.2,1329.5 L1519.6,1328.7 L1521.1,1327.9 L1522.7,1327.1 L1524.3,1326.3 L1525.9,1325.6 L1527.5,1324.8 L1529.0,1323.9 L1530.4,1323.0 L1531.8,1322.1 L1533.0,1321.0 L1534.1,1319.9 L1535.1,1318.7 L1535.9,1317.4 L1536.6,1316.1 L1537.2,1314.7 L1537.7,1313.2 L1538.2,1311.7 L1538.6,1310.2 L1538.9,1308.6 L1539.1,1307.0 L1539.3,1305.4 L1539.4,1303.8 L1539.5,1302.1 L1539.6,1300.5 L1539.7,1298.8 L1539.8,1297.1 L1539.9,1295.5 L1540.0,1293.9 L1540.1,1292.3 L1540.3,1290.7 L1540.6,1289.1 L1540.9,1287.6 L1541.3,1286.1 L1541.7,1284.7 L1542.3,1283.3 L1542.9,1282.0 L1543.6,1280.6 L1544.4,1279.4 L1545.3,1278.1 L1546.2,1276.9 L1547.2,1275.7 L1548.3,1274.6 L1549.4,1273.5 L1550.6,1272.4 L1551.8,1271.3 L1553.0,1270.2 L1554.3,1269.1 L1555.5,1268.0 L1556.8,1266.9 L1558.1,1265.9 L1559.5,1264.9 L1560.9,1263.8 L1562.1,1262.7 L1563.2,1261.6 L1564.2,1260.3 L1564.9,1259.0 L1565.5,1257.6 L1565.9,1256.1 L1566.1,1254.6 L1566.2,1253.0 L1566.1,1251.3 L1565.8,1249.5 L1565.5,1247.8 L1565.1,1245.9 L1564.7,1244.1 L1564.2,1242.3 L1563.9,1240.5 L1563.6,1238.8 L1563.4,1237.1 L1563.4,1235.5 L1563.6,1233.9 L1564.0,1232.5 L1564.6,1231.1 L1565.4,1229.8 L1566.4,1228.6 L1567.6,1227.5 L1568.9,1226.4 L1570.4,1225.4 L1572.0,1224.4 L1573.7,1223.5 L1575.4,1222.6 L1577.1,1221.6 L1578.8,1220.7 L1580.3,1219.7 L1581.7,1218.6 L1582.9,1217.5 L1583.9,1216.3 L1584.7,1215.0 L1585.2,1213.6 L1585.6,1212.1 L1585.9,1210.6 L1586.0,1209.0 L1585.9,1207.4 L1585.8,1205.7 L1585.5,1203.9 L1585.2,1202.2 L1584.9,1200.4 L1584.5,1198.6 L1584.1,1196.9 L1583.8,1195.1 L1583.5,1193.3 L1583.3,1191.6 L1583.1,1189.9 L1583.1,1188.3 L1583.2,1186.7 L1583.5,1185.2 L1583.9,1183.7 L1584.5,1182.3 L1585.2,1180.9 L1586.0,1179.7 L1587.0,1178.4 L1588.2,1177.3 L1589.4,1176.2 L1590.7,1175.1 L1592.1,1174.1 L1593.6,1173.1 L1595.0,1172.1 L1596.5,1171.1 L1598.0,1170.1 L1599.4,1169.1 L1600.8,1168.1 L1602.1,1167.1 L1603.3,1166.0 L1604.4,1164.8 L1605.4,1163.7 L1606.3,1162.4 L1607.0,1161.1 L1607.6,1159.7 L1608.1,1158.3 L1608.5,1156.9 L1608.9,1155.4 L1609.2,1153.9 L1609.4,1152.3 L1609.6,1150.8 L1609.7,1149.1 L1609.8,1147.5 L1609.9,1145.9 L1610.0,1144.2 L1610.0,1142.6 L1610.1,1140.9 L1610.2,1139.3 L1610.4,1137.7 L1610.6,1136.0 L1610.8,1134.5 L1611.1,1132.9 L1611.5,1131.4 L1611.9,1129.9 L1612.5,1128.5 L1613.1,1127.1 L1613.7,1125.7 L1614.5,1124.4 L1615.3,1123.1 L1616.2,1121.9 L1617.2,1120.7 L1618.2,1119.5 L1619.3,1118.4 L1620.5,1117.3 L1621.7,1116.3 L1622.9,1115.2 L1624.1,1114.2 L1625.4,1113.2 L1626.6,1112.2 L1627.9,1111.2 L1629.2,1110.3 L1630.5,1109.4 L1631.9,1108.5 L1633.2,1107.5 L1634.5,1106.6 L1635.7,1105.6 L1636.8,1104.5 L1637.8,1103.4 L1638.6,1102.2 L1639.4,1100.9 L1640.1,1099.6 L1640.6,1098.1 L1641.1,1096.6 L1641.4,1095.1 L1641.7,1093.5 L1642.0,1091.8 L1642.2,1090.1 L1642.4,1088.4 L1642.6,1086.7 L1642.9,1085.0 L1643.2,1083.3 L1643.6,1081.7 L1644.0,1080.1 L1644.6,1078.6 L1645.3,1077.3 L1646.2,1076.0 L1647.2,1074.8 L1648.3,1073.7 L1649.5,1072.8 L1650.9,1071.9 L1652.3,1071.2 L1653.9,1070.5 L1655.5,1069.9 L1657.2,1069.4 L1658.9,1068.9 L1660.7,1068.4 L1662.4,1067.9 L1664.0,1067.4 L1665.6,1066.8 L1666.9,1066.0 L1668.2,1065.2 L1669.5,1064.4 L1670.7,1063.5 L1671.9,1062.6 L1673.0,1061.7 L1674.1,1060.7 L1675.2,1059.7 L1676.2,1058.7 L1677.2,1057.6 L1678.1,1056.4 L1679.0,1055.2 L1679.9,1054.0 L1680.7,1052.8 L1681.6,1051.5 L1682.4,1050.2 L1683.2,1048.8 L1684.0,1047.5 L1684.8,1046.1 L1685.6,1044.7 L1686.4,1043.3 L1687.2,1041.9 L1688.0,1040.5 L1688.8,1039.1 L1689.7,1037.8 L1690.6,1036.4 L1691.6,1035.1 L1692.5,1033.8 L1693.6,1032.6 L1694.6,1031.4 L1695.7,1030.3 L1696.9,1029.2 L1698.1,1028.2 L1699.3,1027.2 L1700.6,1026.3 L1701.9,1025.5 L1703.3,1024.7 L1704.7,1024.1 L1706.2,1023.6 L1707.8,1023.3 L1709.5,1023.2 L1711.2,1023.1 L1712.9,1023.2 L1714.7,1023.3 L1716.4,1023.5 L1718.2,1023.7 L1719.9,1023.9 L1721.5,1024.0 L1723.1,1024.1 L1724.7,1024.1 L1726.2,1024.0 L1727.7,1023.8 L1729.1,1023.4 L1730.5,1023.0 L1731.9,1022.4 L1733.2,1021.8 L1734.5,1021.0 L1735.7,1020.0 L1737.0,1019.0 L1738.2,1017.9 L1739.5,1016.8 L1740.8,1015.7 L1742.1,1014.6 L1743.5,1013.5 L1744.9,1012.6 L1746.3,1011.9 L1747.8,1011.3 L1749.3,1010.8 L1750.9,1010.5 L1752.4,1010.2 L1753.9,1010.0 L1755.5,1009.9 L1757.1,1009.8 L1758.6,1009.6 L1760.2,1009.5 L1761.7,1009.3" fill="none" stroke="#363636" stroke-width="1.6" stroke-linejoin="round"/>
<path d="M1033.3,1015.3 L1034.8,1015.5 L1036.3,1015.7 L1037.8,1015.9 L1039.3,1016.1 L1040.8,1016.3 L1042.3,1016.6 L1043.7,1016.8 L1045.2,1017.1 L1046.7,1017.4 L1048.2,1017.8 L1049.6,1018.2 L1051.1,1018.7 L1052.5,1019.3 L1053.9,1019.9 L1055.2,1020.6 L1056.6,1021.3 L1057.9,1021.9 L1059.3,1022.7 L1060.6,1023.4 L1061.9,1024.1 L1063.3,1024.9 L1064.6,1025.6 L1065.9,1026.4 L1067.2,1027.1 L1068.5,1027.8 L1069.8,1028.6 L1071.1,1029.3 L1072.4,1030.0 L1073.8,1030.6 L1075.1,1031.3 L1076.4,1031.9 L1077.8,1032.5 L1079.2,1033.1 L1080.5,1033.7 L1081.9,1034.2 L1083.3,1034.8 L1084.8,1035.3 L1086.2,1035.8 L1087.7,1036.2 L1089.2,1036.6 L1090.7,1037.0 L1092.2,1037.5 L1093.7,1038.0 L1095.2,1038.5 L1096.6,1039.1 L1098.0,1039.8 L1099.3,1040.5 L1100.6,1041.3 L1101.8,1042.3 L1103.0,1043.2 L1104.1,1044.3 L1105.1,1045.4 L1106.1,1046.6 L1107.1,1047.8 L1108.0,1049.1 L1108.9,1050.4 L1109.8,1051.7 L1110.7,1053.0 L1111.6,1054.2 L1112.4,1055.5 L1113.4,1056.7 L1114.3,1057.9 L1115.3,1059.0 L1116.3,1060.1 L1117.4,1061.1 L1118.5,1062.1 L1119.7,1063.0 L1120.9,1063.9 L1122.1,1064.8 L1123.4,1065.6 L1124.7,1066.5 L1126.0,1067.3 L1127.3,1068.1 L1128.7,1068.9 L1129.9,1069.8 L1131.2,1070.7 L1132.4,1071.7 L1133.6,1072.7 L1134.7,1073.7 L1135.8,1074.7 L1136.8,1075.8 L1137.9,1077.0 L1138.8,1078.2 L1139.7,1079.4 L1140.6,1080.6 L1141.4,1081.9 L1142.2,1083.2 L1143.0,1084.5 L1143.7,1085.9 L1144.3,1087.3 L1145.0,1088.7 L1145.6,1090.1 L1146.2,1091.5 L1146.8,1092.9 L1147.4,1094.3 L1148.0,1095.8 L1148.6,1097.2 L1149.2,1098.6 L1149.8,1099.9 L1150.5,1101.3 L1151.1,1102.6 L1151.9,1103.9 L1152.6,1105.2 L1153.4,1106.5 L1154.2,1107.7 L1155.1,1109.0 L1156.0,1110.2 L1156.9,1111.3 L1157.9,1112.5 L1158.9,1113.7 L1159.9,1114.8 L1161.0,1115.9 L1162.0,1117.1 L1163.1,1118.2 L1164.1,1119.3 L1165.2,1120.5 L1166.2,1121.6 L1167.3,1122.7 L1168.3,1123.9 L1169.2,1125.1 L1170.1,1126.3 L1171.0,1127.6 L1171.8,1128.9 L1172.6,1130.2 L1173.3,1131.5 L1173.9,1132.9 L1174.5,1134.3 L1175.0,1135.7 L1175.5,1137.2 L1175.8,1138.7 L1176.2,1140.2 L1176.5,1141.7 L1176.8,1143.3 L1177.0,1144.8 L1177.3,1146.4 L1177.5,1147.9 L1177.8,1149.5 L1178.0,1151.0 L1178.3,1152.5 L1178.6,1154.0 L1179.0,1155.5 L1179.5,1157.0 L1180.0,1158.4 L1180.5,1159.8 L1181.1,1161.1 L1181.8,1162.5 L1182.6,1163.8 L1183.5,1165.0 L1184.4,1166.3 L1185.3,1167.5 L1186.3,1168.7 L1187.4,1169.8 L1188.5,1171.0 L1189.6,1172.2 L1190.7,1173.3 L1191.7,1174.5 L1192.8,1175.7 L1193.8,1176.9 L1194.7,1178.1 L1195.6,1179.4 L1196.5,1180.6 L1197.3,1181.9 L1198.0,1183.3 L1198.6,1184.6 L1199.2,1186.0 L1199.7,1187.4 L1200.2,1188.9 L1200.5,1190.4 L1200.9,1191.9 L1201.1,1193.4 L1201.4,1194.9 L1201.6,1196.5 L1201.8,1198.0 L1201.9,1199.6 L1202.1,1201.1 L1202.3,1202.7 L1202.5,1204.2 L1202.7,1205.8 L1203.0,1207.3 L1203.2,1208.8 L1203.6,1210.3 L1204.0,1211.8 L1204.4,1213.2 L1204.9,1214.6 L1205.5,1216.0 L1206.1,1217.4 L1206.8,1218.7 L1207.6,1220.1 L1208.4,1221.4 L1209.2,1222.6 L1210.1,1223.9 L1211.0,1225.2 L1211.9,1226.4 L1212.8,1227.6 L1213.8,1228.9 L1214.7,1230.1 L1215.7,1231.3 L1216.6,1232.5 L1217.6,1233.8 L1218.5,1235.0 L1219.3,1236.3 L1220.1,1237.5 L1220.9,1238.8 L1221.7,1240.1 L1222.4,1241.5 L1223.0,1242.8 L1223.6,1244.2 L1224.1,1245.6 L1224.6,1247.0 L1225.1,1248.5 L1225.5,1249.9 L1225.9,1251.4 L1226.2,1252.9 L1226.6,1254.4 L1226.9,1255.9 L1227.2,1257.4 L1227.5,1258.9 L1227.9,1260.5 L1228.2,1262.0 L1228.5,1263.5 L1228.9,1265.0 L1229.4,1266.4 L1229.8,1267.9 L1230.3,1269.3 L1230.9,1270.7 L1231.5,1272.1 L1232.1,1273.5 L1232.8,1274.8 L1233.6,1276.1 L1234.4,1277.4 L1235.3,1278.6 L1236.3,1279.8 L1237.3,1281.0 L1238.3,1282.2 L1239.4,1283.3 L1240.4,1284.4 L1241.5,1285.6 L1242.6,1286.7 L1243.7,1287.8 L1244.7,1289.0 L1245.7,1290.1 L1246.6,1291.3 L1247.5,1292.6 L1248.3,1293.8 L1249.0,1295.1 L1249.7,1296.5 L1250.3,1297.9 L1250.8,1299.3 L1251.3,1300.7 L1251.8,1302.2 L1252.2,1303.7 L1252.6,1305.2 L1253.0,1306.7 L1253.4,1308.2 L1253.8,1309.7 L1254.2,1311.2 L1254.7,1312.7 L1255.2,1314.2 L1255.8,1315.6 L1256.5,1316.9 L1257.2,1318.3 L1258.1,1319.5 L1258.9,1320.8 L1259.9,1321.9 L1260.9,1323.1 L1262.0,1324.2 L1263.1,1325.3 L1264.2,1326.3 L1265.3,1327.4 L1266.4,1328.5 L1267.6,1329.5 L1268.7,1330.5 L1269.9,1331.5 L1271.0,1332.6 L1272.2,1333.6 L1273.3,1334.6 L1274.4,1335.7 L1275.5,1336.7 L1276.5,1337.8 L1277.6,1338.9 L1278.6,1340.0 L1279.5,1341.1 L1280.5,1342.3 L1281.4,1343.5 L1282.3,1344.7 L1283.1,1345.9 L1283.9,1347.2 L1284.7,1348.5 L1285.5,1349.8 L1286.2,1351.1 L1287.0,1352.4 L1287.7,1353.8 L1288.4,1355.1 L1289.2,1356.5 L1289.9,1357.9 L1290.7,1359.2 L1291.4,1360.5 L1292.2,1361.9 L1293.0,1363.2 L1293.9,1364.5 L1294.7,1365.7 L1295.6,1367.0 L1296.6,1368.1 L1297.6,1369.3 L1298.6,1370.4 L1299.7,1371.5 L1300.8,1372.5 L1302.0,1373.5 L1303.2,1374.4 L1304.4,1375.3 L1305.7,1376.1 L1307.1,1376.9 L1308.4,1377.7 L1309.8,1378.4 L1311.2,1379.2 L1312.5,1379.9 L1313.9,1380.6 L1315.3,1381.3 L1316.7,1382.0 L1318.0,1382.7 L1319.4,1383.4 L1320.7,1384.2 L1321.9,1384.9 L1323.2,1385.8 L1324.4,1386.6 L1325.6,1387.5 L1326.7,1388.4 L1327.9,1389.4 L1329.0,1390.4 L1330.1,1391.5 L1331.1,1392.5 L1332.2,1393.6 L1333.2,1394.8 L1334.3,1395.9 L1335.3,1397.0 L1336.4,1398.1 L1337.5,1399.3 L1338.6,1400.4 L1339.7,1401.4 L1340.8,1402.5 L1342.0,1403.4 L1343.2,1404.4 L1344.5,1405.3 L1345.8,1406.1 L1347.1,1406.8 L1348.5,1407.5 L1349.9,1408.1 L1351.4,1408.6 L1352.8,1409.0 L1354.3,1409.4 L1355.9,1409.7 L1357.4,1410.0 L1358.9,1410.2 L1360.5,1410.4 L1362.0,1410.6 L1363.5,1410.8 L1365.0,1411.0 L1366.5,1411.2 L1368.0,1411.4 L1369.5,1411.7 L1370.9,1412.0 L1372.4,1412.3 L1373.8,1412.7 L1375.2,1413.1 L1376.7,1413.5 L1378.1,1413.9 L1379.5,1414.3 L1380.9,1414.8 L1382.4,1415.2 L1383.8,1415.7 L1385.3,1416.1 L1386.8,1416.5 L1388.3,1416.8 L1389.8,1417.1 L1391.3,1417.3 L1392.8,1417.5 L1394.3,1417.7 L1395.8,1417.8 L1397.3,1417.8 L1398.9,1417.8 L1400.4,1417.8 L1401.9,1417.7 L1403.4,1417.5 L1404.9,1417.3 L1406.4,1417.1 L1407.9,1416.8 L1409.4,1416.4 L1410.9,1416.0 L1412.3,1415.6 L1413.8,1415.1 L1415.2,1414.5 L1416.6,1414.0 L1418.0,1413.4 L1419.4,1412.9 L1420.8,1412.3 L1422.2,1411.7 L1423.6,1411.1 L1425.0,1410.5 L1426.3,1409.9 L1427.7,1409.4 L1429.1,1408.9 L1430.5,1408.4 L1431.9,1407.9 L1433.3,1407.4 L1434.7,1407.0 L1436.2,1406.6 L1437.6,1406.3 L1439.1,1405.9 L1440.6,1405.6 L1442.1,1405.3 L1443.6,1405.0 L1445.1,1404.7 L1446.6,1404.3 L1448.1,1404.0 L1449.7,1403.6 L1451.2,1403.2 L1452.6,1402.7 L1454.1,1402.2 L1455.5,1401.6 L1456.9,1401.0 L1458.3,1400.3 L1459.6,1399.5 L1460.9,1398.7 L1462.2,1397.8 L1463.4,1396.9 L1464.6,1395.9 L1465.7,1394.9 L1466.9,1393.8 L1467.9,1392.7 L1469.0,1391.6 L1470.0,1390.4 L1471.0,1389.2 L1472.0,1388.0 L1472.9,1386.8 L1473.8,1385.6 L1474.8,1384.3 L1475.7,1383.1 L1476.6,1381.8 L1477.5,1380.6 L1478.4,1379.4 L1479.3,1378.2 L1480.3,1377.1 L1481.2,1375.9 L1482.2,1374.8 L1483.2,1373.7 L1484.3,1372.7 L1485.4,1371.6 L1486.5,1370.6 L1487.6,1369.7 L1488.7,1368.7 L1489.9,1367.8 L1491.1,1366.9 L1492.3,1366.0 L1493.6,1365.1 L1494.8,1364.2 L1496.1,1363.3 L1497.4,1362.5 L1498.8,1361.7 L1500.2,1360.9 L1501.5,1360.1 L1502.9,1359.2 L1504.1,1358.3 L1505.4,1357.3 L1506.5,1356.3 L1507.6,1355.2 L1508.6,1354.1 L1509.5,1352.9 L1510.4,1351.6 L1511.1,1350.2 L1511.8,1348.8 L1512.4,1347.4 L1512.9,1345.9 L1513.4,1344.4 L1513.8,1342.9 L1514.3,1341.3 L1514.7,1339.8 L1515.1,1338.2 L1515.5,1336.7 L1516.0,1335.2 L1516.5,1333.8 L1517.1,1332.4 L1517.7,1331.0 L1518.5,1329.7 L1519.3,1328.5 L1520.1,1327.3 L1521.1,1326.1 L1522.1,1325.0 L1523.3,1323.9 L1524.4,1322.9 L1525.6,1321.9 L1526.9,1320.9 L1528.1,1319.9 L1529.4,1318.9 L1530.6,1317.9 L1531.8,1316.8 L1532.9,1315.7 L1533.9,1314.5 L1534.9,1313.4 L1535.9,1312.2 L1536.8,1310.9 L1537.7,1309.7 L1538.5,1308.4 L1539.2,1307.1 L1539.9,1305.7 L1540.5,1304.4 L1541.1,1303.0 L1541.7,1301.5 L1542.1,1300.1 L1542.6,1298.6 L1543.0,1297.1 L1543.3,1295.6 L1543.7,1294.1 L1544.0,1292.5 L1544.3,1291.0 L1544.6,1289.5 L1544.9,1288.0 L1545.2,1286.4 L1545.5,1284.9 L1545.9,1283.4 L1546.2,1281.9 L1546.6,1280.5 L1547.1,1279.0 L1547.6,1277.6 L1548.1,1276.2 L1548.7,1274.8 L1549.3,1273.4 L1550.0,1272.1 L1550.7,1270.8 L1551.4,1269.5 L1552.3,1268.2 L1553.1,1266.9 L1554.0,1265.7 L1554.9,1264.5 L1556.0,1263.3 L1557.1,1262.2 L1558.3,1261.0 L1559.5,1259.9 L1560.6,1258.8 L1561.7,1257.6 L1562.8,1256.4 L1563.8,1255.2 L1564.7,1254.0 L1565.4,1252.7 L1566.1,1251.3 L1566.7,1249.9 L1567.1,1248.4 L1567.4,1246.9 L1567.7,1245.4 L1567.8,1243.8 L1567.8,1242.2 L1567.8,1240.6 L1567.8,1238.9 L1567.7,1237.3 L1567.7,1235.6 L1567.7,1234.0 L1567.7,1232.4 L1567.9,1230.8 L1568.1,1229.3 L1568.5,1227.8 L1568.9,1226.4 L1569.5,1225.0 L1570.3,1223.7 L1571.1,1222.4 L1572.1,1221.2 L1573.2,1220.0 L1574.3,1218.9 L1575.5,1217.7 L1576.8,1216.6 L1578.1,1215.5 L1579.3,1214.4 L1580.5,1213.3 L1581.6,1212.1 L1582.5,1210.8 L1583.4,1209.6 L1584.3,1208.3 L1585.0,1207.0 L1585.6,1205.6 L1586.1,1204.2 L1586.6,1202.8 L1587.0,1201.3 L1587.2,1199.8 L1587.4,1198.2 L1587.6,1196.7 L1587.7,1195.1 L1587.7,1193.5 L1587.8,1191.9 L1587.8,1190.2 L1587.8,1188.6 L1587.9,1187.0 L1588.0,1185.4 L1588.1,1183.8 L1588.3,1182.3 L1588.6,1180.7 L1588.9,1179.3 L1589.3,1177.8 L1589.8,1176.4 L1590.4,1175.0 L1591.1,1173.6 L1591.9,1172.3 L1592.8,1171.1 L1593.7,1169.8 L1594.7,1168.6 L1595.7,1167.4 L1596.8,1166.3 L1598.0,1165.1 L1599.1,1164.0 L1600.2,1162.9 L1601.4,1161.7 L1602.5,1160.6 L1603.5,1159.4 L1604.4,1158.2 L1605.4,1157.0 L1606.3,1155.8 L1607.1,1154.5 L1607.9,1153.2 L1608.6,1151.9 L1609.3,1150.6 L1610.0,1149.3 L1610.6,1147.9 L1611.1,1146.5 L1611.7,1145.1 L1612.1,1143.7 L1612.6,1142.2 L1613.0,1140.7 L1613.4,1139.3 L1613.8,1137.8 L1614.2,1136.3 L1614.5,1134.8 L1614.9,1133.2 L1615.3,1131.7 L1615.7,1130.2 L1616.1,1128.8 L1616.6,1127.3 L1617.0,1125.8 L1617.6,1124.4 L1618.1,1123.0 L1618.7,1121.6 L1619.4,1120.2 L1620.1,1118.8 L1620.8,1117.5 L1621.6,1116.2 L1622.4,1114.9 L1623.3,1113.7 L1624.2,1112.5 L1625.1,1111.3 L1626.1,1110.1 L1627.1,1109.0 L1628.2,1107.9 L1629.3,1106.8 L1630.5,1105.8 L1631.7,1104.7 L1632.9,1103.7 L1634.1,1102.7 L1635.3,1101.7 L1636.4,1100.7 L1637.6,1099.7 L1638.7,1098.6 L1639.7,1097.5 L1640.7,1096.3 L1641.6,1095.2 L1642.4,1093.9 L1643.2,1092.6 L1643.9,1091.3 L1644.5,1089.9 L1645.1,1088.5 L1645.7,1087.1 L1646.2,1085.6 L1646.7,1084.1 L1647.2,1082.6 L1647.7,1081.0 L1648.2,1079.5 L1648.8,1078.0 L1649.4,1076.6 L1650.1,1075.2 L1650.8,1073.8 L1651.6,1072.5 L1652.5,1071.3 L1653.5,1070.1 L1654.5,1069.0 L1655.7,1068.0 L1656.9,1067.1 L1658.2,1066.2 L1659.6,1065.4 L1661.0,1064.6 L1662.4,1063.8 L1663.7,1063.0 L1665.0,1062.1 L1666.3,1061.3 L1667.6,1060.5 L1668.9,1059.7 L1670.2,1058.8 L1671.4,1058.0 L1672.7,1057.2 L1674.0,1056.4 L1675.2,1055.5 L1676.5,1054.7 L1677.7,1053.8 L1678.9,1052.9 L1680.1,1052.0 L1681.2,1051.1 L1682.3,1050.1 L1683.5,1049.2 L1684.6,1048.2 L1685.6,1047.2 L1686.7,1046.1 L1687.8,1045.1 L1688.8,1044.0 L1689.8,1042.9 L1690.9,1041.8 L1691.9,1040.7 L1692.9,1039.6 L1693.9,1038.5 L1695.0,1037.3 L1696.0,1036.2 L1697.1,1035.1 L1698.1,1034.0 L1699.2,1032.8 L1700.3,1031.8 L1701.4,1030.7 L1702.6,1029.6 L1703.7,1028.6 L1704.9,1027.6 L1706.1,1026.6 L1707.3,1025.6 L1708.6,1024.7 L1709.9,1023.9 L1711.2,1023.2 L1712.7,1022.6 L1714.1,1022.1 L1715.6,1021.7 L1717.2,1021.4 L1718.7,1021.2 L1720.3,1021.0 L1721.9,1020.9 L1723.5,1020.8 L1725.0,1020.7 L1726.6,1020.6 L1728.2,1020.6 L1729.7,1020.5 L1731.2,1020.3 L1732.7,1020.1 L1734.2,1019.9 L1735.6,1019.6 L1737.0,1019.3 L1738.5,1018.9 L1739.9,1018.5 L1741.3,1018.0 L1742.7,1017.6 L1744.1,1017.1 L1745.5,1016.5 L1747.0,1016.0 L1748.4,1015.5 L1749.9,1015.1 L1751.3,1014.9 L1752.8,1014.7 L1754.3,1014.6 L1755.8,1014.6 L1757.3,1014.6 L1758.8,1014.8 L1760.3,1014.9 L1761.8,1015.1" fill="none" stroke="#363636" stroke-width="1.6" stroke-linejoin="round"/>
<path d="M1015,996 C1023,1003 1024,1012 1019.5,1019 C1015,1026 1016,1034 1021.5,1040" fill="none" stroke="#363636" stroke-width="2.3"/>
<path d="M1029,996 C1037,1003 1038,1012 1033.5,1019 C1029,1026 1030,1034 1035.5,1040" fill="none" stroke="#363636" stroke-width="2.3"/>
<defs><pattern id="hatch" patternUnits="userSpaceOnUse" width="7.5" height="6" y="-3"><path d="M-0.5,-0.4 L8,6.4 M8,-0.4 L-0.5,6.4" stroke="#363636" stroke-width="1.35"/></pattern></defs>
<g transform="translate(360.5,1046.4) rotate(130.8)"><path d="M0.5,-4.2 C-3,-4.2 -5,-2.5 -8,0.5 M0.5,4.2 C-3,4.2 -5,3 -8,0.5" stroke="#363636" stroke-width="1.5" fill="none"/><rect x="0" y="-6.2" width="39.6" height="12.4" fill="#fff"/><rect x="0" y="-6.2" width="28.1" height="12.4" fill="url(#hatch)"/><path d="M0,-6.2 H28.1 L39.6,-5.4 Q38.1,0 39.6,5.4 L28.1,6.2 H0 Z M28.1,-6.2 V6.2" fill="none" stroke="#363636" stroke-width="1.7" stroke-linejoin="round"/></g>
<g transform="translate(429.7,1100.8) rotate(-29.4)"><path d="M0.5,-4.2 C-3,-4.2 -5,-2.5 -8,0.5 M0.5,4.2 C-3,4.2 -5,3 -8,0.5" stroke="#363636" stroke-width="1.5" fill="none"/><rect x="0" y="-6.2" width="40.4" height="12.4" fill="#fff"/><rect x="0" y="-6.2" width="28.7" height="12.4" fill="url(#hatch)"/><path d="M0,-6.2 H28.7 L40.4,-5.4 Q38.9,0 40.4,5.4 L28.7,6.2 H0 Z M28.7,-6.2 V6.2" fill="none" stroke="#363636" stroke-width="1.7" stroke-linejoin="round"/></g>
<g transform="translate(462.5,1207.4) rotate(151.6)"><path d="M0.5,-4.2 C-3,-4.2 -5,-2.5 -8,0.5 M0.5,4.2 C-3,4.2 -5,3 -8,0.5" stroke="#363636" stroke-width="1.5" fill="none"/><rect x="0" y="-6.2" width="41.3" height="12.4" fill="#fff"/><rect x="0" y="-6.2" width="29.3" height="12.4" fill="url(#hatch)"/><path d="M0,-6.2 H29.3 L41.3,-5.4 Q39.8,0 41.3,5.4 L29.3,6.2 H0 Z M29.3,-6.2 V6.2" fill="none" stroke="#363636" stroke-width="1.7" stroke-linejoin="round"/></g>
<g transform="translate(522.7,1297.4) rotate(-33.7)"><path d="M0.5,-4.2 C-3,-4.2 -5,-2.5 -8,0.5 M0.5,4.2 C-3,4.2 -5,3 -8,0.5" stroke="#363636" stroke-width="1.5" fill="none"/><rect x="0" y="-6.2" width="41.1" height="12.4" fill="#fff"/><rect x="0" y="-6.2" width="29.2" height="12.4" fill="url(#hatch)"/><path d="M0,-6.2 H29.2 L41.1,-5.4 Q39.6,0 41.1,5.4 L29.2,6.2 H0 Z M29.2,-6.2 V6.2" fill="none" stroke="#363636" stroke-width="1.7" stroke-linejoin="round"/></g>
<g transform="translate(561.5,1381.8) rotate(140.8)"><path d="M0.5,-4.2 C-3,-4.2 -5,-2.5 -8,0.5 M0.5,4.2 C-3,4.2 -5,3 -8,0.5" stroke="#363636" stroke-width="1.5" fill="none"/><rect x="0" y="-6.2" width="39.6" height="12.4" fill="#fff"/><rect x="0" y="-6.2" width="28.1" height="12.4" fill="url(#hatch)"/><path d="M0,-6.2 H28.1 L39.6,-5.4 Q38.1,0 39.6,5.4 L28.1,6.2 H0 Z M28.1,-6.2 V6.2" fill="none" stroke="#363636" stroke-width="1.7" stroke-linejoin="round"/></g>
<g transform="translate(653.1,1410.2) rotate(-90.0)"><path d="M0.5,-4.2 C-3,-4.2 -5,-2.5 -8,0.5 M0.5,4.2 C-3,4.2 -5,3 -8,0.5" stroke="#363636" stroke-width="1.5" fill="none"/><rect x="0" y="-6.2" width="40.6" height="12.4" fill="#fff"/><rect x="0" y="-6.2" width="28.8" height="12.4" fill="url(#hatch)"/><path d="M0,-6.2 H28.8 L40.6,-5.4 Q39.1,0 40.6,5.4 L28.8,6.2 H0 Z M28.8,-6.2 V6.2" fill="none" stroke="#363636" stroke-width="1.7" stroke-linejoin="round"/></g>
<g transform="translate(748.1,1386.3) rotate(39.0)"><path d="M0.5,-4.2 C-3,-4.2 -5,-2.5 -8,0.5 M0.5,4.2 C-3,4.2 -5,3 -8,0.5" stroke="#363636" stroke-width="1.5" fill="none"/><rect x="0" y="-6.2" width="47" height="12.4" fill="#fff"/><rect x="0" y="-6.2" width="33.4" height="12.4" fill="url(#hatch)"/><path d="M0,-6.2 H33.4 L47,-5.4 Q45.5,0 47,5.4 L33.4,6.2 H0 Z M33.4,-6.2 V6.2" fill="none" stroke="#363636" stroke-width="1.7" stroke-linejoin="round"/></g>
<g transform="translate(793.7,1302.2) rotate(-155.5)"><path d="M0.5,-4.2 C-3,-4.2 -5,-2.5 -8,0.5 M0.5,4.2 C-3,4.2 -5,3 -8,0.5" stroke="#363636" stroke-width="1.5" fill="none"/><rect x="0" y="-6.2" width="43.9" height="12.4" fill="#fff"/><rect x="0" y="-6.2" width="31.1" height="12.4" fill="url(#hatch)"/><path d="M0,-6.2 H31.1 L43.9,-5.4 Q42.4,0 43.9,5.4 L31.1,6.2 H0 Z M31.1,-6.2 V6.2" fill="none" stroke="#363636" stroke-width="1.7" stroke-linejoin="round"/></g>
<g transform="translate(863.8,1192.5) rotate(23.5)"><path d="M0.5,-4.2 C-3,-4.2 -5,-2.5 -8,0.5 M0.5,4.2 C-3,4.2 -5,3 -8,0.5" stroke="#363636" stroke-width="1.5" fill="none"/><rect x="0" y="-6.2" width="44.7" height="12.4" fill="#fff"/><rect x="0" y="-6.2" width="31.7" height="12.4" fill="url(#hatch)"/><path d="M0,-6.2 H31.7 L44.7,-5.4 Q43.2,0 44.7,5.4 L31.7,6.2 H0 Z M31.7,-6.2 V6.2" fill="none" stroke="#363636" stroke-width="1.7" stroke-linejoin="round"/></g>
<g transform="translate(910.1,1075.5) rotate(-129.9)"><path d="M0.5,-4.2 C-3,-4.2 -5,-2.5 -8,0.5 M0.5,4.2 C-3,4.2 -5,3 -8,0.5" stroke="#363636" stroke-width="1.5" fill="none"/><rect x="0" y="-6.2" width="40.4" height="12.4" fill="#fff"/><rect x="0" y="-6.2" width="28.7" height="12.4" fill="url(#hatch)"/><path d="M0,-6.2 H28.7 L40.4,-5.4 Q38.9,0 40.4,5.4 L28.7,6.2 H0 Z M28.7,-6.2 V6.2" fill="none" stroke="#363636" stroke-width="1.7" stroke-linejoin="round"/></g>
<g transform="translate(1150.2,1081.9) rotate(-31.8)"><path d="M0.5,-4.2 C-3,-4.2 -5,-2.5 -8,0.5 M0.5,4.2 C-3,4.2 -5,3 -8,0.5" stroke="#363636" stroke-width="1.5" fill="none"/><rect x="0" y="-6.2" width="38.9" height="12.4" fill="#fff"/><rect x="0" y="-6.2" width="27.6" height="12.4" fill="url(#hatch)"/><path d="M0,-6.2 H27.6 L38.9,-5.4 Q37.4,0 38.9,5.4 L27.6,6.2 H0 Z M27.6,-6.2 V6.2" fill="none" stroke="#363636" stroke-width="1.7" stroke-linejoin="round"/></g>
<g transform="translate(1186,1189.6) rotate(156.1)"><path d="M0.5,-4.2 C-3,-4.2 -5,-2.5 -8,0.5 M0.5,4.2 C-3,4.2 -5,3 -8,0.5" stroke="#363636" stroke-width="1.5" fill="none"/><rect x="0" y="-6.2" width="40.7" height="12.4" fill="#fff"/><rect x="0" y="-6.2" width="28.9" height="12.4" fill="url(#hatch)"/><path d="M0,-6.2 H28.9 L40.7,-5.4 Q39.2,0 40.7,5.4 L28.9,6.2 H0 Z M28.9,-6.2 V6.2" fill="none" stroke="#363636" stroke-width="1.7" stroke-linejoin="round"/></g>
<g transform="translate(1264.8,1302.2) rotate(-23.6)"><path d="M0.5,-4.2 C-3,-4.2 -5,-2.5 -8,0.5 M0.5,4.2 C-3,4.2 -5,3 -8,0.5" stroke="#363636" stroke-width="1.5" fill="none"/><rect x="0" y="-6.2" width="39.9" height="12.4" fill="#fff"/><rect x="0" y="-6.2" width="28.4" height="12.4" fill="url(#hatch)"/><path d="M0,-6.2 H28.4 L39.9,-5.4 Q38.4,0 39.9,5.4 L28.4,6.2 H0 Z M28.4,-6.2 V6.2" fill="none" stroke="#363636" stroke-width="1.7" stroke-linejoin="round"/></g>
<g transform="translate(1331.2,1407) rotate(132.9)"><path d="M0.5,-4.2 C-3,-4.2 -5,-2.5 -8,0.5 M0.5,4.2 C-3,4.2 -5,3 -8,0.5" stroke="#363636" stroke-width="1.5" fill="none"/><rect x="0" y="-6.2" width="42" height="12.4" fill="#fff"/><rect x="0" y="-6.2" width="29.8" height="12.4" fill="url(#hatch)"/><path d="M0,-6.2 H29.8 L42,-5.4 Q40.5,0 42,5.4 L29.8,6.2 H0 Z M29.8,-6.2 V6.2" fill="none" stroke="#363636" stroke-width="1.7" stroke-linejoin="round"/></g>
<g transform="translate(1462.4,1388) rotate(-127.5)"><path d="M0.5,-4.2 C-3,-4.2 -5,-2.5 -8,0.5 M0.5,4.2 C-3,4.2 -5,3 -8,0.5" stroke="#363636" stroke-width="1.5" fill="none"/><rect x="0" y="-6.2" width="43.1" height="12.4" fill="#fff"/><rect x="0" y="-6.2" width="30.6" height="12.4" fill="url(#hatch)"/><path d="M0,-6.2 H30.6 L43.1,-5.4 Q41.6,0 43.1,5.4 L30.6,6.2 H0 Z M30.6,-6.2 V6.2" fill="none" stroke="#363636" stroke-width="1.7" stroke-linejoin="round"/></g>
<g transform="translate(1546.1,1304.2) rotate(36.2)"><path d="M0.5,-4.2 C-3,-4.2 -5,-2.5 -8,0.5 M0.5,4.2 C-3,4.2 -5,3 -8,0.5" stroke="#363636" stroke-width="1.5" fill="none"/><rect x="0" y="-6.2" width="42.3" height="12.4" fill="#fff"/><rect x="0" y="-6.2" width="30" height="12.4" fill="url(#hatch)"/><path d="M0,-6.2 H30 L42.3,-5.4 Q40.8,0 42.3,5.4 L30,6.2 H0 Z M30,-6.2 V6.2" fill="none" stroke="#363636" stroke-width="1.7" stroke-linejoin="round"/></g>
<g transform="translate(1584.4,1175.7) rotate(-160.6)"><path d="M0.5,-4.2 C-3,-4.2 -5,-2.5 -8,0.5 M0.5,4.2 C-3,4.2 -5,3 -8,0.5" stroke="#363636" stroke-width="1.5" fill="none"/><rect x="0" y="-6.2" width="40.6" height="12.4" fill="#fff"/><rect x="0" y="-6.2" width="28.8" height="12.4" fill="url(#hatch)"/><path d="M0,-6.2 H28.8 L40.6,-5.4 Q39.1,0 40.6,5.4 L28.8,6.2 H0 Z M28.8,-6.2 V6.2" fill="none" stroke="#363636" stroke-width="1.7" stroke-linejoin="round"/></g>
<g transform="translate(1658.3,1085.2) rotate(29.1)"><path d="M0.5,-4.2 C-3,-4.2 -5,-2.5 -8,0.5 M0.5,4.2 C-3,4.2 -5,3 -8,0.5" stroke="#363636" stroke-width="1.5" fill="none"/><rect x="0" y="-6.2" width="42.7" height="12.4" fill="#fff"/><rect x="0" y="-6.2" width="30.3" height="12.4" fill="url(#hatch)"/><path d="M0,-6.2 H30.3 L42.7,-5.4 Q41.2,0 42.7,5.4 L30.3,6.2 H0 Z M30.3,-6.2 V6.2" fill="none" stroke="#363636" stroke-width="1.7" stroke-linejoin="round"/></g>
</svg></body></html>
